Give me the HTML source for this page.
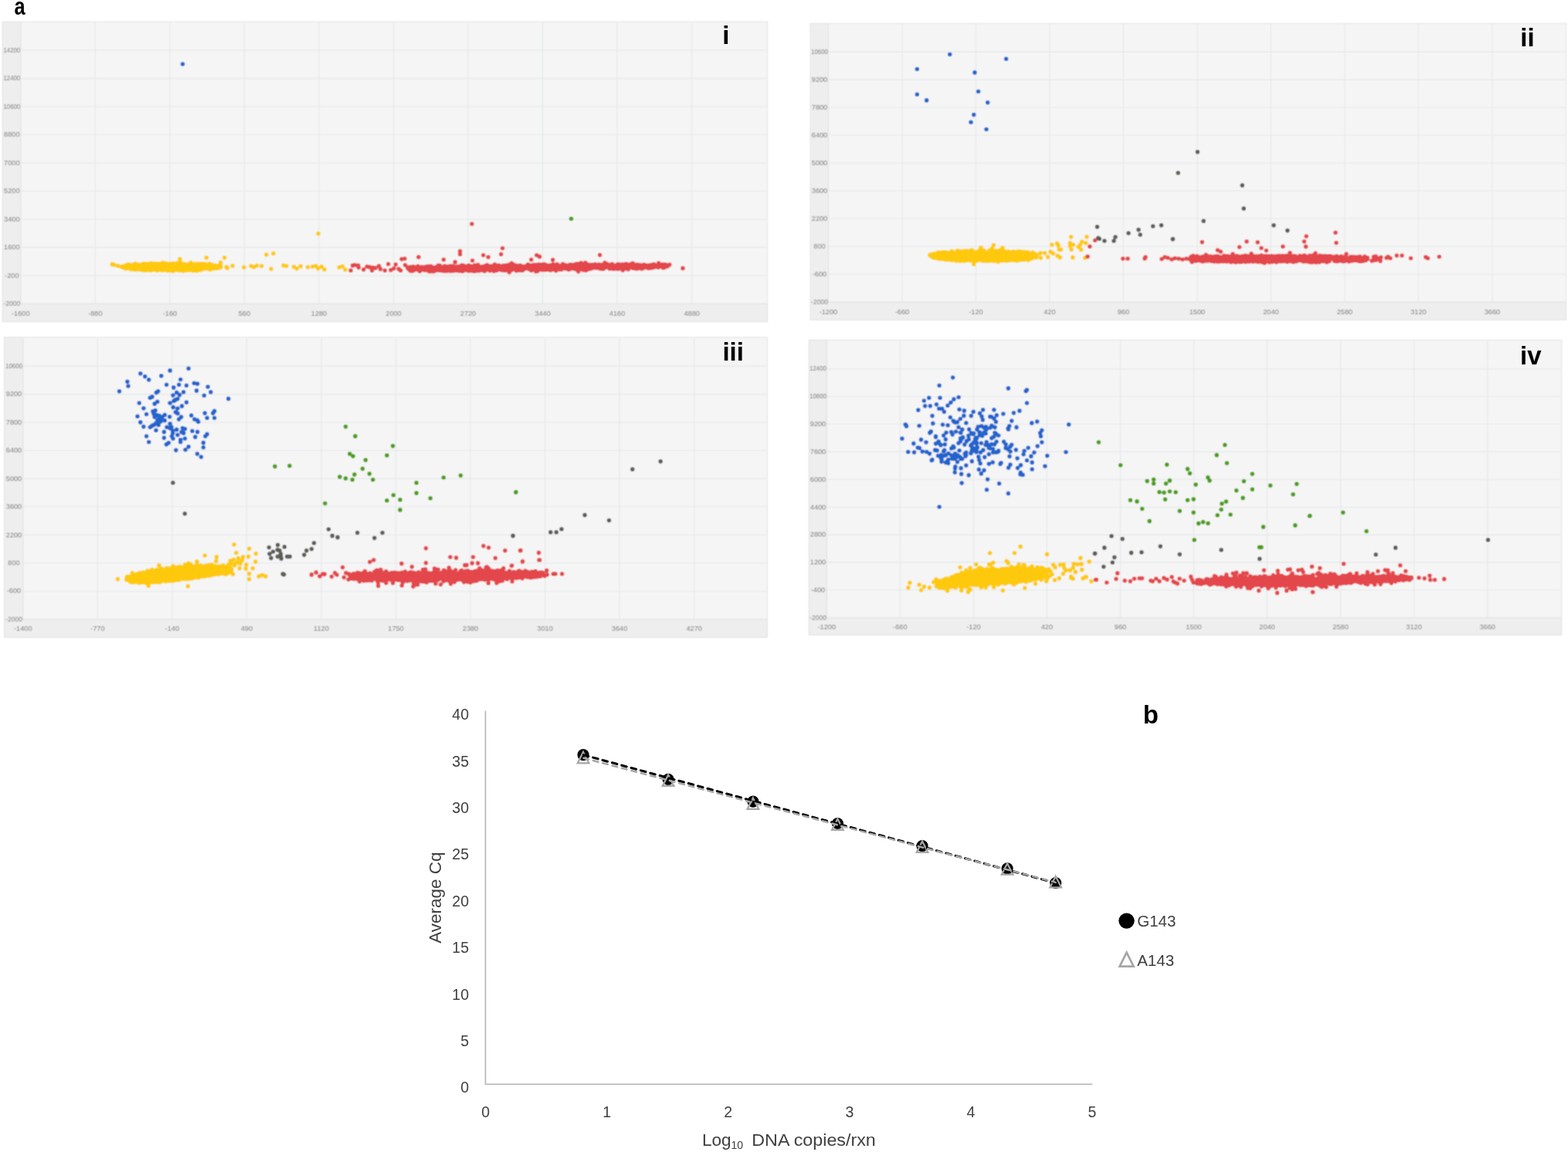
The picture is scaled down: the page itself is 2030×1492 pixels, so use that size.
<!DOCTYPE html><html><head><meta charset="utf-8"><title>Figure</title><style>html,body{margin:0;padding:0;background:#fff;}svg{display:block;}.tk{font-family:"Liberation Sans",Arial,sans-serif;font-size:9.5px;fill:#777;}.pl{font-family:"Liberation Sans",Arial,sans-serif;font-weight:bold;font-size:33px;fill:#000;}.ax{font-family:"Liberation Sans",Arial,sans-serif;fill:#404040;}</style></head><body>
<svg width="2030" height="1492" viewBox="0 0 2030 1492">
<rect width="2030" height="1492" fill="#fff"/>
<filter id="soft" filterUnits="userSpaceOnUse" x="0" y="20" width="2030" height="820"><feConvolveMatrix order="3" kernelMatrix="1 2 1 2 4 2 1 2 1" divisor="16" edgeMode="none"/></filter>
<g filter="url(#soft)">
<clipPath id="c0"><rect x="26.8" y="28.2" width="966.8" height="365.2"/></clipPath>
<rect x="3.2" y="28.2" width="990.4" height="388.4" fill="#eeeeee" stroke="#e0e0e0" stroke-width="1"/>
<rect x="26.8" y="28.7" width="966.3" height="364.7" fill="#f5f5f5"/>
<path d="M123.3 28.7V393.4M219.9 28.7V393.4M316.4 28.7V393.4M413 28.7V393.4M509.5 28.7V393.4M606 28.7V393.4M702.6 28.7V393.4M799.1 28.7V393.4M895.7 28.7V393.4M26.8 356.9H992.6M26.8 320.4H992.6M26.8 284H992.6M26.8 247.5H992.6M26.8 211H992.6M26.8 174.5H992.6M26.8 138H992.6M26.8 101.6H992.6M26.8 65.1H992.6" stroke="#e4e7e9" stroke-width="1.1" fill="none"/>
<path d="M26.8 28.7V393.4H993.1" stroke="#e2e2e2" stroke-width="1.2" fill="none"/>
<text class="tk" text-anchor="middle" transform="translate(15.3 396.1) scale(0.897 1)">-2000</text>
<text class="tk" text-anchor="middle" transform="translate(15.3 359.6) scale(0.970 1)">-200</text>
<text class="tk" text-anchor="middle" transform="translate(15.3 323.1) scale(0.970 1)">1600</text>
<text class="tk" text-anchor="middle" transform="translate(15.3 286.7) scale(0.970 1)">3400</text>
<text class="tk" text-anchor="middle" transform="translate(15.3 250.2) scale(0.970 1)">5200</text>
<text class="tk" text-anchor="middle" transform="translate(15.3 213.7) scale(0.970 1)">7000</text>
<text class="tk" text-anchor="middle" transform="translate(15.3 177.2) scale(0.970 1)">8800</text>
<text class="tk" text-anchor="middle" transform="translate(15.3 140.7) scale(0.825 1)">10600</text>
<text class="tk" text-anchor="middle" transform="translate(15.3 104.3) scale(0.825 1)">12400</text>
<text class="tk" text-anchor="middle" transform="translate(15.3 67.8) scale(0.825 1)">14200</text>
<text class="tk" text-anchor="middle" transform="translate(26.8 408.7) scale(0.97 1)">-1600</text>
<text class="tk" text-anchor="middle" transform="translate(123.3 408.7) scale(0.97 1)">-880</text>
<text class="tk" text-anchor="middle" transform="translate(219.9 408.7) scale(0.97 1)">-160</text>
<text class="tk" text-anchor="middle" transform="translate(316.4 408.7) scale(0.97 1)">560</text>
<text class="tk" text-anchor="middle" transform="translate(413 408.7) scale(0.97 1)">1280</text>
<text class="tk" text-anchor="middle" transform="translate(509.5 408.7) scale(0.97 1)">2000</text>
<text class="tk" text-anchor="middle" transform="translate(606 408.7) scale(0.97 1)">2720</text>
<text class="tk" text-anchor="middle" transform="translate(702.6 408.7) scale(0.97 1)">3440</text>
<text class="tk" text-anchor="middle" transform="translate(799.1 408.7) scale(0.97 1)">4160</text>
<text class="tk" text-anchor="middle" transform="translate(895.7 408.7) scale(0.97 1)">4880</text>
<clipPath id="c1"><rect x="1072.4" y="30.4" width="955.2" height="360.8"/></clipPath>
<rect x="1049.1" y="30.4" width="978.5" height="383.8" fill="#eeeeee" stroke="#e0e0e0" stroke-width="1"/>
<rect x="1072.4" y="30.9" width="954.7" height="360.3" fill="#f5f5f5"/>
<path d="M1167.9 30.9V391.2M1263.4 30.9V391.2M1358.9 30.9V391.2M1454.4 30.9V391.2M1549.9 30.9V391.2M1645.4 30.9V391.2M1740.9 30.9V391.2M1836.4 30.9V391.2M1931.9 30.9V391.2M1072.4 355.2H2026.6M1072.4 319.2H2026.6M1072.4 283.3H2026.6M1072.4 247.3H2026.6M1072.4 211.3H2026.6M1072.4 175.3H2026.6M1072.4 139.3H2026.6M1072.4 103.4H2026.6M1072.4 67.4H2026.6" stroke="#e4e7e9" stroke-width="1.1" fill="none"/>
<path d="M1072.4 30.9V391.2H2027.1" stroke="#e2e2e2" stroke-width="1.2" fill="none"/>
<text class="tk" text-anchor="middle" transform="translate(1061 393.9) scale(0.897 1)">-2000</text>
<text class="tk" text-anchor="middle" transform="translate(1061 357.9) scale(0.970 1)">-600</text>
<text class="tk" text-anchor="middle" transform="translate(1061 321.9) scale(0.970 1)">800</text>
<text class="tk" text-anchor="middle" transform="translate(1061 286) scale(0.970 1)">2200</text>
<text class="tk" text-anchor="middle" transform="translate(1061 250) scale(0.970 1)">3600</text>
<text class="tk" text-anchor="middle" transform="translate(1061 214) scale(0.970 1)">5000</text>
<text class="tk" text-anchor="middle" transform="translate(1061 178) scale(0.970 1)">6400</text>
<text class="tk" text-anchor="middle" transform="translate(1061 142) scale(0.970 1)">7800</text>
<text class="tk" text-anchor="middle" transform="translate(1061 106.1) scale(0.970 1)">9200</text>
<text class="tk" text-anchor="middle" transform="translate(1061 70.1) scale(0.825 1)">10600</text>
<text class="tk" text-anchor="middle" transform="translate(1072.4 406.5) scale(0.97 1)">-1200</text>
<text class="tk" text-anchor="middle" transform="translate(1167.9 406.5) scale(0.97 1)">-660</text>
<text class="tk" text-anchor="middle" transform="translate(1263.4 406.5) scale(0.97 1)">-120</text>
<text class="tk" text-anchor="middle" transform="translate(1358.9 406.5) scale(0.97 1)">420</text>
<text class="tk" text-anchor="middle" transform="translate(1454.4 406.5) scale(0.97 1)">960</text>
<text class="tk" text-anchor="middle" transform="translate(1549.9 406.5) scale(0.97 1)">1500</text>
<text class="tk" text-anchor="middle" transform="translate(1645.4 406.5) scale(0.97 1)">2040</text>
<text class="tk" text-anchor="middle" transform="translate(1740.9 406.5) scale(0.97 1)">2580</text>
<text class="tk" text-anchor="middle" transform="translate(1836.4 406.5) scale(0.97 1)">3120</text>
<text class="tk" text-anchor="middle" transform="translate(1931.9 406.5) scale(0.97 1)">3660</text>
<clipPath id="c2"><rect x="29.8" y="436.9" width="963.5" height="365.2"/></clipPath>
<rect x="5.6" y="436.9" width="987.7" height="388.6" fill="#eeeeee" stroke="#e0e0e0" stroke-width="1"/>
<rect x="29.8" y="437.4" width="963" height="364.7" fill="#f5f5f5"/>
<path d="M126.3 437.4V802.1M222.8 437.4V802.1M319.4 437.4V802.1M415.9 437.4V802.1M512.5 437.4V802.1M609 437.4V802.1M705.6 437.4V802.1M802.1 437.4V802.1M898.7 437.4V802.1M29.8 765.7H992.3M29.8 729.2H992.3M29.8 692.8H992.3M29.8 656.3H992.3M29.8 619.9H992.3M29.8 583.5H992.3M29.8 547H992.3M29.8 510.6H992.3M29.8 474.1H992.3" stroke="#e4e7e9" stroke-width="1.1" fill="none"/>
<path d="M29.8 437.4V802.1H992.8" stroke="#e2e2e2" stroke-width="1.2" fill="none"/>
<text class="tk" text-anchor="middle" transform="translate(18 804.8) scale(0.897 1)">-2000</text>
<text class="tk" text-anchor="middle" transform="translate(18 768.4) scale(0.970 1)">-600</text>
<text class="tk" text-anchor="middle" transform="translate(18 731.9) scale(0.970 1)">800</text>
<text class="tk" text-anchor="middle" transform="translate(18 695.5) scale(0.970 1)">2200</text>
<text class="tk" text-anchor="middle" transform="translate(18 659) scale(0.970 1)">3600</text>
<text class="tk" text-anchor="middle" transform="translate(18 622.6) scale(0.970 1)">5000</text>
<text class="tk" text-anchor="middle" transform="translate(18 586.2) scale(0.970 1)">6400</text>
<text class="tk" text-anchor="middle" transform="translate(18 549.7) scale(0.970 1)">7800</text>
<text class="tk" text-anchor="middle" transform="translate(18 513.3) scale(0.970 1)">9200</text>
<text class="tk" text-anchor="middle" transform="translate(18 476.8) scale(0.825 1)">10600</text>
<text class="tk" text-anchor="middle" transform="translate(29.8 817.4) scale(0.97 1)">-1400</text>
<text class="tk" text-anchor="middle" transform="translate(126.3 817.4) scale(0.97 1)">-770</text>
<text class="tk" text-anchor="middle" transform="translate(222.8 817.4) scale(0.97 1)">-140</text>
<text class="tk" text-anchor="middle" transform="translate(319.4 817.4) scale(0.97 1)">490</text>
<text class="tk" text-anchor="middle" transform="translate(415.9 817.4) scale(0.97 1)">1120</text>
<text class="tk" text-anchor="middle" transform="translate(512.5 817.4) scale(0.97 1)">1750</text>
<text class="tk" text-anchor="middle" transform="translate(609 817.4) scale(0.97 1)">2380</text>
<text class="tk" text-anchor="middle" transform="translate(705.6 817.4) scale(0.97 1)">3010</text>
<text class="tk" text-anchor="middle" transform="translate(802.1 817.4) scale(0.97 1)">3640</text>
<text class="tk" text-anchor="middle" transform="translate(898.7 817.4) scale(0.97 1)">4270</text>
<clipPath id="c3"><rect x="1070.3" y="440.3" width="951.4" height="359.8"/></clipPath>
<rect x="1047.2" y="440.3" width="974.5" height="382.2" fill="#eeeeee" stroke="#e0e0e0" stroke-width="1"/>
<rect x="1070.3" y="440.8" width="950.9" height="359.3" fill="#f5f5f5"/>
<path d="M1165.3 440.8V800.1M1260.4 440.8V800.1M1355.4 440.8V800.1M1450.5 440.8V800.1M1545.5 440.8V800.1M1640.5 440.8V800.1M1735.6 440.8V800.1M1830.6 440.8V800.1M1925.7 440.8V800.1M1070.3 764.3H2020.7M1070.3 728.4H2020.7M1070.3 692.6H2020.7M1070.3 656.8H2020.7M1070.3 621H2020.7M1070.3 585.1H2020.7M1070.3 549.3H2020.7M1070.3 513.5H2020.7M1070.3 477.6H2020.7" stroke="#e4e7e9" stroke-width="1.1" fill="none"/>
<path d="M1070.3 440.8V800.1H2021.2" stroke="#e2e2e2" stroke-width="1.2" fill="none"/>
<text class="tk" text-anchor="middle" transform="translate(1059 802.8) scale(0.897 1)">-2000</text>
<text class="tk" text-anchor="middle" transform="translate(1059 767) scale(0.970 1)">-400</text>
<text class="tk" text-anchor="middle" transform="translate(1059 731.1) scale(0.970 1)">1200</text>
<text class="tk" text-anchor="middle" transform="translate(1059 695.3) scale(0.970 1)">2800</text>
<text class="tk" text-anchor="middle" transform="translate(1059 659.5) scale(0.970 1)">4400</text>
<text class="tk" text-anchor="middle" transform="translate(1059 623.7) scale(0.970 1)">6000</text>
<text class="tk" text-anchor="middle" transform="translate(1059 587.8) scale(0.970 1)">7600</text>
<text class="tk" text-anchor="middle" transform="translate(1059 552) scale(0.970 1)">9200</text>
<text class="tk" text-anchor="middle" transform="translate(1059 516.2) scale(0.825 1)">10800</text>
<text class="tk" text-anchor="middle" transform="translate(1059 480.3) scale(0.825 1)">12400</text>
<text class="tk" text-anchor="middle" transform="translate(1070.3 815.4) scale(0.97 1)">-1200</text>
<text class="tk" text-anchor="middle" transform="translate(1165.3 815.4) scale(0.97 1)">-660</text>
<text class="tk" text-anchor="middle" transform="translate(1260.4 815.4) scale(0.97 1)">-120</text>
<text class="tk" text-anchor="middle" transform="translate(1355.4 815.4) scale(0.97 1)">420</text>
<text class="tk" text-anchor="middle" transform="translate(1450.5 815.4) scale(0.97 1)">960</text>
<text class="tk" text-anchor="middle" transform="translate(1545.5 815.4) scale(0.97 1)">1500</text>
<text class="tk" text-anchor="middle" transform="translate(1640.5 815.4) scale(0.97 1)">2040</text>
<text class="tk" text-anchor="middle" transform="translate(1735.6 815.4) scale(0.97 1)">2580</text>
<text class="tk" text-anchor="middle" transform="translate(1830.6 815.4) scale(0.97 1)">3120</text>
<text class="tk" text-anchor="middle" transform="translate(1925.7 815.4) scale(0.97 1)">3660</text>
<g clip-path="url(#c0)" fill="none" stroke-linecap="round" stroke-width="5.6">
<path stroke="#fec90f" d="M412.1 302.6h0M290.6 333.7h0M267.2 333.7h0M232.8 335.5h0M285.7 340h0M293.1 345.8h0M294.3 347.3h0M301 344.3h0M315.8 346.3h0M325.1 344.5h0M328.8 345.8h0M332.5 344h0M338.7 344.5h0M344.8 329.8h0M353.9 328.3h0M351 348.3h0M367 343.8h0M370.7 344.5h0M380.5 345.5h0M384.2 347.8h0M389.2 344.8h0M398.5 346h0M404.7 345.3h0M408.9 344.5h0M411.8 347.8h0M416.3 345.3h0M420 349h0M439.2 346.3h0M443.3 345h0M447 349.3h0M145.3 342.4h0M147.8 343h0M152.7 344.3h0M214.9 347.6h0M166 342.6h0M251.8 344.2h0M184.1 342.5h0M213 348.7h0M202.7 345.4h0M237.3 345.3h0M218.6 348.7h0M179.8 345.3h0M226.4 349.6h0M247.3 341.2h0M215.5 347.9h0M221 344h0M200.1 345.3h0M260.9 347.2h0M160.1 346.1h0M172.3 345.1h0M274.4 343.8h0M186.8 348.3h0M171.8 346.8h0M280.3 344.2h0M216.6 342.1h0M176.1 347.6h0M194.9 346.6h0M173.9 344.8h0M173.2 345.6h0M248.7 348.4h0M275.6 345.5h0M244.4 345.7h0M255.1 347h0M213.8 343.2h0M178.8 348.3h0M215.9 343h0M165.9 346.1h0M218.6 342.9h0M163.2 344.8h0M228.3 342.6h0M253 350.2h0M255.6 342.6h0M208.1 349.6h0M175.5 344.8h0M176.2 345.5h0M194.9 350.2h0M278.9 343.9h0M201.8 349.4h0M197.3 344.9h0M226.4 347.6h0M259.2 343.3h0M265.9 346.1h0M175.2 345.1h0M184.7 347.5h0M252.4 342h0M211.4 343.3h0M232.2 344.3h0M240.7 345.6h0M215.4 343.1h0M204.7 342.4h0M191.3 344.2h0M225.1 344.6h0M214.5 349h0M232.3 344.1h0M212 345.5h0M225.8 345.4h0M190.4 344.2h0M252.4 349.4h0M209.5 349h0M253.5 348.7h0M233.8 341h0M227 348.4h0M240.5 350.1h0M204.1 341.9h0M274.5 347.9h0M249.7 347.3h0M224.3 348.1h0M270.4 347.2h0M246.6 349.6h0M224.3 346.5h0M184.1 346.1h0M224.6 350.1h0M236.8 348.8h0M260.2 349.6h0M245.9 342.3h0M170.1 348.6h0M240.9 344.6h0M210.1 345.2h0M220 342.4h0M219.9 343.9h0M231 341.8h0M234.4 346.5h0M272.4 347.1h0M230.3 341.7h0M180 347.2h0M228 347.4h0M163 347.2h0M236.2 347.9h0M200.6 344.5h0M168.7 347.3h0M270.9 343.2h0M271.1 346.2h0M196 345.1h0M236.8 347.9h0M199.5 343.7h0M196.4 346.4h0M282 345.1h0M231.1 347.9h0M201.1 344.6h0M230.4 343.8h0M259.1 349.4h0M224.2 344.6h0M205.7 349.3h0M168.7 344.5h0M210.5 347h0M238 347.8h0M247.8 346.4h0M222.5 345.8h0M197.2 344.2h0M215.2 343h0M230.1 348.5h0M250.5 347.4h0M175 349.1h0M196.6 345.2h0M205.9 343.7h0M255.1 343.3h0M221.2 348.9h0M261.3 343h0M158.9 345.9h0M233.1 343.6h0M217.8 347.3h0M188.1 342.3h0M211 346.6h0M219.6 346.6h0M222.7 345.7h0M223.6 344.5h0M184.5 348.7h0M236.2 346.5h0M270.9 341.5h0M187.4 345.9h0M222.9 342.3h0M191.5 347.6h0M235.8 346.9h0M218.7 345.8h0M184.3 343.1h0M218.7 346.9h0M194.9 343.5h0M237.2 344.6h0M217 342.4h0M180.7 343.3h0M203.4 347.5h0M228.6 346.4h0M184.1 349.8h0M268.4 343.6h0M181.1 346.6h0M253 345.1h0M231.3 344.7h0M284.4 343.8h0M228.4 346h0M186.5 349.5h0M160.8 345.2h0M255.6 349.2h0M271.6 346.5h0M253.5 346.9h0M215.2 345.3h0M191.9 347.5h0M241.5 349h0M240.9 349.8h0M260.7 348.3h0M238.7 343.8h0M254 345.2h0M275.5 343.8h0M257.4 349.4h0M255.4 344.5h0M260.4 344.7h0M284.2 346.4h0M245.8 344.2h0M260.3 346h0M242.2 346h0M220.5 347.6h0M233 345h0M172.4 344.5h0M267.4 344.2h0M219.1 348.1h0M248.9 342.9h0M265.2 347h0M192.9 342.9h0M190.3 341.7h0M207.9 345h0M215.5 345.6h0M186 346.6h0M159.5 344.8h0M248.7 348.1h0M215.4 347h0M222.2 350.4h0M196.6 343.9h0M235.9 347.4h0M242.6 345h0M242.1 347.4h0M202.6 347.1h0M260.9 346.8h0M190.9 346.6h0M204.4 346.4h0M215.9 343.7h0M230.9 342.1h0M175.8 347.6h0M186.7 344.7h0M248.1 346.9h0M234 345.5h0M240.4 347.1h0M219.6 349.5h0M204.6 345.5h0M265.3 344.7h0M256.8 347.2h0M162.5 348h0M264.8 341.7h0M208 349.1h0M196 346.6h0M203.1 345.8h0M236.9 348.4h0M211.6 344.7h0M197.2 346h0M212.4 345.6h0M172.7 346h0M192.7 342.2h0M231.3 346.4h0M229.8 340.9h0M182.8 343.9h0M205.7 345.4h0M240.9 346.4h0M223.9 350.9h0M224.6 343.6h0M169.6 348.8h0M224.9 342.3h0M202.8 345.2h0M220.2 349.9h0M255.5 343h0M200.9 348.8h0M191.3 349.4h0M233.6 345.9h0M257.5 343.1h0M221.7 348.7h0M277.1 345.9h0M161.1 347.1h0M201 343.5h0M211.4 347.6h0M228.4 348.1h0M229.8 346.5h0M202.1 347h0M247.3 348.4h0M266 347.8h0M243.9 344.9h0M216.2 344.9h0M255.6 348.2h0M240.4 342.4h0M205.1 347.1h0M182.1 346.3h0M185.3 349.1h0M236.7 347.6h0M283.9 345.3h0M265.8 346.9h0M202.6 342.8h0M200.3 343h0M161.5 344.2h0M211.8 342.9h0M162.9 343.9h0M165.2 345.2h0M246 343.3h0M215.9 342.4h0M211.5 346h0M274.4 347.4h0M181.4 345.7h0M199 343h0M208.8 341.4h0M167 344.7h0M189.5 345.2h0M244.7 343.1h0M274.1 344.6h0M169.1 346.3h0M173.7 345.8h0M251.3 348.4h0M175.9 343.4h0M186.7 344.4h0M251.4 348h0M200.8 341.6h0M237 345.1h0M223.7 344.7h0M254.1 346.8h0M223.3 341.4h0M228.1 346.6h0M240.5 342.6h0M199.5 341.7h0M216.8 349.1h0M214.2 347.4h0M164.3 346.1h0M216.2 348.3h0M278.2 347.6h0M231.1 349.9h0M269.1 347.4h0M227.7 343.3h0M230.3 345.4h0M205.2 343.5h0M217.4 341.8h0M213.3 348h0M218.4 342.8h0M178.5 345h0M229.6 348.5h0M255 343.9h0M244.9 349.1h0M208.6 342h0M216.8 345.7h0M184.5 346h0M178.3 347.5h0M246.3 345.1h0M216.9 348.5h0M271.3 347.1h0M199.2 346.1h0M244 346.8h0M208.8 341.5h0M226.2 345.3h0M214.9 343.8h0M267.6 345.3h0M218.9 344.1h0M272.9 345.5h0M200.3 343.8h0M201.5 343.7h0M190.3 345.9h0M247 348.1h0M220.6 349.8h0M197.3 343.7h0M190.3 344.6h0M204.9 345.9h0M215.2 341.6h0M249.7 345.5h0M237.6 348.5h0M230.9 345.1h0M174.8 342.7h0M219.6 343.4h0M195.9 348.1h0M252.9 343.8h0M232 347h0M285 345h0M231.1 347.1h0M169.3 346.9h0M171 345.9h0M230.5 349.3h0M261.9 345.5h0M231.6 346.7h0M262.1 347.1h0M201.2 345.4h0M167.4 342.7h0M267.4 343.8h0M214.1 341.1h0M215 348.2h0M198.2 341.4h0M225.7 345.5h0M174.1 346h0M210.8 346.6h0M211.2 346.5h0M238 342h0M203 349.7h0M272.4 346.2h0M201 347.7h0M220 342.4h0M170.4 345.6h0M225.1 345h0M235.3 350.3h0M260.4 341.7h0M242.8 344.9h0M220.9 345.1h0M238.3 345.8h0M246.9 340.3h0M165.4 345h0M242.7 344h0M237.4 346.7h0M182.2 349.1h0M247.8 342.8h0M215.5 342.6h0M207.8 344.2h0M248.6 344h0M226.6 342.3h0M233 345.5h0M241 345.8h0M224.3 344h0M214.6 349h0M230 346.1h0M195.3 345.6h0M191.1 349.3h0M252 343.4h0M160.7 345.4h0M210.7 347.6h0M199.8 346h0M209 348.5h0M228.5 343.9h0M201.9 346h0M240.2 343.3h0M250.4 349.6h0M188.7 348.7h0M222.4 344.3h0M231.3 343.1h0M162.9 346.4h0M243.2 349.8h0M207.1 341.9h0M234.5 341h0M249.8 350.4h0M281.6 347.3h0M247 348.5h0M186.5 347.1h0M229.8 342.7h0M247.7 346h0M228.7 345.7h0M171.3 343.8h0M193.7 345.2h0M175.5 342.4h0M228.2 343.1h0M246.9 343.1h0M181.7 344.1h0M227.9 341.5h0M284.5 345.7h0M263.5 344.9h0M240.6 349.6h0M263.6 348h0M240.3 348.1h0M246.5 342.6h0M209.2 347.7h0M271.6 347.1h0M221.1 345.6h0M190.2 345.9h0M176.8 344.8h0M182.2 345.6h0M230.9 344.9h0M233.4 350.3h0M251 344.4h0M242.9 344.5h0M199 344.7h0M220.9 344h0M246.1 343.9h0M226.8 345.7h0M240.9 347.7h0M246.9 346.5h0M205 345.4h0M248.7 346.8h0M208.8 343.4h0M210 345.3h0M167 345.3h0M219.4 344.1h0M203.4 344.1h0M238.7 342.7h0M191.6 348.4h0M227.2 349.4h0M214.6 347.1h0M190.7 345.8h0M193.8 346.3h0M262.4 345.2h0M209 346.5h0M263.2 343.6h0M276.2 347.4h0M201.1 342.6h0M229 345.4h0M200.4 348.5h0M199.3 348.8h0M207.1 344.6h0M237.2 347.4h0M235.4 345h0M255.4 345.3h0M195 345.7h0M201.3 344.2h0M259.4 346.2h0M196.3 347.5h0M177.9 348.7h0M269.9 345.3h0M205.5 346.6h0M221.1 346.7h0M222.1 345.6h0M247.1 347.2h0M183.5 342.5h0M196.6 344.7h0M164.2 346h0M200.1 347.5h0M176.6 345.7h0M270.2 343.3h0M205.6 343.3h0M211.7 343h0M174.5 344.6h0M216.7 342.1h0M234 340.8h0M186.6 341.6h0M213.1 344.9h0M214.1 348h0M250.3 343h0M202.7 341.6h0M204.4 348.3h0M184.2 346.5h0M185.3 343.7h0M271.4 347.8h0M239.9 344.1h0M229.7 346.9h0M176 343.3h0M213.6 343.2h0M270.7 347.8h0M283.3 344.6h0M174.8 345.6h0M240.1 349.3h0M271.3 345.4h0M236.9 343h0M227.7 342.8h0M198.5 342.9h0M199.5 345.9h0M241.9 347.5h0M176.5 344h0M185.4 345.7h0M248.9 343.6h0M223.8 345h0M242.9 344.9h0M259.3 346.1h0M233.7 339.9h0M262.7 348.3h0M175.1 341.6h0M249 346.3h0M197.1 344.6h0M215.7 348.1h0M276 346.4h0M201.9 344.4h0M256.1 341.9h0M193 343.6h0M248.2 341.9h0M234.1 348.4h0M198.6 346.3h0M222.9 349h0M222.7 348.9h0M224.5 347.2h0M158.3 345.8h0M225.7 341.2h0M217.9 347h0M259.8 348.7h0M209.9 345.9h0M256.1 344.1h0M163.1 345.7h0M274 342.8h0M176.2 343.3h0M251.7 342.5h0M188.9 349.9h0M176.8 343.4h0M225.7 348h0M279.7 346.6h0M170.7 347.6h0M263.5 346.8h0M233.4 344.6h0M180.1 348.2h0M198 344h0M264.9 345.3h0M187.1 348.4h0M225.4 342.4h0M250.2 342h0M248.7 344.9h0M257.6 348.1h0M222.9 348.2h0M191.8 342.8h0M238.8 343h0M228.8 345.9h0M210.6 347.1h0M243.8 347.6h0M164.5 347.2h0M200.2 348.7h0M197.6 343.2h0M159.6 346.1h0M209.2 345.2h0M217.6 345.6h0M218.1 344.5h0M249.6 348.8h0M218.4 345.2h0M238.8 345.3h0M270.4 347.3h0M234.9 342.9h0M188.8 345.4h0M263 343.1h0M184.2 346.5h0M254.3 346.9h0M224.9 342.2h0M188.4 342.5h0M274.4 344h0M238.2 345.6h0M210.6 345.2h0M255.3 350.6h0M240.3 345.1h0M174 349.1h0M210.4 343.6h0M207.1 349.1h0M173.9 347h0M262.4 344.4h0M251.8 347.2h0M226.2 341.8h0M215.9 346.6h0M242.7 349.2h0M203.5 350.3h0M253.7 345.6h0M198.3 343.8h0M172 343.1h0M262.8 346.8h0M180.7 347.6h0M217.4 348.9h0M192.7 346.4h0M240.6 344.4h0M174.6 345.3h0M205.7 348.6h0M256.7 349h0M229.6 348.9h0M268.6 347.8h0M211 349.9h0M226.9 346.1h0M160 346.1h0M239.2 349.6h0M199.7 345.7h0M221.4 349.2h0M230.5 347.9h0M228.4 344.6h0M205.7 342.9h0M196 343.2h0M187.4 348.2h0M179.9 346.3h0M212.2 342.3h0M269.1 347.3h0M173 346.9h0M207.8 348.5h0M258.5 344.8h0M216.3 348.8h0M247.6 348.2h0M243.6 343.5h0M177.5 345.4h0M240.2 349.2h0M222.8 343.6h0M259.6 347.2h0M213.9 346.8h0M265.8 342.4h0M211 340.4h0M225.3 344.3h0M192.7 346.4h0M198.5 344.6h0M285.7 344.5h0M245.9 342.5h0M282 345.6h0M200.1 344.9h0M250 346h0M237.2 350.8h0M207.5 348.2h0M184.4 346.5h0M227.1 344.3h0M206.9 349.1h0M232.2 344.1h0M181.4 345.3h0M162.2 344.8h0M219 346.8h0M200.2 344h0M205.1 342.6h0M239 345.3h0M236.9 346.6h0M217 350.5h0M215.6 348.4h0M248.5 341.9h0M254.6 346.4h0M180.1 347.8h0M194.8 347.5h0M167.4 347.5h0M238.5 343.7h0M267.9 344.1h0M260.7 343.9h0M186.2 341.5h0M224.9 348h0M268.8 345.6h0M182.5 346.8h0M217.4 342.2h0M272 348.9h0M164.6 344.6h0M206.1 348.9h0M234.3 347.6h0M213.1 342.3h0M285.7 346.1h0M277.9 346.3h0M167.9 343.7h0M179.7 348.8h0M259.5 347.2h0M246 341.3h0M209.6 345.8h0M194.8 341h0M232.4 347h0M242.9 345.4h0M240 346.2h0M230.5 342.2h0M256.1 348.4h0M165.9 344.2h0M254.4 348.8h0M225.3 344.5h0M271.2 346.7h0M247.8 346.7h0M191.6 346.8h0M157 345.5h0M250.5 346.1h0M270.1 348.1h0M178.2 342.6h0M230.9 342.7h0M229.8 348.2h0M242 347.1h0M219.6 347.6h0M196.9 349.4h0M223.3 346.1h0M174.2 347.4h0M179.9 344.4h0M192.8 345.8h0M261.2 345h0M221.1 342.6h0M275.7 345.3h0M172.5 345.9h0M178.3 347.6h0M257.4 342h0M285.4 345.3h0M215.1 346.9h0M201.7 343.3h0M261.6 341.9h0M248.6 342h0M265.1 347.7h0M166.6 343.5h0M188.8 344h0M211 348h0M245.1 349.6h0M237.6 346.5h0M262.1 347.6h0M238.1 344.6h0M205.1 346h0M214.8 349.3h0M251.6 343.5h0M191.5 347.6h0M236.7 342.7h0M204.3 348.9h0M185.9 350h0M269.4 346.8h0M215.7 350.1h0M180.3 347.2h0M257.8 348.3h0M220.2 341.8h0M266.3 345.9h0M223 346h0M177.7 343.9h0M179.8 343.1h0M223.9 350.5h0M203.7 343.4h0M262.1 342.9h0M200.1 347.2h0M199.7 342.1h0M179 345.7h0M269 345.7h0M213.7 345.8h0M182.2 346.7h0M256.4 347.1h0"/>
<path stroke="#e4474b" d="M610.9 290h0M595.6 325.4h0M595.6 329.2h0M650.6 321.5h0M648.7 329.2h0M625.7 330.5h0M632.1 333h0M776.6 330.2h0M694.8 330.5h0M698.6 332.4h0M687.8 336.2h0M884 347.4h0M866.8 342.8h0M860.7 345.6h0M853.6 342.7h0M541.8 333h0M520 335.6h0M523.9 335h0M574.4 336.2h0M589.2 339.4h0M611.6 337.5h0M715.7 336.6h0M542 333h0M454.1 350.3h0M456.6 343.9h0M459.2 343.3h0M463.7 343.9h0M464.3 346.5h0M470.7 349.1h0M475.2 345.2h0M478.4 345.9h0M481.6 350.3h0M482.9 346.5h0M486.1 347.1h0M490.6 344.6h0M492.5 348.4h0M498.3 350.3h0M502.7 342h0M505.9 349.7h0M509.8 347.8h0M512.3 342.6h0M516.2 348.4h0M518.7 350.3h0M524.5 343.3h0M527.7 347.1h0M529.6 349.1h0M534.8 348.4h0M720.8 348.8h0M659.4 346h0M553.5 347.8h0M603.5 345.7h0M759.1 346.9h0M536.2 348.7h0M724 349h0M597.9 348h0M744.9 345.6h0M618.9 348.1h0M827.2 346h0M753.7 344.5h0M690.1 347.6h0M661.9 345.3h0M680.7 346.1h0M801.8 343.5h0M618.5 347h0M855.5 343.8h0M690.5 343h0M776.5 347.8h0M669.2 349.5h0M624.4 345.3h0M629 349.1h0M780.8 343.4h0M662.3 346.7h0M619.7 347.3h0M662.2 341.1h0M622.1 346.3h0M651.8 345h0M663.3 346.8h0M757.8 346.4h0M604.7 345h0M813.3 342.8h0M844.5 346.6h0M759.4 347.1h0M746.5 345.8h0M606.4 348h0M762.1 348.1h0M643.2 350.3h0M716.4 346.3h0M575.4 349.1h0M618.1 346.3h0M731 343.5h0M793.7 344.2h0M698.1 343.2h0M688.4 345.2h0M732.3 345.6h0M782.9 345.3h0M779.1 348.1h0M537.2 346.4h0M704.7 344.7h0M862.2 343h0M571.8 348.7h0M531.8 350.6h0M580 349.1h0M662.3 343.9h0M588.5 347h0M832.5 346h0M792.5 342h0M542.6 350.1h0M829.8 344.1h0M826.2 345.1h0M654.8 349h0M704.7 347.6h0M794.4 345.5h0M676.3 345.6h0M717.1 346.7h0M744 344.2h0M754.2 348h0M552.1 345.3h0M844.7 344.4h0M809.8 342.5h0M817.2 343.4h0M649.1 346.2h0M609.6 348.4h0M789.4 345.3h0M751.2 347h0M695.4 347.1h0M582.6 350.1h0M686.5 343.7h0M541.7 347.8h0M863.4 343.9h0M847 343.7h0M733.6 344.4h0M569.3 346.5h0M806 343.4h0M715 348.3h0M856.3 344.8h0M775.2 344.1h0M560.8 347.3h0M772.1 345h0M746.9 346.1h0M718.5 343.3h0M630.6 349.2h0M541.9 349.5h0M594.3 346.6h0M707.7 347.1h0M775.5 342.6h0M614.6 343.5h0M602.2 345h0M704.3 346h0M711.6 346.2h0M834.3 343.2h0M751.2 344.4h0M599.5 349.5h0M749 347.9h0M561 348.3h0M759 344.9h0M861.1 344.5h0M709.9 345.7h0M701.6 349h0M682.6 346.1h0M757.7 344.4h0M585 347.2h0M697.2 347.7h0M560.9 346.6h0M850.6 344.3h0M797.4 344.1h0M717 346.6h0M625.2 349.9h0M596.4 346.5h0M615 345.8h0M540.9 348.5h0M827 343.6h0M695.2 344.3h0M648.8 348.6h0M625.1 349h0M604.6 346.3h0M766.8 343.6h0M668.4 345.9h0M843.2 345h0M854.3 343.3h0M809.8 347.8h0M658.7 345.6h0M741.9 344.7h0M753.6 348.6h0M864.1 345h0M599.8 349.5h0M564.1 349.5h0M655.3 346.8h0M684.8 346.1h0M656.6 345.5h0M549.8 346h0M819.8 345.2h0M715.1 344.6h0M605.7 347.5h0M658.8 345.9h0M606.5 346.3h0M609.2 345.9h0M631.8 344h0M744.6 345.9h0M540.4 348.3h0M806.6 343.1h0M635.5 349.3h0M652.2 344.6h0M597.8 343.6h0M712 347.5h0M652.3 344.7h0M787.2 344.7h0M846.7 342.3h0M565.4 347.9h0M699.7 346.1h0M751.4 344.6h0M554.2 348.2h0M851.1 345.6h0M628.3 346.2h0M659.3 348.5h0M800.9 347.3h0M769 346.6h0M565.7 350h0M752.8 344.9h0M796.1 344.3h0M578.2 346h0M735.5 347.9h0M579 345.2h0M820.5 343.6h0M645 343.7h0M536.3 349.4h0M843.4 343.6h0M623.2 346.9h0M603.6 347.4h0M549.5 349.7h0M584.1 351h0M614.4 346.6h0M660.6 350.8h0M671.2 348.2h0M636.7 345.1h0M727.3 347.1h0M860.2 346.5h0M775.7 342.9h0M754.4 343.3h0M807 346.9h0M531.8 345.7h0M776.5 346.6h0M652 344.5h0M815.1 344.4h0M627.5 350.9h0M637 346.7h0M561.8 348.5h0M733.1 343.7h0M575.7 344.6h0M763.3 343.5h0M776.8 345.5h0M820.7 346.3h0M737.4 343h0M788 343.1h0M595.1 350.8h0M593.5 349.4h0M723.9 346.6h0M803.6 344.3h0M622.3 347.6h0M643.8 345.6h0M853.8 344.2h0M772.7 343.9h0M673.8 349.9h0M816.7 343.1h0M646.7 347.3h0M806.2 350h0M788.6 347.1h0M558.1 345.3h0M845.9 345.1h0M719.6 345.5h0M774.9 343.7h0M818.7 345h0M738.7 344.1h0M574 348.8h0M544.2 349.6h0M556.2 351.4h0M567.5 349.8h0M538.7 347.3h0M664.1 342.4h0M747.7 348.3h0M599.2 350.3h0M655.7 347.2h0M682.6 344.7h0M632.9 345.9h0M758.4 347.4h0M683.1 345.9h0M547.1 346.2h0M720 343.8h0M788.3 347h0M616.4 343.8h0M606.2 347.8h0M800.9 343.5h0M609.2 350.6h0M704.8 347.6h0M642.1 347.8h0M834.8 345h0M789.7 345.6h0M818.3 341.3h0M757.8 340.2h0M772.2 347h0M774.9 345.4h0M641.4 349.6h0M551.6 347.9h0M804 345.4h0M715 347h0M690.2 348.9h0M582.8 344.6h0M822.6 347h0M797.9 346.4h0M821.8 345.7h0M658.2 347h0M602.6 349.8h0M759.5 343h0M613.9 348.6h0M640.6 349.6h0M790.6 344.1h0M787.6 344.9h0M852.7 340.7h0M783 340.3h0M858.4 346.8h0M708.7 344h0M722.1 343.9h0M572.2 346.8h0M710.1 344.9h0M557.5 344.8h0M758.3 350.1h0M678.2 345.3h0M761.7 343.9h0M577.3 346.9h0M702.7 347.6h0M776 344.8h0M578.8 350.2h0M842.8 347h0M705.5 342.5h0M606.2 350.6h0M617.6 344h0M649.3 347h0M637.2 346.1h0M805.5 344.9h0M760.1 345.4h0M680.6 344.9h0M535.2 345.4h0M611.3 346.9h0M650.1 350h0M751.7 343.7h0M572.2 350.4h0M809.2 344.5h0M740.1 343.4h0M646.1 346.3h0M667.2 346.1h0M713.6 347h0M826.1 347.4h0M721.1 344.6h0M700.9 349.1h0M837.6 343.9h0M835.2 346.5h0M647.8 349.1h0M762.6 343.4h0M684.3 347.5h0M689 348.9h0M619.7 346h0M714.4 345.5h0M767.4 347h0M530.5 348.4h0M851.8 343.4h0M785.7 344.3h0M671.2 350h0M534 351h0M639.9 345h0M691.8 347.3h0M839.8 347.2h0M659 349.7h0M536.2 346.5h0M639.3 344.4h0M738.9 342.9h0M537.8 347.9h0M626.1 347.9h0M737 343.4h0M669.6 349h0M769.9 343.7h0M586.1 344.5h0M633.3 348.2h0M553.9 346.9h0M729.8 346.9h0M745.4 347.6h0M749.5 341.8h0M825.9 343.1h0M733.6 344.4h0M551.6 347.8h0M675.7 345.3h0M642.6 346.5h0M665 346.6h0M659 343.1h0M691.2 345.2h0M747.2 347h0M628.8 348.2h0M842.1 346.3h0M685.5 344.5h0M580.1 350.5h0M820.9 344h0M557.8 347.1h0M819.5 345h0M789.6 346.7h0M777.4 345.6h0M594.6 345.2h0M703.9 342.2h0M710.4 348.1h0M619.5 346.5h0M663.9 347h0M607 349.2h0M677.3 347.1h0M563.6 350.1h0M567.6 348.5h0M731.3 343.4h0M749.1 348.7h0M744.8 345.4h0M595.3 348.8h0M638.5 349.3h0M607.1 347.6h0M641.5 347h0M636.4 344.6h0M805.2 344.6h0M801.2 342.3h0M550.4 347.8h0M584.6 345.5h0M779.9 347.7h0M672.5 349.9h0M773.4 344.2h0M670.7 344.4h0M655.6 347.4h0M606.5 349.5h0M531.9 348.9h0M786.4 344.5h0M673.9 344.4h0M565.2 345.9h0M636.9 345.4h0M714.3 343.2h0M774.2 346.8h0M687.2 346.7h0M747.2 344.4h0M777.2 345.4h0M591.7 346.8h0M720.2 346.1h0M554.6 345.4h0M564.2 346.1h0M691.8 344.8h0M830.9 345.6h0M691.9 346.3h0M593.1 348.3h0M664.7 347.8h0M766.7 346h0M632.8 347h0M791.9 347.7h0M826.4 345.7h0M579.6 348.5h0M768.7 342.9h0M562.6 349.2h0M815.8 346.1h0M733.1 347.1h0M721.3 342.2h0M600.9 347.7h0M596.2 347.2h0M541.1 344.9h0M594 348.6h0M752.2 340.5h0M766.6 343.7h0M707.6 344.7h0M806.6 344.9h0M637.7 348.4h0M577.2 349.6h0M708 348.7h0M734.5 344.7h0M642.6 348.6h0M595.6 350.4h0M780.9 346.5h0M630.1 347.5h0M848.5 343.9h0M857.7 342.5h0M758.6 342.8h0M619.3 347h0M626.3 350.2h0M835.4 344.5h0M545.5 347.1h0M726.9 348.9h0M709.8 349.2h0M575.1 351h0M673.6 343.7h0M781.5 348.1h0M805.1 346h0M823.2 343.1h0M621.8 346.3h0M536 347.8h0M755.7 344.3h0M799.2 343.8h0M570.7 346.7h0M704.6 348.5h0M581.5 345.9h0M805.8 343.3h0M620.1 349.9h0M643.3 349.4h0M574.2 345.7h0M718.7 346.2h0M810.9 346.4h0M638 348.3h0M562 351.2h0M576.2 350.1h0M756.3 345.4h0M586.1 346.9h0M551.7 349.8h0M609.3 345.3h0M551.9 348.3h0M782 346.2h0M688.3 346.9h0M605.5 346.1h0M589.4 347.4h0M726.5 344.9h0M802.8 344.9h0M764.3 343.1h0M661.1 349.1h0M841 343.5h0M780.1 347.2h0M610.2 350.1h0M854.9 343.9h0M705 349.4h0M647.7 345.8h0M659.3 352.6h0M714.2 346h0M636.8 344.9h0M719.8 350.4h0M655.6 345.9h0M552.3 348.2h0M670.4 349.1h0M629.7 346.3h0M709.4 345.5h0M710.6 343.8h0M649.7 349.8h0M546.8 349.1h0M700.9 342.9h0M805.9 342.6h0M674.7 348.3h0M674.5 349.2h0M573.6 347.5h0M721.9 347.7h0M782.3 344h0M622.5 349.7h0M818.9 347.1h0M588.1 349.9h0M744.5 347.5h0M553.5 347.3h0M552 349.8h0M559.5 347.2h0M833.6 342.9h0M666.1 345.3h0M728.3 347.3h0M802 344.3h0M591.8 346.6h0M740.6 343.4h0M762.7 343.9h0M594.1 346.2h0M780 345.7h0M797.1 347.3h0M736.2 344.3h0M847.5 344.2h0M739 343.2h0M663.2 345.6h0M688.3 345.7h0M763 347.2h0M765.3 343.2h0M616.4 344.9h0M591.1 349.5h0M745.8 348.5h0M694.2 347.3h0M630.9 346.1h0M820.6 342.9h0M618.9 343.1h0M661.7 347.4h0M599 347.3h0M724.9 345.7h0M708.5 349.3h0M678 346.4h0M602.3 346.3h0M662 349.1h0M590.4 349.9h0M672.9 349.4h0M578.6 350.5h0M743.4 343.8h0M541.6 349.5h0M815.1 344.8h0M694.3 347.9h0M552.4 346.9h0M528 346.4h0M627.7 344.6h0M803.7 347.3h0M799.5 348.2h0M794.5 348.3h0M665.5 346.1h0M617.8 345.7h0M776.9 344h0M641.9 347.1h0M785.5 344.3h0M688 347.1h0M700.8 347.9h0M706.6 346h0M566.8 346.5h0M643.5 344.6h0M746.2 341.9h0M843.8 343.1h0M732 347.7h0M584.4 348.1h0M630.1 347.4h0M774.7 345.3h0M582.5 349.8h0M643.3 347.6h0M702.6 347.4h0M790.5 344.6h0M853.8 345.5h0M566.5 346.5h0M630.5 346.3h0M576.9 350h0M712.1 347.4h0M555.2 350.9h0M821.6 347.4h0M759.2 341.9h0M644 346.4h0M552.8 346.6h0M786.2 342.1h0M611.9 349.5h0M626.2 348.6h0M604.7 345.8h0M557 346.8h0M653.4 346.5h0M602.6 345.7h0M640.9 349.3h0M750.4 346h0M696.4 346.4h0M765.4 347.7h0M661.3 348.4h0M850.7 344.9h0M539.3 347.1h0M610.5 346.3h0M593.2 348.6h0M631.2 348.4h0M608.2 347.9h0M832 347.4h0M688.7 345.2h0M711.7 347.4h0M780.5 343.2h0M743.4 342.8h0M568.5 349.5h0M743.8 348.1h0M624.7 348.1h0M726.9 348.5h0M573.6 347.2h0M670.2 346.9h0M697.5 342.6h0M656.7 344.2h0M689.3 343.7h0M626.6 349.2h0M717.6 346.3h0M659.3 345h0M704.2 342.9h0M748.1 348.9h0M807.4 344.6h0M822 346.6h0M634.3 350.4h0M773.1 344.7h0M820.5 345h0M693.8 348.4h0M712.4 349.2h0M676.3 350.2h0M605.5 347.6h0M540.5 345.7h0M831.6 344.6h0M737 345.9h0M547.1 346.4h0M668.4 345.8h0M711.4 347.3h0M676 349.8h0M635.5 349.6h0M639 347h0M807.9 347.1h0M763 348.3h0M720.5 346.6h0M623.7 347.2h0M852.2 345.9h0M651.6 344h0M770.8 345.1h0M779.7 348h0M659.8 346.8h0M530.5 346.3h0M749.1 342.9h0M602.1 347.3h0M665 344.8h0M740.7 344.9h0M720.8 345h0M765.8 344.3h0M598.9 351.3h0M813.4 348.8h0M659.8 343.6h0M787.6 346.5h0M810.4 341.9h0M585.1 345.4h0M739 347.5h0M601.6 345.4h0M716 342.4h0M606.8 343.9h0M589.9 345.5h0M780.7 345.9h0M683.6 344h0M651.6 345.3h0M631 347.1h0M675.4 348.9h0M566.7 348.1h0M675.4 345.2h0M706.4 344.1h0M716.5 348.8h0M824.7 344.2h0M567.4 346.7h0M572.7 349.2h0M606.8 346.4h0M820.5 345.5h0M559.6 347.5h0M575.5 346.9h0M555.7 346.9h0M673.5 345h0M701.3 346.4h0M704.1 345.6h0M819.3 341.1h0M686.1 347.7h0M854.1 343.9h0M786 344.2h0M848.5 344h0M716.3 346.5h0M821.2 346.7h0M769.2 346.4h0M672.2 346.1h0M811.3 346.1h0M759.8 349.4h0M610.2 347.7h0M591.8 345.5h0M653 347.6h0M718.9 344h0M587.7 350.2h0M750.4 348.3h0M617 349.4h0M667.7 343.8h0M590.6 346.3h0M830 346.8h0M739 343.8h0M854.5 344.8h0M623.1 346.7h0M534.8 349h0M559.2 348.5h0M776.1 346h0M654.2 345.3h0M641.1 349h0M705 347.2h0M734.1 344.3h0M764.5 347.1h0M640.5 342.6h0M755 349.6h0M630.5 343.3h0M728.7 342.1h0M830.3 347.1h0M639.3 347h0M687.6 349.3h0M569.4 344.1h0M797.5 345.4h0M828.8 343.3h0M839.4 347.5h0M675.7 346.5h0M682.5 346.2h0M784.4 345.6h0M773.6 346h0M587.7 347.5h0M695.9 351.1h0M604.8 347.7h0M547.7 348.1h0M806.1 344.4h0M852.7 343.4h0M581.2 347h0M782.8 344.4h0M770.5 346.5h0M541.1 348.8h0M757.9 346h0M609.8 344.9h0M728 346.9h0M612.8 347.3h0M856.9 344.9h0M566.7 349h0M641.7 348h0M812.8 346.8h0M724.1 348.3h0M655.5 343.6h0M828.8 343.3h0M846.4 344.9h0M608.8 350h0M766.9 343.5h0M638.6 348.8h0M754.8 344.7h0M608.2 347.3h0M859.1 345.8h0M682.7 347h0M794.7 345.3h0M817.2 345.1h0M702.9 346.1h0M790.9 347.6h0M550.6 349.7h0M705 343.9h0M575 350.4h0M788.8 344.3h0M823.3 346.4h0M821.9 344.5h0M761.3 344h0M591.5 346.9h0M728.2 345.5h0M806 344.9h0M746.6 349.1h0M659.7 345.1h0M821.5 346.1h0M585.6 344.8h0M652.8 348.1h0M770.9 346.3h0M717.3 346.7h0M573.5 347.6h0M539.6 348.5h0M762.4 347h0M642 346.8h0M852 346.2h0M567.1 349.8h0M640.1 346.8h0M795 347.6h0M803.6 344.3h0M595 350.8h0M555.8 347.4h0M627.3 347.4h0M586.6 345.8h0M597.4 346.1h0M661.2 346.3h0M805 342.9h0M685.9 344.6h0M807.5 346.8h0M532.4 347.9h0M775.2 345.3h0M801.9 345.4h0M596.9 346.3h0M739.6 345.3h0M780.6 346.8h0M707.9 347.4h0M734.2 347.1h0M742.4 343.3h0M626.2 350.4h0M576.8 347.9h0M797 347.6h0M786.6 345.3h0M684.7 346.3h0M730.2 346.1h0M781.6 346.1h0M772.6 344.8h0M582.8 346.9h0M608.8 347.5h0M603.2 345h0M753.1 346.7h0M593.6 347.1h0M757.6 346.4h0M824.2 342.9h0M679 348.5h0M567.8 345.8h0M740 347.8h0M589.3 345.7h0M635.8 349.8h0M675.2 344.9h0M754.2 348.9h0M623.9 349.6h0M699.6 348.9h0M616.6 350.7h0M741.9 344.4h0M722.8 346.5h0M542 348.7h0M660.4 347.1h0M530.5 349h0M697.3 344.4h0M624.3 349h0M727 345.2h0M742.2 347h0M734.3 346.4h0M775.9 345.7h0M760.8 342.7h0M733.8 348.1h0M816.4 342.4h0M719.5 350.3h0M736.3 349.1h0M829.1 343.8h0M715.7 344h0M800.5 348.2h0M739.3 346.7h0M530.7 350h0M649.6 346.1h0M737.1 346.6h0M621.9 346.2h0M569.5 346.6h0M733.6 346h0M589.1 346.2h0M720 343.9h0M735.2 348.5h0M667 343.7h0M611.8 345.1h0M663.3 349.2h0M613.7 349.8h0M537.5 348.3h0M588.9 346.5h0M789 345.1h0M693.8 351.4h0M736.3 344.3h0M555.5 350.1h0M684.2 346.4h0M748.8 351.6h0M785.7 345.9h0M530.3 348.7h0M546.4 348.5h0M822.5 347h0M762.1 344.3h0M687.9 350.2h0M564.9 347.8h0M725.6 347.4h0M778.6 347.7h0M661.7 348.5h0M812.7 345.4h0M749.7 345.8h0M565.8 347h0M582.8 350.7h0M630.2 346.5h0M830.7 347.9h0M601.6 346.9h0M729.5 346.8h0M629.9 349h0M665.4 345.9h0M684.7 344.3h0M596 344.9h0M766.5 347.1h0M665.1 347.9h0M606.7 346.8h0M666.9 344h0M657.9 344.8h0M842 345.1h0M570.3 345.2h0M577.7 348.1h0M759.6 345.4h0M627.6 346.4h0M593 349.9h0M531.2 350.6h0M557.8 350.1h0M750.5 347.2h0M577.4 348.5h0M650.2 347.7h0M605.8 348.5h0M591 349.9h0M741.5 345.3h0M744.2 346.1h0M813.8 345.9h0M769.3 344.2h0M859.2 343.7h0M760 347.7h0M571 347h0M802.4 345.8h0M857.9 343.6h0M712.8 349.2h0M549.2 347.5h0M772.8 345.5h0M551.2 349.1h0M691.5 343.9h0M590.8 350h0M613.5 351.2h0M807.2 343.4h0M590.7 350.1h0M719.4 347.2h0M596.6 346.3h0M692.6 349.8h0M602.4 346.7h0M683.6 342.6h0M618.2 349.6h0M670.2 348.3h0M751.4 341.7h0M604.7 349.5h0M713.6 347.6h0M599.5 343.7h0M619.2 349.7h0M825.5 344.2h0M817.6 344.6h0M666.1 347.2h0M670.7 345.5h0M668.4 350.4h0M578.1 350.8h0M805 347.1h0M626.9 348.7h0M803.7 345.3h0M543.4 351.2h0M718.7 346.7h0M631.2 344.8h0M644.4 344.4h0M799.3 342.6h0M675.2 348.5h0M724.6 344.2h0M574.7 348.4h0M616 346.7h0M662.9 346h0M539.4 349h0M611.9 347.6h0M701.2 347.6h0M572.4 347h0M789.3 348h0M551.7 346.3h0M705 348.2h0M604.3 346.2h0M567.5 343.7h0M701.6 349.5h0M682.6 345.2h0M581.7 348.9h0M765.9 343.2h0M636.9 344.9h0M766.8 346h0M780.5 346h0M851.6 343.2h0M851.7 345.6h0M861 342.6h0M620.3 350.6h0M585.5 344.7h0M545.1 346.6h0M834.2 344.9h0M819.7 343.2h0M811 344.2h0M778.8 343.1h0M781.9 342.2h0M766.2 343h0M620.1 345.1h0M663.1 346.4h0M596.1 347h0M646.4 344.1h0M768.8 343.3h0M609.3 346.7h0M587.5 350.6h0M790.7 346.1h0M596.8 347.6h0M648.5 347.8h0M805.7 342.5h0M846.5 346.3h0M655.7 349.7h0M786.3 342.2h0M591.9 350.5h0M826 344.4h0M793.9 343.9h0M675.7 350h0M719.4 344.7h0M592.1 345.4h0M569 350.1h0M739.5 348h0M736.5 347.3h0M790.2 343.2h0M853.8 344.7h0M770.5 342.2h0M668.8 346.2h0M639.5 351.1h0M585.2 348.9h0M790.4 343.1h0M673.8 348.6h0M853.2 345.1h0M712.9 350h0M755.1 347.4h0M745.9 348.4h0M748.5 347.9h0M581.7 348.8h0M546.2 345.7h0M649.2 347.1h0M714.4 348.9h0M753.1 345.8h0M717.6 346.4h0M763.8 346.6h0M780.4 345.5h0M709.2 347.1h0M684.5 348.5h0M824.3 347.9h0M560.3 351.4h0M727.7 346.8h0M573.2 349.8h0M828.8 347.1h0M720.2 348.7h0M693.8 343h0M836.7 343.8h0M845.8 342.8h0M806.3 347.4h0M653.8 350.3h0M803.9 345.5h0M630.5 345.8h0M549.1 349.1h0M568.2 345.9h0M554.1 345h0M773.4 346h0M793.3 345.1h0"/>
<path stroke="#4a9e15" d="M739.5 283.3h0"/>
<path stroke="#2163cd" d="M236.5 83h0"/>
</g>
<g clip-path="url(#c1)" fill="none" stroke-linecap="round" stroke-width="5.6">
<path stroke="#fec90f" d="M1340.7 330.6h0M1346.9 327.8h0M1347.5 334h0M1352.6 327.8h0M1356.6 332.9h0M1360 326.1h0M1363.4 328.3h0M1361.9 317h0M1368.5 315.3h0M1370.1 318.1h0M1371.3 323.2h0M1373.5 323.2h0M1369 331.2h0M1372.4 333.4h0M1386.6 306.8h0M1385.4 314.7h0M1389.4 317h0M1385.4 318.7h0M1387.1 323.2h0M1388.8 333.4h0M1407 306.8h0M1400.7 313h0M1405.8 314.7h0M1398.5 317h0M1396.2 319.8h0M1399.6 323.2h0M1404.7 334h0M1337 327h0M1334 333h0M1330 326.5h0M1268.1 326.4h0M1231.4 330.3h0M1215.8 333.3h0M1218.3 327.1h0M1213.6 329.1h0M1224.1 328.2h0M1292.6 327h0M1286.3 327.2h0M1219.1 331.6h0M1286.9 332.4h0M1319.1 328.5h0M1321.3 329.3h0M1300.5 327.3h0M1243.9 331.7h0M1295.3 337.5h0M1299.4 329.9h0M1279.3 332.6h0M1232.1 328.4h0M1270.7 327.6h0M1241.6 326h0M1340.2 333.2h0M1304.2 330.3h0M1259.4 326.6h0M1310.7 331h0M1235.8 330.8h0M1257.1 330.3h0M1253.7 327h0M1258.5 331.1h0M1252.9 336.2h0M1219.9 330.1h0M1304.8 331.7h0M1300.3 325.9h0M1225.7 333.4h0M1271.3 332.9h0M1219 330.5h0M1281.8 335h0M1257.4 330.7h0M1283 334.1h0M1256.1 330.8h0M1295.6 326.5h0M1259.8 330.1h0M1321.7 333.8h0M1334.1 334.3h0M1286 334.4h0M1203.8 330.2h0M1294.4 337h0M1261.3 331.7h0M1262.3 336.4h0M1286.2 327.5h0M1229 333.7h0M1272 331.2h0M1285.4 329.4h0M1313.9 331.4h0M1245.6 329.2h0M1333.4 332h0M1219.2 332.3h0M1308.7 332.2h0M1327.7 331.1h0M1206.3 331.5h0M1286.4 337.9h0M1296.3 324.9h0M1263.6 333.9h0M1326.7 328.8h0M1253.4 336.2h0M1306.7 333h0M1289.1 336h0M1256.2 325h0M1246.1 332.6h0M1250.7 331.6h0M1321.4 326.3h0M1317.9 325.5h0M1244.2 329.8h0M1323.3 331.4h0M1289.1 327h0M1241.5 331.4h0M1263.6 337.6h0M1329.8 329.6h0M1216.8 335.1h0M1331.6 328.4h0M1233.1 336.8h0M1239.1 325.9h0M1257.4 324h0M1221.6 330.5h0M1322.3 335.3h0M1308.2 328.1h0M1282.6 327.3h0M1261.7 330.6h0M1237.2 334.3h0M1340.8 329.3h0M1219.5 327.7h0M1239.3 335.8h0M1306.3 327.8h0M1294 325.1h0M1227.3 332h0M1207 329.8h0M1214.6 334.7h0M1312 331h0M1271 330.2h0M1241.7 334.3h0M1221.4 332.4h0M1291 332.3h0M1281.1 324.2h0M1323.4 332.4h0M1243.4 325.5h0M1245.1 334.5h0M1329.8 330.6h0M1264.3 329.1h0M1303.7 330.3h0M1282.5 332.2h0M1297.1 336.2h0M1249.9 327.9h0M1250.7 325.1h0M1305.9 331.3h0M1241.1 332.7h0M1299.7 327.8h0M1328.3 331.2h0M1213.5 331.1h0M1222.3 335.7h0M1211.9 330h0M1317.4 335.1h0M1285.5 330.3h0M1287.9 332.3h0M1289.8 331.1h0M1301.3 336.8h0M1329.7 331.1h0M1300.1 330.6h0M1324 335.8h0M1330.3 329.4h0M1296.4 331.8h0M1293.5 335h0M1284.8 330.1h0M1311.7 330.9h0M1327.7 334.7h0M1255.8 332.6h0M1282.1 333.2h0M1311.1 330.3h0M1289.4 336.9h0M1212.4 329.4h0M1278.4 337h0M1323.4 333.5h0M1317.6 330.4h0M1301.3 336.5h0M1332.2 330.7h0M1281.8 326.2h0M1313 331h0M1312.8 334.7h0M1314.6 332.7h0M1341.2 332.1h0M1216 335.5h0M1236.4 332.8h0M1278.4 333.5h0M1274.8 333h0M1268.4 328.1h0M1284.8 330.3h0M1237.6 329.1h0M1255.4 334.5h0M1272.7 331.2h0M1288.5 335.3h0M1332.5 330.2h0M1276.4 331.8h0M1303.7 333.7h0M1295.3 336.9h0M1318.8 331.7h0M1328.9 332.4h0M1318.8 331.2h0M1317 334.4h0M1227.9 332.4h0M1225.7 331.1h0M1273 331.7h0M1290.5 327.4h0M1221.2 329.6h0M1335.6 328.6h0M1264.3 334.1h0M1266.4 336.8h0M1309.2 328.4h0M1317.9 333h0M1287.3 327h0M1297.2 333.5h0M1290.9 326.1h0M1256.9 334h0M1293.4 334.3h0M1277.5 334.3h0M1281.6 327.7h0M1259.1 325h0M1252.4 331.7h0M1321.5 325.7h0M1250.9 334.4h0M1245.8 333.7h0M1289.5 330.3h0M1300.9 332.6h0M1318.8 331.1h0M1304.9 328.6h0M1314.1 334.7h0M1271.3 336.2h0M1281.3 332.7h0M1310.8 333.8h0M1322.5 330.8h0M1262.4 335.7h0M1237.5 330.6h0M1224.6 329.9h0M1290.5 332h0M1227.2 328.9h0M1258.2 334.4h0M1288.1 335.3h0M1227.6 335.7h0M1223.7 329.9h0M1234.3 332.2h0M1237.4 333.5h0M1297.5 324.4h0M1248.2 326.2h0M1241.3 332.5h0M1298.5 333.5h0M1229.7 332.9h0M1333 332.6h0M1279.1 327h0M1232.4 325.6h0M1206.9 332.8h0M1246.5 327.6h0M1278.7 337.3h0M1312.9 327.9h0M1234.7 335h0M1247 337.2h0M1243.7 334.7h0M1243.5 334.4h0M1288.4 332.1h0M1266 330.7h0M1222.2 335.5h0M1230.7 331h0M1216.9 331.3h0M1234.4 332.4h0M1235.1 334.5h0M1231.7 336.7h0M1229.6 332.4h0M1239.5 324.8h0M1286.3 327.2h0M1339.1 331.9h0M1247.8 333.6h0M1231.2 327.3h0M1277.2 337.6h0M1280 329.9h0M1298.2 324.6h0M1226.8 329.3h0M1241.4 334.3h0M1311.6 333.2h0M1322.7 329.8h0M1246 334.7h0M1310.4 329.3h0M1246.6 333.5h0M1260.1 332.4h0M1312.9 329.2h0M1249.4 327.2h0M1244.8 332.8h0M1256.3 337.5h0M1302.4 328.6h0M1228.4 327.6h0M1328.1 330h0M1323.4 330.8h0M1308.9 331.3h0M1309.8 334.6h0M1245.6 325.7h0M1283.2 328h0M1264.8 331h0M1313.9 326.8h0M1308.8 326.9h0M1309 331h0M1290.1 336.5h0M1339.5 329.3h0M1250.9 333.7h0M1314.6 335.2h0M1337.8 331.8h0M1316.4 333.7h0M1323.5 330.5h0M1283.5 333.8h0M1288.7 327.4h0M1281.8 325.9h0M1336.8 332.2h0M1307.3 337.2h0M1300.7 330.4h0M1267.2 332.1h0M1250.3 330.8h0M1329.7 333h0M1284.8 327.3h0M1289.4 332.6h0M1273 334.7h0M1207.3 329.1h0M1276.3 336.3h0M1228.6 327.9h0M1269.4 329.7h0M1336.5 329.5h0M1326.9 334.5h0M1251.9 336.4h0M1214 330.1h0M1222.2 333.4h0M1312.3 336.8h0M1323.3 333.3h0M1290.6 330.8h0M1219.8 328.5h0M1302.2 334.7h0M1333.6 331.5h0M1288.8 335.9h0M1310.7 330.8h0M1288.4 327.5h0M1268.6 327.5h0M1304.6 326.2h0M1262.9 336.6h0M1326.2 336.3h0M1307.7 332.9h0M1257.8 330.9h0M1284.8 326.3h0M1249.3 327.1h0M1324.1 327.8h0M1278.6 327.7h0M1232.3 332.8h0M1292.6 335.8h0M1220.8 333.9h0M1258 330.4h0M1320.1 335.1h0M1284.7 334h0M1282.2 325.7h0M1226 335.5h0M1258.3 329.7h0M1251.2 328.9h0M1290.6 335.4h0M1287.5 327.8h0M1272 327.7h0M1303.9 333h0M1325 334.4h0M1235 330.4h0M1292.3 333.9h0M1259.8 330.3h0M1294.5 328.1h0M1286.4 317.5h0M1240.1 330.6h0M1275.9 330.8h0M1312.9 328.2h0M1314.2 332.2h0M1327.3 327.4h0M1237.1 329.7h0M1340 333h0M1312.9 328.4h0M1285 330.3h0M1247 332.1h0M1319.5 334.2h0M1274 324.5h0M1331.4 329.9h0M1319 333h0M1210.5 333.5h0M1227.2 330.4h0M1329.9 329.3h0M1294.3 336h0M1238.4 326.9h0M1255 329.5h0M1257 336.5h0M1233.5 327.7h0M1234.1 328.1h0M1275.1 333.9h0M1265.5 327.5h0M1271 324.3h0M1311.6 328.3h0M1335.5 333.2h0M1280.2 337.8h0M1339.6 331.1h0M1240.2 333.3h0M1271.6 324.6h0M1336.2 329h0M1245.5 332.2h0M1319.9 329.9h0M1306.5 329.6h0M1294.7 326.6h0M1246 332.5h0M1293.7 330.5h0M1299.3 336.5h0M1303.8 335h0M1290.1 324.8h0M1312.8 335.2h0M1316.6 334.5h0M1229.3 334.2h0M1269.1 326.2h0M1250.1 327.3h0M1230.5 336.4h0M1275.6 328.2h0M1310.6 331.6h0M1294.1 330.3h0M1267.9 327.9h0M1254.8 327.2h0M1285.9 334.6h0M1276.2 329.7h0M1243.7 328.3h0M1233.8 330.8h0M1209.7 333.6h0M1298.2 324.9h0M1310.8 333.1h0M1333.6 332.2h0M1294 332.7h0M1294.3 327.8h0M1237 334.5h0M1304.9 331.8h0M1259.3 331.9h0M1274.3 336h0M1223 333.5h0M1204.3 330.9h0M1319.9 334h0M1287.9 326.6h0M1256.9 330.1h0M1307.7 336h0M1269.5 335.2h0M1279.8 336h0M1340.5 332.6h0M1335.6 332.6h0M1295.4 324.9h0M1323 328.5h0M1288.7 332.6h0M1240.1 333h0M1231.1 332.3h0M1261.2 336.5h0M1258.6 336.1h0M1286 326.1h0M1307.4 326.8h0M1236.7 327.2h0M1242.2 331.7h0M1305 331.4h0M1309.4 336.2h0M1275.3 326.8h0M1208 333h0M1236.6 331.3h0M1274.7 330.1h0M1319 336.8h0M1222.9 326.5h0M1250.4 331.2h0M1314.3 330.9h0M1341.4 331.7h0M1284.5 321.7h0M1232.7 329.4h0M1263.6 326.9h0M1341.9 331.3h0M1287.5 329.6h0M1207.9 329.7h0M1286.6 325.1h0M1264.3 333.9h0M1338.2 331.4h0M1244.2 334.2h0M1275.1 327.4h0M1282.8 335.8h0M1284.5 336.8h0M1318.4 329.3h0M1248.8 333.9h0M1261.1 336.2h0M1292 338.9h0M1336 334.6h0M1322.3 331.6h0M1338.6 330.8h0M1326 330.2h0M1216 335.2h0M1224.3 330.3h0M1280.1 326h0M1310.4 332.4h0M1296.3 327.1h0M1330.5 329h0M1339.3 330.6h0M1266.1 325.7h0M1338.9 331.7h0M1322.8 336.2h0M1285.2 335.8h0M1241.2 333.8h0M1228.4 329.8h0M1280.8 325.7h0M1287.5 325.2h0M1313.4 334.7h0M1322.7 329.7h0M1275.5 329.8h0M1295.4 329.1h0M1248.1 338h0M1297.9 321h0M1308.3 327.6h0M1274.5 332.5h0M1228.5 332.4h0M1257 325.5h0M1291.3 337.9h0M1241.8 331.5h0M1235.1 329.6h0M1214.4 332.3h0M1256.9 332.7h0M1252.5 328.4h0M1228.9 333h0M1305.3 336.5h0M1230.8 331.8h0M1248.6 326.2h0M1246.9 329.8h0M1231.9 325.5h0M1299.6 334.1h0M1254.3 330.5h0M1308.7 335.7h0M1291.4 327.2h0M1329.9 329.6h0M1273.1 333.6h0M1241.6 333.2h0M1295.9 333.8h0M1241.8 336.8h0M1245.9 327.9h0M1304.6 335.1h0M1251 336h0M1293.8 329.6h0M1321.2 330.8h0M1214.5 327h0M1297.4 326.5h0M1308.4 335.8h0M1223.4 332.3h0M1224.8 336.5h0M1228.3 332.6h0M1300.2 330.9h0M1226.7 327.7h0M1331.5 330.7h0M1337.6 330.4h0M1268.6 325.4h0M1293 335h0M1278.9 332h0M1220.9 333.6h0M1245.5 331.3h0M1213.2 330.4h0M1325 333.6h0M1315.5 331.3h0M1218.4 327.1h0M1254.3 326.7h0M1294.3 333.6h0M1258.7 330.5h0M1264.8 335.9h0M1332.8 331.7h0M1256 334.4h0M1267 328.9h0M1321.7 334.5h0M1210.2 329.9h0M1319.9 332.9h0M1228.8 334.1h0M1264.2 333.1h0M1325.7 326.3h0M1316.2 326.5h0M1257.5 335.5h0M1239.2 329.5h0M1337 331h0M1211.4 334h0M1333.5 335.5h0M1275.1 330.8h0M1331.4 330.4h0M1216.2 330.7h0M1307.8 329.4h0M1313.3 334.3h0M1236.8 330.4h0M1247.5 331.7h0M1278.6 330.4h0M1248.7 333.9h0M1224.2 330.2h0M1287.3 325.1h0M1226.6 328.7h0M1275.8 335.9h0M1264.8 328.8h0M1320.6 335.1h0M1325.1 328.3h0M1273.7 336.2h0M1240 332.5h0M1210.2 330.4h0M1322.8 333.2h0M1303.7 329.4h0M1239.9 326.8h0M1234.8 333.5h0M1271.6 337.4h0M1244.2 334.4h0M1215.8 329.8h0M1217.8 334.8h0M1242.1 329h0M1228.2 332.8h0M1256.5 335.5h0M1265.5 333.5h0M1284.6 335.9h0M1318 329.3h0M1205.7 329.9h0M1247.7 325.4h0M1233.2 328.2h0M1302.6 337.7h0M1240.1 330.9h0M1296.6 329.4h0M1243.2 329.1h0M1229.3 334.3h0M1239.9 332.5h0M1235.6 328.2h0M1299.2 328.5h0M1296 328.2h0M1265.1 334.5h0M1222.6 330.3h0M1281.8 333.6h0M1264.3 332.8h0M1299.6 334.7h0M1261 328.5h0M1282 328.6h0M1231.2 336h0M1293.5 331.1h0M1215.3 332.8h0M1268.3 326.7h0M1254.3 331.8h0M1288.1 336.4h0M1279.7 337.2h0M1273 332.7h0M1276.5 332.7h0M1300.6 330h0M1322.5 330.8h0M1303.2 326.8h0M1300.1 328.3h0M1310 335.6h0M1294 329h0M1296.8 337.5h0M1255.8 334.4h0M1273.2 329.6h0M1241.2 333h0M1294.8 333.8h0M1235.4 327.3h0M1222.3 332.3h0M1311.9 329.6h0M1269.9 320.8h0M1326.9 333.9h0M1247.9 334h0M1261.3 327.5h0M1260.7 342.3h0M1225.6 334.7h0M1295 331.3h0M1264.7 334h0M1305.7 335.6h0M1209.2 333.7h0M1300.5 325.6h0M1331 332.5h0M1305 327.9h0M1298.7 331.8h0M1261.9 331.9h0M1266.3 328.8h0M1294.9 332.1h0M1321.6 330.3h0M1288.1 327.9h0M1312.8 329.2h0M1341.6 332.6h0M1295.5 328.4h0M1277.5 327.8h0M1311.6 326h0M1215.5 333h0M1314.8 335.7h0M1269.4 333.3h0M1216.2 334.8h0M1295.1 331.8h0M1272.2 329.4h0M1232.6 332h0M1277.5 331.9h0M1280 334.4h0M1312.5 330.5h0M1241 327h0M1249.6 331.4h0M1315.1 334.3h0M1316.8 331.9h0M1267.6 324.7h0M1330.3 330.8h0M1264.2 327h0M1270 333.5h0M1289.3 336.5h0M1224.1 327.1h0M1263.9 335.3h0M1215.2 328.1h0M1231.6 329h0M1302.6 336.5h0M1232.8 329.6h0M1242 328.8h0M1274.1 337.2h0M1249 335.4h0M1326 330.2h0M1282.7 329.6h0M1230.7 328h0M1229.8 331.2h0M1251.9 328.2h0M1241.6 332.8h0M1308.9 329.4h0M1276.2 333.9h0M1287.1 327.7h0M1235 333.5h0M1341.7 333.4h0M1256.8 336.8h0M1301.7 333h0M1315.4 332.3h0M1250.8 332.5h0M1259.9 327.3h0M1245.2 330.5h0M1315.9 334.4h0M1266.3 334.5h0M1250.1 333.9h0M1270.2 331.7h0M1285.9 336h0M1306.6 337.3h0M1296.9 326.9h0M1218.7 332.3h0M1257 330.5h0M1291.9 336.4h0M1324.1 327.7h0M1326.2 334.3h0M1310.4 334.9h0M1300.3 334.1h0M1306.9 333.5h0M1289.6 331.6h0M1269.9 331h0M1220.6 330.8h0M1339.4 329.9h0M1289.8 327.5h0M1225.4 334.3h0M1274 337.8h0M1275.1 327.8h0M1277 328.7h0M1259.9 332.7h0M1243.4 333.6h0M1329.6 333.7h0M1256.8 334.8h0M1306.2 331.9h0M1224.7 326.7h0M1312.6 336.9h0M1269.4 327.9h0M1268.9 336.5h0M1243.4 337h0M1293.5 327.5h0M1308.2 332.3h0M1224.1 328.7h0M1220.9 333.7h0M1292.7 335.4h0M1229.1 331.9h0M1276.1 328.7h0M1284.6 327.4h0M1217.1 329.4h0M1318.1 333.5h0M1332.8 330.9h0M1231.2 326.3h0M1314.3 335.6h0M1254.9 334.9h0M1284.5 329.4h0M1311.9 333.3h0M1306 333.2h0M1288.5 332.3h0M1296 337.1h0M1287.5 326.4h0M1292.5 329.9h0M1259.1 337.4h0M1318 334.3h0M1244.4 333.1h0M1235.9 332.1h0M1225.9 330.9h0M1303.5 335.2h0M1242.7 333.6h0M1331.2 330.9h0M1304.1 334.3h0M1316.7 337.4h0M1296.5 327.3h0M1255.7 334.2h0M1324.3 334.4h0M1299.2 337.1h0M1300.9 327.4h0M1217.9 331.5h0M1268.5 329.3h0M1278 329.2h0M1233.4 330.5h0M1257.8 337.4h0M1247.9 332h0M1289.1 331.8h0M1277.7 336.7h0M1325.8 334.6h0M1305.1 325.8h0M1218.7 334.6h0M1324.8 331.5h0M1251.9 332.1h0M1326 329.5h0M1210.1 332.9h0M1281.7 327.7h0M1302.9 329.1h0M1245.1 328.4h0M1210.5 328.6h0M1285.2 330.9h0M1315.4 333.8h0M1229.3 328.3h0M1232.4 331.4h0M1265 337.4h0M1243.8 334.3h0M1332.2 327.9h0M1261.3 330.4h0M1336.4 332.2h0M1240.6 335.4h0M1252.9 326.7h0M1331 331h0M1224.2 332.3h0M1317.1 333.4h0M1259.2 329.6h0M1340.4 331.8h0M1291.5 332.6h0M1318.5 331.8h0M1234.6 331.9h0M1250.5 327.9h0M1214.3 332.1h0M1304.7 326h0M1329.8 329.5h0M1217.1 328.1h0M1219.2 333.6h0M1315.7 329.7h0M1276.6 328.7h0M1240.2 324.8h0M1253.9 327.4h0M1302.5 331.7h0M1299.8 332.8h0M1219.9 327.6h0M1238.5 333.7h0M1322.1 327h0M1247.5 328.8h0M1298 334.1h0M1289.9 334.8h0M1301.3 327.5h0M1260.1 328.7h0M1274.2 324.8h0M1329.2 334.9h0M1293.8 330.1h0M1224.7 334.3h0M1213.3 331.8h0M1336.5 332.5h0M1325.7 328h0M1300.5 332.2h0M1255.1 326.4h0M1261.1 327.7h0M1251.9 337.1h0M1329.9 327.9h0M1331 333.7h0M1295 328.2h0M1237.9 333.3h0M1286.4 328.6h0M1312.1 329.2h0M1317.9 332.1h0M1255.6 328.6h0M1253.3 326.6h0M1232.1 328.3h0M1280.1 333.2h0M1234.1 332.8h0M1304.2 330h0M1302.4 336.2h0M1283.4 327.9h0M1319.8 327.5h0M1250.9 324.7h0M1302.5 332.1h0M1287.9 334.3h0M1298.5 334.1h0M1233.7 334.5h0M1271.7 334.2h0M1331.1 336.7h0M1268.1 328.9h0M1218.6 334.3h0M1302.5 332.4h0M1268.8 333.8h0M1258.3 331.2h0M1273.9 327.2h0M1215.6 330.5h0M1331 328.4h0M1256.9 334.7h0M1229.2 329.1h0M1280.1 328.3h0M1300.7 332.6h0M1264.8 333.1h0M1267.9 327.6h0M1252.4 328.7h0M1288.1 328.2h0M1336.4 332.3h0M1221.1 326.8h0M1235.4 335.5h0M1291.5 336.7h0M1277.4 334.3h0M1223.6 328.4h0M1292.2 334.2h0M1226.6 336.2h0M1250.7 331.7h0M1334.4 329.8h0M1334 329.2h0M1300 333.9h0M1305.9 329.7h0M1301 332h0M1226 330h0M1268.9 335.1h0M1286.3 325.4h0M1232.6 335h0M1234.2 328.2h0M1300.3 328.4h0M1249.7 328.7h0M1340.6 329.2h0M1291.9 334.7h0M1311.7 327h0M1320.8 336.5h0M1280.7 328.7h0M1255.9 328.1h0M1330 328.7h0M1298.1 331.8h0M1305.8 328.4h0M1251.2 324.8h0M1259.3 324.8h0M1274.1 331.6h0M1239.8 328.6h0M1225.3 334.8h0M1294.4 328h0M1279 330.1h0M1311.5 336.1h0M1262.1 330.6h0M1266.6 326.9h0M1285 326.1h0M1240.7 333h0M1229 332.8h0M1300.1 329.7h0M1293.1 335h0M1286.2 325.7h0M1249.5 337h0M1255.4 331.4h0M1282.3 337.5h0M1280.8 336.4h0M1300.9 328h0M1223.8 331.6h0M1283.6 331.4h0M1327.3 328.8h0M1325.4 334.4h0M1216.4 328.4h0M1308 333.7h0M1236.4 330.1h0M1323.8 326.7h0M1329.8 328.6h0M1278.1 329h0M1207.7 329.7h0M1289.3 333.3h0M1329.3 333.1h0M1216.9 332.5h0M1310.5 332.4h0M1295 323.9h0M1342.6 330.5h0M1210.8 332.2h0M1291.7 336.6h0M1291.3 336.9h0M1245.6 334h0M1233.7 335.3h0M1241 336.7h0M1254 328.3h0M1245.5 329.7h0M1260.9 337.1h0M1296.8 331.7h0M1239 332.9h0M1224.4 329.6h0M1238 337.7h0M1269 335.7h0M1293.9 332.5h0M1295.7 336.4h0M1322.8 330.9h0M1283 332.2h0M1320.4 328.3h0M1220.2 330.8h0M1273.2 328.3h0M1304 337.1h0M1217.9 335.3h0M1246.2 328.5h0M1221.3 327.1h0M1319.4 331h0M1310.1 334.6h0M1271.5 334.5h0M1253.8 332h0M1265.4 333.2h0M1295.8 335.5h0M1333.6 330.5h0M1279.3 337.7h0M1283.8 331.9h0M1301.4 336.8h0M1258 329.6h0M1251.1 328.5h0M1319.8 328.6h0M1213.5 329.2h0M1250.6 329.2h0M1286.2 334.7h0M1308.4 332.3h0M1315.4 330.9h0M1258.6 333.9h0M1249.1 328.4h0M1211.4 329h0M1284.6 337.2h0M1259.6 336h0M1261.8 331.3h0M1244.5 332.1h0M1312.1 325.8h0M1257.9 331.6h0M1251.5 331.9h0M1233.8 327.3h0M1334.6 332h0M1333.1 332.4h0M1221.4 329.7h0M1295.6 335h0M1296.1 336.5h0M1279.9 330.7h0M1229.9 335.9h0M1313.9 331.1h0M1318.2 330.9h0M1273.5 333.4h0M1243 337.9h0M1258.7 336h0M1282.3 333.4h0M1291.9 331.8h0M1281.4 328.5h0"/>
<path stroke="#e4474b" d="M1417.7 311.3h0M1410.9 319.3h0M1408.1 332.3h0M1453.8 335h0M1460 335h0M1482 334.7h0M1483 333h0M1556.3 313.6h0M1604.6 320h0M1614 312.7h0M1628.2 313.7h0M1633 321.2h0M1639.4 324.5h0M1660.9 319.2h0M1691.2 306h0M1688.5 312.7h0M1690.6 319.4h0M1729 301.2h0M1730 314.5h0M1576.4 324h0M1580.4 326h0M1795 334h0M1797 332.5h0M1800 334.5h0M1808.3 331h0M1815 331h0M1826.5 334.5h0M1845.8 333h0M1848.5 334.5h0M1863.3 332.5h0M1504 335.5h0M1508 333h0M1512 334h0M1517 336h0M1521 334.5h0M1526 335h0M1531 336h0M1536 335h0M1540 335.5h0M1545 334h0M1596 329h0M1620 328.5h0M1670 327.5h0M1703 328h0M1743 329h0M1781.3 336.3h0M1779.7 333.5h0M1651.1 335.7h0M1666.5 332.6h0M1607.5 334.7h0M1593 334.3h0M1636.7 333h0M1753.4 334.8h0M1564.4 337.4h0M1683.8 335.9h0M1655.5 332.6h0M1626.9 334.2h0M1576.9 334.9h0M1719 337.2h0M1598.3 333.3h0M1653.6 335.9h0M1614 335.3h0M1740.3 338.2h0M1624.5 335.8h0M1610.2 336.3h0M1623.7 337.9h0M1684.8 334h0M1560.4 337.8h0M1545.1 335.4h0M1697.2 333.3h0M1629.1 333.7h0M1649.1 333.2h0M1623.6 336h0M1656.5 334.5h0M1671.3 334.6h0M1628.7 332.8h0M1669.1 333.1h0M1589.3 337h0M1676 334.5h0M1700.3 330.5h0M1583.9 333.4h0M1610 333.5h0M1640.8 332.3h0M1728.6 335.6h0M1634.8 333.4h0M1667.3 335.7h0M1720.8 336.5h0M1722.8 334.9h0M1646.7 338.7h0M1585.8 337.2h0M1561.1 336.5h0M1676.6 332.8h0M1697.1 337h0M1549.6 333.6h0M1653.8 337.8h0M1686.1 333.6h0M1726.8 335.7h0M1760.9 335h0M1586.8 337.1h0M1564.9 334.8h0M1603.8 335h0M1676.8 334.1h0M1603.9 333.6h0M1698.5 339.6h0M1615.2 336.2h0M1733.1 337.2h0M1658.1 338.4h0M1554.7 334.4h0M1670.7 332.2h0M1678.7 335h0M1609.7 337.9h0M1720.6 331.9h0M1645.1 337.8h0M1731.3 337.2h0M1619.6 332.5h0M1631.2 338h0M1625.2 332.4h0M1567.7 334.8h0M1650.2 337.9h0M1669.1 335.7h0M1709.7 334.1h0M1708.9 334.1h0M1618.7 336h0M1670 335.4h0M1625 337.8h0M1633.7 334.2h0M1675.2 331.5h0M1555.5 335.5h0M1720.9 338.2h0M1657.1 335.2h0M1611.9 338.2h0M1662.6 337.8h0M1683.7 334.7h0M1748 336.3h0M1607.7 336.1h0M1670.8 335h0M1646 336.5h0M1629.9 332.3h0M1561 334h0M1601.7 333.6h0M1663.4 334.3h0M1612.5 331.1h0M1597.9 334.7h0M1716.4 332.4h0M1697.3 333.5h0M1669.4 333.8h0M1632.9 339.1h0M1607.3 336.6h0M1678.2 334h0M1748.3 334.3h0M1635.8 332.1h0M1621.2 337.3h0M1681 333h0M1624.1 337.3h0M1643.6 334.6h0M1635.2 331.7h0M1726.1 334.2h0M1579.3 332.8h0M1604.3 332.3h0M1605.9 335.3h0M1565.3 333.5h0M1583.4 338.4h0M1652.5 339.4h0M1649.8 333.3h0M1710.9 336.7h0M1575.6 337.5h0M1653.6 332.7h0M1644.6 338.3h0M1575.9 335.3h0M1787.1 337.9h0M1753 335.1h0M1782.7 334.2h0M1598.4 335.4h0M1580.1 337.3h0M1603.9 338h0M1711.8 336.9h0M1766.1 334.1h0M1757 333.4h0M1672.8 331.9h0M1668.6 335.5h0M1566.5 334.5h0M1664.7 332.2h0M1708.2 334.6h0M1685.9 333.1h0M1679.2 335.1h0M1766.8 332.4h0M1675.2 332.3h0M1630.2 332.5h0M1769.6 335.1h0M1661.9 331.9h0M1669.4 333.6h0M1757.5 336h0M1710.8 334.3h0M1768.7 334.2h0M1577.8 333.9h0M1629 335.5h0M1653.2 333.8h0M1751.4 335.9h0M1590.3 336.8h0M1567.3 334.2h0M1642.6 331.7h0M1657.8 337.8h0M1755 334.2h0M1697.1 335.4h0M1657.8 334.5h0M1750.5 335.3h0M1692.6 338.7h0M1623.4 337.6h0M1563.9 336.7h0M1720.5 331.9h0M1677 331.8h0M1591.3 333.2h0M1741.5 334.8h0M1777.6 337.3h0M1571.5 335.1h0M1769.6 335.1h0M1610.2 333.7h0M1550.3 334.4h0M1577.9 335.5h0M1689.6 331.8h0M1709.9 333h0M1578.8 336.5h0M1748.1 335.5h0M1631.6 331.9h0M1588.9 335.8h0M1769.5 335.9h0M1643.9 333.5h0M1562.4 335.5h0M1552 333.9h0M1596.2 336.8h0M1720.2 336h0M1695.2 335.2h0M1575.6 334h0M1610.1 334.4h0M1630.4 334h0M1713.9 333.6h0M1758.9 336.8h0M1596.9 338.3h0M1712 333.6h0M1628.9 334.7h0M1714.6 335.6h0M1712.1 334.9h0M1674.9 332.3h0M1543.3 339.3h0M1565.5 336.5h0M1547.6 335.6h0M1665.3 334.9h0M1717.1 331.9h0M1734.5 333.9h0M1666.8 334.7h0M1636.3 334.3h0M1732.4 336.1h0M1680 333.7h0M1642.8 336.5h0M1689.5 338.2h0M1630.8 336.5h0M1612.1 333.7h0M1677 334.4h0M1627.1 336.2h0M1700.5 333.6h0M1657 334.7h0M1561.1 332.3h0M1746.5 336.2h0M1584.6 331.2h0M1634.1 334.5h0M1709.1 333.8h0M1721 333.5h0M1672.1 333.7h0M1653.8 334.2h0M1557.6 337.5h0M1652.6 338.1h0M1759.5 338.2h0M1630.6 335.7h0M1662.9 332.5h0M1695.9 339.5h0M1675.4 333.7h0M1638 336.9h0M1703.9 332.7h0M1716.4 333h0M1632.1 332.7h0M1642.7 332.5h0M1695.6 331.7h0M1756 336.2h0M1736.4 332h0M1650.7 338.1h0M1741.6 334.1h0M1702.4 332.2h0M1687.5 334h0M1725.8 333.3h0M1721.7 331.8h0M1695.7 337.1h0M1720.1 332.3h0M1764 334.4h0M1675.4 338.8h0M1768.4 335.7h0M1641.4 336.9h0M1603 335.6h0M1611.5 337.4h0M1587 334h0M1667.2 335.7h0M1584.2 333.1h0M1715.2 332h0M1711.3 331.9h0M1544.2 333.1h0M1564.8 336.3h0M1636.3 334.5h0M1719.5 336h0M1750.4 337.7h0M1770.3 333.7h0M1723.3 335h0M1739 333.4h0M1555.6 334.4h0M1641.6 337.7h0M1742.4 332.6h0M1574.9 334.4h0M1618.4 336.2h0M1751.7 334.6h0M1647.8 332.2h0M1697.1 336.7h0M1625.8 333.1h0M1729 337.4h0M1787.8 333.3h0M1652.2 337.6h0M1715.9 334.4h0M1633.1 335h0M1632.7 336.6h0M1683.6 334.2h0M1704.1 337.8h0M1662.3 334.7h0M1705.1 336.4h0M1666 338.4h0M1595.8 335.6h0M1612.3 339.1h0M1692.2 336.5h0M1752.8 337h0M1646.7 333.5h0M1601.3 331.6h0M1778.6 335.1h0M1701.4 335.7h0M1725.5 332.9h0M1743.6 337.5h0M1582 337.8h0M1620.6 336.6h0M1687.3 338.6h0M1709.4 332.5h0M1709 333.4h0M1588.6 334.9h0M1557.1 332.6h0M1660.3 333.4h0M1600.4 338.4h0M1697.7 338.6h0M1739.3 338.4h0M1627.1 338.3h0M1583.5 333.6h0M1727.8 334.1h0M1711.8 337.9h0M1635 339.6h0M1748.9 333.5h0M1597 332.1h0M1763.6 337.8h0M1640.1 336.1h0M1562.9 335.6h0M1541.7 336.8h0M1750.9 334.7h0M1554.2 337.7h0M1569.3 334.7h0M1690.4 337.5h0M1674 339.2h0M1601.3 334.7h0M1564.3 332.4h0M1696.2 332.5h0M1548.3 334h0M1616.9 337.2h0M1639.7 334.9h0M1666.8 338.3h0M1709.4 335.6h0M1628.8 335h0M1729.9 333.4h0M1593.3 334.7h0M1586.4 338.5h0M1566.9 334.1h0M1650.7 338.2h0M1623.6 338.3h0M1656.8 335.5h0M1633.1 330.9h0M1714.6 336h0M1680.1 334h0M1654.3 335.8h0M1708 339.4h0M1720.4 334.8h0M1589.6 337.3h0M1688.6 330.8h0M1654 337.4h0M1641.2 336.8h0M1605.5 337.4h0M1702.6 337.8h0M1578.1 332.6h0M1599.6 332.1h0M1564.4 332.3h0M1600.4 334.9h0M1778.5 332.6h0M1692 333.6h0M1589.8 333h0M1646.4 331.5h0M1544.8 331.3h0M1589.3 333.3h0M1665.6 337.5h0M1668.5 333.8h0M1663.8 338.1h0M1739.5 335.5h0M1625.8 334.6h0M1614 336.7h0M1621.5 336.8h0M1601.2 331.6h0M1614.6 334.9h0M1737.9 333.1h0M1588.7 338.6h0M1638.3 334.4h0M1548.2 338h0M1572 332.2h0M1704 339.6h0M1674.8 336.4h0M1675.1 338.2h0M1710.6 334h0M1694.7 332.5h0M1610.3 333.3h0M1750.7 333.4h0M1683.3 332.5h0M1588.4 331.9h0M1664.4 331.8h0M1610.4 332.5h0M1675.9 335.6h0M1554.2 334h0M1706.6 333.8h0M1655.9 331.2h0M1608.5 331.9h0M1703.9 335.3h0M1711.5 338.2h0M1542.1 332.5h0M1754.9 337.5h0M1674.9 338.7h0M1617.9 338.4h0M1628.2 335h0M1712.7 335.6h0M1668 334.2h0M1665.9 338h0M1604 339h0M1694.5 335.2h0M1597.4 331.7h0M1721.7 332.6h0M1543.5 336.3h0M1690 336.3h0M1567.2 332.1h0M1592.9 335.3h0M1702 335.3h0M1583.6 333.2h0M1723 332.5h0M1768.3 336.9h0M1616.1 335.5h0M1710.3 333.8h0M1595.3 332.9h0M1704.5 336h0M1660.4 331.4h0M1617.2 337.5h0M1758.3 334.8h0M1629.9 336.1h0M1724.5 333h0M1605.9 336.5h0M1649 335.8h0M1724.7 333.9h0M1595 336.1h0M1749.2 332.9h0M1716.7 336.4h0M1549.1 335.5h0M1588.4 337.6h0M1615.5 335.3h0M1630.4 333.9h0M1597.9 333.2h0M1663.6 337.2h0M1540.8 334.9h0M1674.1 334.2h0M1757.7 334.3h0M1563.4 336h0M1654.4 331.7h0M1588.4 337.5h0M1602.8 337.7h0M1595.2 337.8h0M1762 337.2h0M1708.4 335.7h0M1657 336.5h0M1755.9 333h0M1767.4 336.9h0M1760.7 334.5h0M1578.9 335.5h0M1607.2 336.1h0M1692.8 334h0M1708.4 332.4h0M1690 333.7h0M1576.2 333h0M1585.8 334.6h0M1628.6 338.9h0M1556.2 333.6h0M1691.8 338.2h0M1659.4 332.9h0M1760 335.2h0M1556.9 337.9h0M1704.9 337.2h0M1635.7 334.1h0M1556.6 335.6h0M1565 336.9h0M1670.4 332.9h0M1611.3 335.5h0M1733.9 333.4h0M1740.3 337h0M1731.4 338.5h0M1566.6 336.4h0M1647.7 336.3h0M1573.9 332.2h0M1714.5 334.2h0M1676.6 334.2h0M1543 333.6h0M1587.3 331.9h0M1653.2 331.8h0M1629.5 333.4h0M1622.3 337.1h0M1746.5 338.6h0M1767.6 333.5h0M1691.8 333.2h0M1578.8 336.2h0M1694.5 337.2h0M1652.1 336.3h0M1694.8 334.4h0M1727.2 335.1h0M1637.5 336.5h0M1726.8 335.1h0M1680.5 334.1h0M1693.5 334.7h0M1723.8 333.6h0M1580.6 335.7h0M1760.5 332.4h0M1627.1 337.8h0M1728.1 337.4h0M1620.5 337.3h0M1633.8 332h0M1761.7 338.5h0M1715 331.6h0M1731.2 338h0M1687.5 334.3h0M1589.8 337.4h0M1711.4 337.8h0M1607.5 337.8h0M1668 333.2h0M1618.3 331.7h0M1729.3 332.4h0M1780.4 332.6h0M1645.4 331.8h0M1706.9 335.6h0M1561.6 332.3h0M1685.5 334.8h0M1629.9 331.7h0M1584.3 333.9h0M1629.9 334.2h0M1689.7 333.5h0M1549.2 332.4h0M1657.6 336.2h0M1742.3 334.6h0M1721.2 334.2h0M1633.9 337.6h0M1612.1 336.4h0M1612 338.2h0M1732 334.7h0M1636.9 339.1h0M1602.9 337.8h0M1704 333.9h0M1743.1 333.6h0M1670.6 336h0M1614.9 335.2h0M1619.5 335.8h0M1723.2 332.1h0M1761.6 333.7h0M1614.8 337.9h0M1594.6 336.1h0M1679.5 336.7h0M1553.5 333.2h0M1647 337.8h0M1633.1 334.7h0M1721.8 332.6h0M1703 332.2h0M1669 337.1h0M1585.8 336.6h0M1656.2 332.6h0M1665.7 331.4h0M1550.9 333.3h0M1570.4 334.8h0M1683.6 331.7h0M1635.8 334.5h0M1570.3 336.1h0M1553.1 335.1h0M1643.5 339.6h0M1672.5 334.2h0M1701.8 339h0M1686.1 338h0M1634.4 337.9h0M1748.3 334.1h0M1730.1 332.1h0M1662 335.6h0M1679 335.2h0M1625.3 336.4h0M1689 335.4h0M1651.4 332.4h0M1645.8 335.3h0M1650.7 336.7h0M1729 335.3h0M1650.2 332h0M1584.2 335.9h0M1592.6 332.2h0M1698.2 339h0M1597.2 337.9h0M1594.5 337.9h0M1549.8 331.8h0M1549.7 337.2h0M1651.1 337.9h0M1695.8 331.1h0M1635.6 337.2h0M1665.1 331.3h0M1598.1 337.8h0M1568.6 338h0M1730.5 331.8h0M1709.9 333.8h0M1702.6 332h0M1572.7 332.6h0M1735.9 337.8h0M1702.5 339h0M1703 335.9h0M1776.1 337.7h0M1603.1 333.2h0M1736.6 335h0M1705.3 332.4h0M1573.6 335.6h0M1568.3 338.1h0M1732.4 333.5h0M1616.1 338.7h0M1663.1 335.6h0M1779.3 333.8h0M1619.7 336.3h0M1600.9 335.1h0M1639.9 332.4h0M1684.1 334.9h0M1543.8 334.4h0M1702.1 332.3h0M1695.7 336.8h0M1697.9 336.9h0M1626.4 338h0M1688.7 337.2h0M1572.7 337.4h0M1781.6 334.7h0M1717.9 339.4h0M1752.4 332.7h0M1720.4 332.6h0M1630 334.7h0M1603.2 333.6h0M1615.3 331.8h0M1620.9 333.3h0M1554.6 334.4h0M1692.7 338.1h0M1691.5 332.2h0M1637.6 336.3h0M1559.1 332.9h0M1634.2 335.4h0M1556.8 336.5h0M1719.7 335.5h0M1718.5 335.6h0M1672.6 331.7h0M1705.9 339.1h0M1707.1 332.4h0M1661.1 334.2h0M1579.4 336.2h0M1565 336.5h0M1588 337.7h0M1676.1 332.7h0M1671 336.1h0M1734 335.4h0M1751.2 334h0M1683.1 335.9h0M1677 335.8h0M1600.4 336.3h0M1682.9 331.3h0M1607.2 339.2h0M1602.8 336.3h0M1749.9 333.3h0M1638.3 334.9h0M1585.7 333.4h0M1598.2 336.7h0M1564.6 334.8h0M1626.1 335h0M1688.5 338.3h0M1664.4 337.9h0M1598.6 339.2h0M1770.5 335.5h0M1595.8 334.9h0M1700.9 336.4h0M1716.6 336.7h0M1673 336.5h0M1741.8 333h0M1589.5 331.8h0M1685 334.5h0M1716.8 338.4h0M1572.8 332.4h0M1662.6 337.4h0M1757.8 334.1h0M1614.7 331.8h0M1638.5 331.6h0M1565.5 337h0M1706.5 332.7h0M1749.6 334.9h0M1691.5 337.9h0M1728.8 338.2h0M1604.9 335.1h0M1635.3 335.6h0M1707.2 337.4h0M1766.3 334.6h0M1659.2 338.5h0M1615.8 337.3h0M1648.6 335.1h0M1603.4 333.5h0M1571.7 333.3h0M1571.7 335.6h0M1602 333.3h0M1779.3 333.9h0M1701.1 336.3h0M1640.5 335.8h0M1701.3 334.8h0M1637.3 336.3h0M1582.5 333.7h0M1582.4 338.5h0M1568.9 334.7h0M1679.6 335h0M1728.9 336.2h0M1691.9 337.1h0M1667.9 332.4h0M1681.6 336.4h0M1547.5 335h0M1556.9 333.4h0M1742.8 337h0M1576.3 333.8h0M1635.7 335.7h0M1718.4 337.9h0M1652.6 337h0M1672.5 337.1h0M1629.4 339h0M1595.6 336.8h0M1781.4 336.8h0M1565.9 336.4h0M1543.1 333.9h0M1668.9 333.7h0M1629.5 333.7h0M1700.9 338.9h0M1606.6 333.9h0M1663.3 334.3h0M1630.5 337h0M1695.9 334.2h0M1678.3 338.4h0M1588.8 334.4h0M1610.5 335.1h0M1739.1 334.9h0M1744.3 337h0M1568.1 332.6h0M1632.7 338.2h0M1586.1 337.4h0M1552.3 336.4h0M1589.6 333.9h0M1780.2 334.6h0M1757.4 334.7h0M1758.2 333.5h0M1700.4 336.8h0M1611.3 333.5h0M1724.6 333h0M1762 334.4h0M1661.1 335.9h0M1597.4 335.8h0M1648.8 333.6h0M1550.9 337.1h0M1638.1 336.4h0M1656.2 338.1h0M1748.6 332.7h0M1727.7 335.6h0M1709.2 336.6h0M1694.7 338.5h0M1767.2 337h0M1618.1 335.4h0M1626.9 332.1h0M1688.1 337.7h0M1715.3 334.3h0M1730 332.2h0M1576.2 334.3h0M1626.6 333.9h0M1606.2 338.2h0M1575.5 338.6h0M1614.2 332.7h0M1569.3 334.1h0M1611.6 335.1h0M1607.4 334.5h0M1559.3 336h0M1624.9 334.8h0M1594.5 333.4h0M1727.6 337.7h0M1749.1 336.8h0M1563.1 337.6h0M1714.8 334h0M1656.2 333h0M1614.3 334.2h0M1637 336.6h0M1738.8 333h0M1707.2 335.1h0M1628.7 336.7h0M1660.8 338.3h0M1559.5 334.3h0M1576.2 331.8h0M1542.1 336.6h0M1733.1 337.5h0M1707 337.6h0M1570.1 334.1h0M1553.9 334.9h0M1645.6 333.9h0M1675.3 336.4h0M1678.5 337.1h0M1698.1 335.4h0M1602.6 334.8h0M1657 337.9h0M1577.4 338.4h0M1599.7 335.6h0M1650.9 336.1h0M1627 334.9h0M1700.3 334.6h0M1752.9 333.6h0M1604.5 338.6h0M1552.7 335.2h0M1738.7 337.5h0M1557.2 338.6h0M1754.9 336.2h0M1604.6 334.9h0M1649.4 336.6h0M1699.1 333.2h0M1635.3 336.7h0M1759.2 337h0M1578.9 337.8h0M1604.5 334.6h0M1633 337.5h0M1556.6 332.5h0M1736.1 335.7h0M1763.7 335.3h0M1659.4 334.3h0M1713.7 337.3h0M1644.7 337.7h0M1633.6 338.9h0M1571.9 338.6h0M1613.8 334.7h0M1692.2 336.9h0M1622.2 338.7h0M1682.3 337.3h0M1765.3 337.8h0M1568.8 334.6h0M1597.4 332.6h0M1645.8 335.3h0M1561.2 330.1h0M1701.2 332.7h0M1703 331.6h0M1637.1 340.4h0M1648.8 337.5h0M1625.8 332.1h0M1715.1 338.5h0M1750.4 336.7h0M1571.8 337.5h0M1578.1 334.7h0M1702.2 332h0M1669.3 338.3h0M1636.5 335h0M1556.5 335.2h0M1637.4 332.8h0M1574.9 336.8h0M1543.5 337.1h0M1674.8 335.2h0M1652.3 337.4h0M1695.1 336.1h0M1647.5 338.9h0M1607.8 336.9h0M1736.2 336.8h0M1604.4 339.1h0M1630.1 333.1h0M1658.6 332.2h0M1602.1 335.6h0M1611.3 331.6h0M1610.7 332h0M1600.1 339.4h0M1611.8 332.9h0M1666.5 338.9h0M1721.9 334.8h0M1732.9 334h0M1753.8 336.8h0M1543.3 335.4h0M1695.3 336h0M1639.8 337.8h0M1781.1 332.1h0M1666.5 333.8h0M1780.5 335.7h0M1685 332h0M1560.7 336.5h0M1613.6 332h0M1559.1 336.4h0M1667.2 332.1h0M1735.5 335.9h0M1748.5 332.9h0M1648.9 334.9h0M1643.8 334.9h0M1675.1 333.2h0M1784.9 335h0M1748.4 334.9h0M1706.5 336.3h0M1762.5 338.2h0M1710.5 332.4h0M1689.4 338.5h0M1750.3 332.9h0M1758.3 333h0M1724.7 333h0M1619.4 335h0M1640 338.4h0M1684.6 335.6h0M1633.7 337.1h0M1602.4 334.8h0M1571.8 335.6h0M1721.2 336.3h0M1645.4 339h0M1693.9 338.5h0M1643.6 336h0M1784.9 334.8h0M1579.2 333.4h0M1613.8 335.1h0M1702.5 339.5h0M1710.2 336.3h0M1738.4 335h0M1708.7 331.1h0M1750.6 336.1h0M1728.5 333.5h0M1608.7 337.6h0M1572 332.4h0M1546.8 334.5h0M1668.6 335.2h0M1578.5 338.8h0M1638 333.5h0M1603.2 334.2h0M1712.9 334.5h0M1595.6 333.2h0M1647.3 338.7h0M1685.4 334.1h0M1626.2 338.5h0M1646.4 337.8h0M1648.3 334.6h0M1607.9 334.7h0M1563.5 337h0M1699.8 334h0M1622.7 331.5h0M1580.7 337.4h0M1670.6 337.8h0M1720.1 334.7h0M1676.4 331.9h0M1615.6 333.5h0M1713.3 336.6h0M1745.8 337.2h0M1693.9 335.6h0M1567.3 333.4h0M1685.1 333.4h0M1597.6 335.5h0M1607.3 338.1h0M1592.4 332.6h0M1634.9 332.1h0M1551.2 337.1h0M1632.1 337.5h0M1579.8 333h0M1593.2 333.1h0M1682.8 336.1h0M1625.7 332.3h0M1632 335.2h0M1674.9 337h0M1555.9 333.5h0M1593.6 339.5h0M1742.9 335h0M1645.8 335.1h0M1739.6 333.5h0M1709.3 333.3h0M1608.1 335.6h0M1699.4 336.4h0M1635 332.3h0M1726 334.1h0M1590.2 336.8h0M1673.2 335.2h0"/>
<path stroke="#5b5d59" d="M1550.4 196.7h0M1525.2 224h0M1608.3 240.1h0M1610.2 270.1h0M1558.2 286.2h0M1503.5 291.8h0M1518.5 309.5h0M1649 291.8h0M1666.8 298.6h0M1420.5 293.8h0M1421.8 308.3h0M1423.3 309.3h0M1429.9 312h0M1442 312h0M1444 307h0M1461 302h0M1474 297.6h0M1476.2 304h0M1492.7 293h0M1518.3 309.8h0"/>
<path stroke="#2163cd" d="M1229.7 70.5h0M1302.6 76.2h0M1187.3 89.5h0M1261.9 93.9h0M1266.6 118.5h0M1187.3 122.2h0M1199.6 129.9h0M1278.7 132.8h0M1260.7 148.6h0M1257 158.2h0M1277 167.5h0"/>
</g>
<g clip-path="url(#c2)" fill="none" stroke-linecap="round" stroke-width="5.6">
<path stroke="#fec90f" d="M152.5 750.1h0M164.9 748h0M171.4 754h0M171.4 742h0M303.1 705.2h0M305.8 716h0M322.6 710.6h0M331.3 717.1h0M321.5 720.9h0M330.7 727.4h0M327.2 736.1h0M318.3 736.6h0M322.6 743.1h0M322.6 750.1h0M335.1 746.4h0M339.4 744.7h0M343.8 746.4h0M265.2 719.5h0M280.4 721.4h0M298.2 726.3h0M302.6 724.7h0M308.5 723.1h0M314.5 721.4h0M313.4 725.8h0M308 727.9h0M303.7 732.3h0M310.1 736.1h0M318.8 731.2h0M297.1 735h0M301.5 743.6h0M279.8 726.8h0M254.9 727.4h0M244 729.6h0M306 729h0M311 730h0M300 729.5h0M296 731h0M190.3 746.2h0M270.6 736.7h0M233.9 745.5h0M225.5 751.6h0M241.8 742.6h0M250.2 740.5h0M188.8 746.2h0M265.9 734.9h0M232.1 744.7h0M200 747h0M219.4 752.3h0M269.8 740.9h0M214.1 743.7h0M239.8 746.2h0M256.1 745.2h0M191.7 753.3h0M279.9 734.1h0M225.3 737.5h0M229.3 747.4h0M210.1 750.8h0M247.1 736.8h0M237.2 742.5h0M189.4 748.6h0M287.8 735.6h0M175.7 751.2h0M212.7 751.8h0M233.2 747.8h0M177.8 748.5h0M257.7 734.2h0M290.5 735.3h0M214.5 752.9h0M235.9 736h0M274.2 731.3h0M201.8 749.3h0M273.7 733.7h0M250.1 748.1h0M214.4 749h0M243.3 759.3h0M285.5 738h0M201.6 744.7h0M185.7 741.2h0M270.1 743.7h0M296.1 740.5h0M290.8 738.4h0M296.1 740.8h0M204.3 738.2h0M252.6 733.3h0M209.7 746h0M254 745.3h0M254.1 742.5h0M292.4 741.4h0M255.5 739.2h0M211.7 743.3h0M226 736.5h0M267.3 737.4h0M209.5 749.1h0M273.3 739.8h0M227.7 739.3h0M184 745.4h0M258.6 746.3h0M230.8 749.6h0M239.5 748.9h0M278.8 743.4h0M188.6 745.3h0M272 739.1h0M269.5 735.1h0M205.5 740.6h0M226.6 737.3h0M279.1 735.5h0M258.9 744.6h0M193.9 741.7h0M265.9 743.3h0M279.4 733.3h0M273.3 740.9h0M177.8 745.9h0M260.4 743.8h0M220.7 738.9h0M257.8 733.6h0M179.8 748.1h0M212.8 749.2h0M201.7 741.6h0M243.8 734.9h0M245.5 734.9h0M223.3 739.3h0M242.5 739.1h0M174.9 749.2h0M245.6 734.3h0M228.4 745.5h0M169.7 754h0M289.3 735h0M181.3 754.1h0M172.4 749.5h0M208.5 752.9h0M251.2 739.8h0M245.3 745.6h0M276.4 736.9h0M242.7 742.3h0M268.3 739.4h0M268.8 734.7h0M259.8 733.6h0M280.1 738.8h0M288.8 735.8h0M171.4 748.2h0M191.6 753.2h0M230.6 751.3h0M213.1 745.3h0M275.6 736.4h0M258.3 739.7h0M231.3 748.7h0M257.8 737.3h0M239.5 746.3h0M281.4 741.1h0M207.4 754h0M239 734.1h0M227.4 740.7h0M257.9 734.3h0M180.8 744.5h0M258.9 740.4h0M225.1 735h0M230.9 746.5h0M213.4 745h0M237 739.4h0M195.9 748.5h0M225.4 746.6h0M224.2 748.5h0M183.9 754.2h0M260.4 736.1h0M195.8 747.5h0M207.6 739.1h0M295.3 737.6h0M291.1 741.7h0M246 743.7h0M206.3 740.9h0M298.2 736h0M295.1 736.1h0M228 744h0M204.9 749.9h0M210.2 737.2h0M221.2 746.8h0M271.2 737h0M250.8 748.3h0M239.1 735.3h0M180.9 754.4h0M195.8 747.1h0M225.1 737.6h0M218.4 749.3h0M299.8 738.2h0M212.5 745.5h0M286.5 739.4h0M202.9 738.1h0M204.2 748.1h0M248.4 741.8h0M185.4 748.1h0M268.5 742.4h0M278.5 740.5h0M278.6 742h0M239 746.7h0M256 741h0M227.6 739.4h0M195.3 748.1h0M200.3 743.6h0M201.5 748h0M229.5 741.7h0M268.7 734.1h0M169 746.6h0M224.1 740.4h0M295 739.6h0M271.6 740.4h0M286.8 742.7h0M209.9 748.8h0M183.7 754.3h0M243.4 748.9h0M225.8 738h0M190.1 750.3h0M256.3 743.8h0M203.5 742h0M209.1 746.5h0M202.4 738.3h0M243.9 740.7h0M243.1 746.8h0M264.8 744.5h0M168.9 751.3h0M243.7 746.1h0M201.7 743.9h0M188.9 751.1h0M175.9 751.5h0M282.9 736h0M284.5 738.7h0M281.6 740.1h0M217.3 739.7h0M291 742.5h0M219 740.8h0M200.6 747.1h0M230.4 744.3h0M288.9 738.7h0M272.1 737.1h0M252.1 741.1h0M170.9 747.7h0M244.5 741.2h0M209.9 746.5h0M290 737.7h0M204.2 738.2h0M241.5 734.1h0M190.4 744.8h0M263.6 737.5h0M243.3 746.1h0M248.7 734h0M199.6 744.1h0M264.2 735.4h0M285.2 742.5h0M269 732.5h0M207.3 752.3h0M255.7 732.4h0M193.9 748.8h0M194.3 752.2h0M291.3 735.5h0M166 750h0M297.3 738.1h0M260.6 740.9h0M175 748.1h0M232.8 738h0M211.5 745.4h0M252.4 735.7h0M192 744.3h0M210 739.9h0M216.2 750.7h0M223.6 734.9h0M276.3 741.5h0M180.9 744.4h0M281.8 738.6h0M293.7 741.5h0M249.4 735.9h0M217.5 738.2h0M284.5 739.3h0M263.4 734.5h0M292.1 741.9h0M265.1 734.9h0M272.3 734.6h0M221.5 742.2h0M244.2 742.8h0M236.6 748.8h0M248.6 736.5h0M255.2 731.9h0M253.4 735.1h0M211.7 748.2h0M228.1 744.5h0M194 742.2h0M245.9 743.4h0M243.8 749h0M187.4 746.9h0M297.3 737.9h0M208.9 750.9h0M218.7 749.4h0M174.6 747.8h0M280.9 739h0M220.5 749.9h0M294.4 739.6h0M180.1 744.4h0M279.8 737.9h0M282.8 735.6h0M256.4 742.4h0M243.3 735.1h0M239.7 731.4h0M198.7 747.4h0M238.1 743.2h0M248.1 743.6h0M235.4 734.6h0M226.5 748.5h0M201.4 752.7h0M235.8 746.4h0M229.1 738.4h0M219.8 742.5h0M237.8 749.5h0M208.7 736.6h0M297.7 737.3h0M191.7 753.5h0M205.1 750.5h0M262.9 738h0M216.3 741.4h0M202.8 752.6h0M205.8 746.9h0M173.5 751.4h0M232 743.4h0M203.1 749.3h0M260.4 741.8h0M265 742.8h0M250.7 737.9h0M228.8 738.4h0M192.9 747.5h0M283.9 735.3h0M286.4 735.2h0M187.1 745.1h0M260.1 740.6h0M244.2 743.6h0M181.4 749.1h0M246.3 745.7h0M232.4 742.4h0M255.6 740.8h0M189.7 743.2h0M254 733.6h0M251 738.8h0M286.1 737.6h0M237.1 734.9h0M222.9 745.2h0M252.9 741h0M276.8 744.3h0M239.4 737.6h0M217.2 749.7h0M172.3 749.9h0M261.2 733.6h0M210.7 747.3h0M292.4 743.6h0M238.1 735.6h0M240.3 746.5h0M260.8 733.4h0M231.5 745.4h0M232.8 734.6h0M210.5 748.5h0M210 751.5h0M201.9 751.3h0M282.4 740.6h0M238 737.2h0M182.1 752.3h0M255.6 743.9h0M163.8 751h0M279.3 742.9h0M198.2 742.9h0M173.6 746.4h0M176.3 752h0M201.3 748.5h0M187.6 751.8h0M235.4 743.9h0M286.6 736.6h0M263.1 734.3h0M207.9 742.9h0M189.1 745.3h0M195.3 744h0M264.8 739.8h0M272.8 741.7h0M298.2 737.1h0M264.7 735.3h0M193.4 746.9h0M190.4 753.2h0M266.2 738.9h0M277.5 739.4h0M264.2 740.7h0M172 752.8h0M254.2 736.6h0M171.2 752.9h0M222.5 743.5h0M232.3 739.9h0M272.8 737.9h0M210.1 742.7h0M197.2 754.1h0M206.6 745.3h0M279.3 734.8h0M195.1 745.4h0M190.5 748.5h0M175.6 744.7h0M176.7 747.6h0M224.6 746.6h0M252.7 734.3h0M196.4 744.7h0M295.8 741.3h0M198.7 748.3h0M260 743h0M294.8 735.2h0M265.3 733.1h0M199.8 751.6h0M243.4 740.7h0M266.3 741.5h0M191.1 739.3h0M272.6 736.8h0M223.1 741.1h0M237.2 737.8h0M207.2 745.8h0M247 739.8h0M189.1 754.9h0M272.6 742.9h0M197.5 747.2h0M230.1 739h0M198 748.2h0M288.5 741.9h0M193 740.2h0M273.1 741.7h0M234.8 739.2h0M269.2 740.4h0M193 742.7h0M297.3 736.3h0M176.3 748.8h0M170.8 748.7h0M253.3 742.4h0M239.6 747.5h0M215.1 749.5h0M239.1 736.4h0M247.8 746.8h0M212.4 740.2h0M200.7 752.9h0M218.7 736h0M258.7 745h0M209.3 746.4h0M191.4 743.1h0M215.7 744.6h0M239.6 733.7h0M279.3 743h0M282.8 736.4h0M275.7 742h0M251.1 739.9h0M191.5 745.5h0M233.7 745.7h0M173.4 751.7h0M235.3 738.6h0M238 749.7h0M218.8 750.3h0M217.5 737.1h0M226 750.7h0M262.4 738.3h0M246.8 730.7h0M168.1 750.4h0M229.7 738.8h0M187.2 753.6h0M242.7 746.2h0M255.5 737.5h0M284.2 740.3h0M259.8 744.1h0M196 752.8h0M237.8 737.4h0M258.3 732.6h0M261 743.7h0M218.8 744.9h0M253.8 742h0M276.4 735.3h0M170 752.3h0M265.2 735.7h0M194.8 747.4h0M272 735.9h0M205.6 751.5h0M273.1 733.2h0M219.1 740h0M289.6 741h0M280.2 738.1h0M190.5 753.3h0M186.8 745.3h0M189.3 752.8h0M249.5 733.5h0M180.4 750.9h0M288 740h0M254.7 736h0M275.3 737.5h0M286.4 739.1h0M254.7 734.1h0M285.4 736.8h0M210.7 742.7h0M209.3 741.8h0M181 742h0M270.6 739.3h0M245.7 745.3h0M228.1 746.3h0M205.7 742.4h0M197.5 739.9h0M285.8 741.6h0M268.9 742.7h0M233.3 746.9h0M194.2 751.3h0M216.9 749.8h0M180.7 744.8h0M256.9 744.9h0M268.6 733h0M181.4 747.1h0M273.6 733.5h0M285.6 742.7h0M259.3 736.6h0M232.5 745.8h0M271.2 743.1h0M299.6 736.9h0M183.8 752.8h0M233.4 739.6h0M296.3 741h0M299.5 737.1h0M211.9 743.4h0M277.6 739h0M173.7 744.2h0M222.8 740.5h0M240.4 747h0M261.7 734.1h0M205.6 743.5h0M253.6 739.3h0M190.9 742.5h0M284 738.9h0M248.9 743.1h0M240.8 749.6h0M222.9 738.1h0M245.6 744h0M296.9 740h0M242.9 741.1h0M249.4 743h0M233.3 749.9h0M277.8 740.6h0M272.3 735.7h0M189.1 750.2h0M178.7 749.5h0M234.1 740.4h0M194.3 743.8h0M220.7 741.9h0M196.1 746.4h0M270.8 743.9h0M210.9 740.7h0M199 742.7h0M226.7 739.5h0M200.1 745.2h0M164.9 747.1h0M270.5 745.6h0M223.2 749.1h0M229.3 735.1h0M192.2 758.6h0M266 733h0M213.6 744.4h0M185.9 751.3h0M210.1 739.6h0M173.3 754h0M228.3 741.6h0M269.1 740.7h0M279.6 741.4h0M242.9 744.4h0M174.2 751.7h0M236.4 744.1h0M166.7 747.2h0M292.6 739.4h0M288.6 738.5h0M236.9 740.5h0M215.5 739.7h0M219.9 741h0M289 737.2h0M187.3 750.5h0M209.6 738.6h0M217.2 742.9h0M220.4 740.3h0M164.1 748.4h0M181.2 743.4h0M177 752.1h0M214.5 740.8h0M297.9 734.6h0M245.7 743h0M274.4 739.7h0M207.6 747.5h0M177.3 748.2h0M188.4 743.4h0M281.4 739.4h0M221.1 746.8h0M186.5 748.1h0M274.5 734.3h0M208 742.1h0M192 746.3h0M217.4 745.4h0M231.9 737.7h0M192.1 749.1h0M261.3 738.9h0M233.1 747h0M283.2 736.7h0M193.7 743.2h0M198.1 751h0M203.6 751.3h0M185.8 745.9h0M256 740.8h0M206 732.4h0M280.2 740.7h0M243.4 740.2h0M204.3 746.7h0M234.9 748.2h0M213 739.8h0M206.1 746.4h0M239.4 737.8h0M284.7 737.8h0M262.7 740.1h0M216.8 744.8h0M239.2 734.5h0M255.3 743.5h0M248.1 743.4h0M273.2 742.5h0M240.4 744.7h0M190.6 740.4h0M207.4 744.1h0M182.2 749.4h0M291 739.4h0M220.9 742.9h0M209.2 744.2h0M179.5 745h0M292.8 737.9h0M205.8 752.2h0M231.5 748.5h0M191.8 747.4h0M187.1 744.8h0M170.6 747.2h0M279.3 734.6h0M206.9 743.5h0M289.7 739h0M194.6 746.3h0M286.8 740.8h0M269.5 736.4h0M298 740.2h0M189 743.7h0M247.2 741.8h0M178.7 744.8h0M266.3 742.8h0M291.4 742.3h0M288.5 736.6h0M185.7 753h0M255.8 735.9h0M285.9 740.4h0M177.3 743.5h0M211.1 747h0M281.2 740.3h0M201.8 740h0M170.5 751.9h0M202.1 742.7h0M287.7 736.9h0M274.5 743.1h0M233.2 748.5h0M276.2 738.9h0M277.5 733.5h0M172.3 750.1h0M242.1 738.8h0M247.2 741.6h0M218.2 747.5h0M232.8 746.3h0M231.1 748.1h0M283.7 738h0M266.1 742.8h0M180.3 744h0M246.4 749.2h0M229.1 751.1h0M194.3 741.4h0M186.9 749.7h0M228.7 747.5h0M204.2 751.6h0M190.3 742.8h0M199.6 746.5h0M194.1 753.9h0M294.7 738.2h0M271.2 733.2h0M214.9 747.5h0M212.3 741.7h0M270.6 735.4h0M221.8 750.4h0M272.2 742h0M265.2 737.2h0M252.9 736.4h0M214.6 742.2h0M281.2 737.5h0M207.6 752.6h0M261.2 740.5h0M202.4 739.6h0M214.4 741.9h0M267.3 743.5h0M175.2 750.9h0M178.4 747.2h0M276 739.2h0M182.4 744.5h0M241.6 742.4h0M170.6 745.7h0M295.1 738.4h0M247.6 741.4h0M205.5 739.5h0M265 736.6h0M240 734.7h0M292.1 734.8h0M259.4 744.4h0M195.8 752.9h0M175.3 752.7h0M195.6 747.9h0M246.8 745h0M178.4 748.7h0M237.3 737.9h0M194.6 749.6h0M248.8 749.1h0M220.5 749h0M281.5 742h0M189.6 749.2h0M182.2 746.3h0M227.8 739.2h0M280.7 740h0M232.9 738.2h0M269.1 735.2h0M213.7 750.3h0M185.7 745.1h0M209.9 749.2h0M253.1 746.2h0M294.4 739.1h0M290.9 735.7h0M216.3 737.8h0M263.1 742.8h0M193.6 749h0M256.8 743.2h0M221.6 749.6h0M297.8 740.3h0M270 732.1h0M169 749.4h0M278.2 738.9h0M291.1 736.8h0M299.5 737.8h0M207.8 750.3h0M297.4 738.3h0M265.8 734.8h0M220.7 748.2h0M260.7 733.9h0M215.6 739h0M217.9 738.2h0M284 740.8h0M175.2 751.9h0M291.6 738.4h0M283.5 734.1h0M183 753.1h0M260.5 733.1h0M217.8 745.4h0M248.1 735.5h0M196.2 749.9h0M167.9 748.8h0M209.8 737.7h0M224.2 743.9h0M172.3 748.1h0M208.4 741.1h0M229.7 740.4h0M225.8 739h0M217.4 739.1h0M264.9 734.6h0M224.8 735.7h0M254.7 741.4h0M203.5 740.4h0M265.2 744h0M178.5 747.1h0M250.5 738.9h0M242.6 739h0M232.6 733.9h0M280 736.1h0M205.3 747h0M180.1 755h0M220.6 749.7h0M271.9 734.8h0M237.6 734.6h0M281.7 743h0M186 753.9h0M205.8 751.8h0M274.2 742.6h0M224.3 744.1h0M290.7 739.4h0M179.7 753.1h0M263.7 738.7h0M291.3 736.4h0M227.8 749.5h0M173.5 750h0M280.5 734.6h0M276.9 738.8h0M217.7 751.6h0M211.1 742.9h0M191.6 747.5h0M277.6 739.4h0M297.1 738.6h0M242.6 737h0M281.6 736.5h0M261.3 746.7h0M283.4 737.3h0M168.6 749.1h0M203.9 745.9h0M249.5 744.1h0M219.9 739.5h0M233.1 750.4h0M215.1 739.8h0M181.5 751.1h0M205.1 753.2h0M230.5 737.8h0M227.7 747.2h0M189.7 747.5h0M181.3 747.3h0M210.9 743.4h0M191.9 740.6h0M242.6 733.2h0M254.7 743.2h0M236.6 748.3h0M281 737h0M200.6 752.2h0M228.9 737.7h0M243.9 749.7h0M269.2 744.3h0M203.8 743.8h0M292.3 738.5h0M257.9 736.8h0M186.3 746.1h0M210.1 749.7h0M260 741.7h0M220.4 742.5h0M267 741.4h0M261.5 740.1h0M209.3 751.6h0M249.1 744.7h0M285.6 739.6h0M227.6 749.7h0M211.5 743.2h0M172.9 748.4h0M178.6 748.1h0M241.8 739.3h0M253.4 744.6h0M251.9 742h0M252.7 736h0M213.6 745.1h0M260.1 733.1h0M171.3 745.6h0M226.4 738h0M295.4 735.9h0M195 743.7h0M246.9 742.7h0M284.6 733.4h0M259.9 732.6h0M244.3 740.3h0M238.1 742.6h0M226.8 735.6h0M178.6 749.1h0M281.8 740.8h0M288.4 736.9h0M266.6 741.8h0M178.2 745.8h0M288.9 734.8h0M245.4 737.5h0M186.3 747.9h0M183.8 750.7h0M293 734.1h0M243.4 732.9h0M167.3 747.2h0M255 732.9h0M175.5 747.9h0M264.6 740.6h0M258 744.3h0M261.4 743.5h0M254.3 742.5h0M286 736.5h0M178.5 743h0M254.6 747.1h0M276 734.7h0M253.1 739.1h0M231.1 741.3h0M256.8 748.3h0M284.1 737.8h0M279.1 738.4h0M259.2 733.6h0M218 739.8h0M164.9 749.3h0M288.6 740.7h0M278.2 742.9h0M239 734.8h0M294.2 742.8h0M276.2 736.1h0M293.8 735.3h0M202.4 744.7h0M206.5 744.8h0M259.8 734.1h0M198.9 746.5h0M294.2 738.2h0M213.6 741.9h0M200.3 751.3h0M297.8 741.2h0M276.6 740.8h0M208.2 744.4h0M256 738.2h0M253.5 741.2h0M251.8 743.9h0M181.9 748.3h0M186.3 748.8h0M240.4 741.8h0M172.4 751.5h0M169.7 748.8h0M241 745.7h0M206.6 748.1h0M225.9 737.3h0M274.1 737.4h0M261.1 745.4h0M230.8 737.4h0M171.1 745h0M243.9 742.5h0M275.5 741.2h0M297 736.3h0M191 751.5h0M197 737.8h0M230 736.7h0M220.7 745.6h0M259.3 737.5h0M254.8 732.7h0M226.7 743.5h0M250.8 735h0M293.1 735.2h0M263.4 739h0M243.7 743.4h0M195.2 742.8h0M166 748.1h0M264.9 734.3h0M273.1 733.5h0M252.5 747h0M189.5 751.9h0M267.2 734.8h0M258 740.3h0M226.6 743.2h0M195.7 739.9h0M196.3 742.5h0M185.1 745.9h0M215.1 745h0M266.5 744.9h0M230.9 744.5h0M209.7 746.9h0M233.4 742.5h0M251.2 741.9h0M278 733.2h0M270.9 732.7h0M204.7 753.9h0M191.6 753.3h0M179.2 743.2h0M241.7 735.9h0M247.6 748.5h0M260.2 734.3h0M282.7 743.8h0M212.2 742.4h0M236 739.9h0M204 738h0M283.3 741.3h0M276.6 735.2h0M255.5 738.2h0M294.6 740.4h0M229.5 748.8h0M279.5 740.4h0M222.1 751.1h0M281.9 735.3h0M178.8 748.1h0M224.7 739.4h0M260.1 744.9h0M223.9 733.3h0M283.1 737.8h0M178.9 753.1h0M228.2 749.8h0M232.4 742.9h0M290 738.1h0M190.3 749.8h0M268.2 745.5h0M183.1 748.3h0M191.5 748.4h0M252.6 747.6h0M209.2 745.6h0M223.4 752.5h0M179.4 750.3h0M265.4 746.5h0M238.2 744h0M196.3 742.4h0M264.7 740.7h0M233.2 746.4h0M221.8 751.1h0M182.3 744.3h0M222.4 740.9h0M273.1 735.5h0M288 742.5h0M204.8 750.7h0M222.1 742.1h0M225.7 750.8h0M255.3 744.8h0M175.9 753.7h0M256.3 736.3h0M226.1 737.9h0M238 738.5h0M169.3 749.3h0M288.9 732.5h0M287.1 740.4h0M229.4 740.5h0M281.5 736.2h0M214.6 745.5h0M238.8 735.4h0M253.4 735.5h0M250.4 747.2h0M286.6 741h0M276.9 734.9h0M268.5 741.8h0M193.1 740.6h0M174.5 749.1h0M284.5 736.3h0M167.3 751.1h0M195.4 745.6h0M262.3 737.8h0M185.2 748.8h0M221.1 740.3h0M243 739.5h0M194.5 746.3h0M244.1 738.5h0M170.7 747h0M279.7 738h0M293.5 737h0M272.6 741h0M198.2 745.5h0M227.1 743.9h0M184.2 748h0M214.5 750.8h0M190.6 740.7h0M249.3 742.5h0M226.8 745.2h0M182.7 748.7h0M292.3 739.5h0M232.9 746.2h0M208.8 752.5h0M225 749.6h0M224.2 742.1h0M261.2 738.1h0M182.8 753.7h0M247.9 732.7h0M221.2 741.3h0M275.7 736.8h0M265.8 735.1h0M262.5 746.5h0M216.1 737h0M234.1 738.4h0M225.2 738.8h0M221.2 751h0M271.6 737.9h0M291.8 741.2h0M242 739.2h0M275 735.7h0M262.6 737.6h0M231.8 741.3h0M266.2 745.5h0M292.5 741.7h0M243.3 735.5h0M290.2 742.7h0M191.2 742.5h0M174.7 747h0M240.6 737.4h0M215 745.8h0M241.2 745.4h0M206.8 745.6h0M202.1 748.2h0M273.4 740.1h0M220.6 744.3h0M272.3 745.5h0M240.2 749.7h0M282.9 736.6h0M205.8 749.8h0M254.3 744h0M201.9 753.6h0M218.9 746h0M261.9 740.7h0M287 737.8h0M261.1 739.3h0M249.6 741.5h0M164.9 750.3h0M237 743.5h0M227.4 750.4h0M192.3 743.3h0M242.3 734.1h0M277.6 736.8h0M229.2 736.1h0M193.3 743.2h0M277.5 738.1h0M260 739.8h0M170.8 749.8h0M253.5 740.9h0M288.3 738.3h0M216.9 746.1h0M285.5 739.1h0M164.8 746.9h0M216.6 746.2h0M210.8 749h0M248.4 739.9h0M295.6 740.7h0M247.2 745.9h0M282.9 735.2h0M246.7 732h0M181.5 752.7h0M242.9 739.3h0M294.8 739.6h0M198.4 748.5h0M288.4 738.6h0M185.3 743.1h0M270.4 732.4h0M247.3 746h0M174.2 752.1h0M273.5 736.9h0M269 742.5h0M223.8 741.4h0M205.8 747.2h0M298 735.2h0M188.8 749.8h0M190.9 752h0M176 750.9h0M220.2 746.4h0M209.7 741.5h0M211.5 741.8h0M199.6 753.7h0M201.9 742.6h0M182.1 749.2h0M218.2 738h0M287.8 740.4h0M176.4 744.6h0M234.9 738h0M264.6 745h0M251.3 734.3h0M237.4 742.5h0M236.7 743.9h0M168.2 752.8h0M259.2 737.1h0M206.2 744.1h0M215.3 736h0M214.7 751.9h0M253.8 745.9h0M266.3 744.2h0M279.6 742.3h0M216.8 746.5h0M276.4 740.2h0M195.2 747.3h0M220.6 746.7h0M283.6 739.3h0M233.3 749.6h0M223 741.1h0M232.7 739.9h0M212.6 740.6h0M219.7 743.9h0M280.3 743h0M247.7 733.4h0M233.9 749.4h0M191.5 741.1h0M292.1 739.4h0M287.3 740.6h0M283.6 737.9h0M183.2 752h0M183 752.5h0M220.6 747.1h0M296.9 737.9h0M240.7 739.9h0M297.5 737.3h0M243.3 747.4h0M179.4 749.5h0M259.1 738.4h0M270.1 734.8h0M201.9 739.6h0M194.8 746.2h0M284.1 741.3h0M220.7 747.7h0M218 740.6h0M221.2 751h0M250.3 746.1h0M248.4 738.6h0M240.9 735.4h0M261.7 740.3h0M210.1 742.1h0M275 736.8h0M265 744.7h0M253.4 746h0M246.8 737.5h0M194.7 753.8h0M205.5 749.5h0"/>
<path stroke="#e4474b" d="M403.4 744.1h0M409.3 741.5h0M414 746.5h0M420.2 743.6h0M429.4 746.7h0M433.6 742h0M436.1 744.5h0M445.3 747.8h0M447.8 742h0M443.6 734.8h0M409.2 741.4h0M413.8 746.2h0M418 743.4h0M403.4 744.4h0M551.4 710.1h0M625.9 707.1h0M632.6 709.3h0M653.9 713.1h0M673.5 713.1h0M697.5 716h0M583 721.5h0M590.6 722.4h0M612.5 721.5h0M641.3 722.7h0M676.5 727.4h0M698 725.2h0M478.8 727.7h0M483.8 725.2h0M519.9 729.9h0M551.4 729.1h0M533.3 734.1h0M604.1 731.9h0M611.2 729.4h0M618.7 729.4h0M662.3 732.7h0M489.7 758.7h0M534.9 759.6h0M570.5 757h0M643 754.9h0M663.1 752.9h0M674 712.9h0M697.5 715.9h0M676.6 727.1h0M698.6 725.3h0M662.7 732.5h0M707.7 738.9h0M708.3 744.3h0M716.3 743.2h0M719 743.2h0M727.6 743.2h0M703 742h0M705 746h0M646.3 749.5h0M650.8 748.5h0M551.9 741.4h0M502.1 749.2h0M618.9 749.2h0M563.7 749.5h0M553 749.6h0M664.1 747.7h0M526.5 742.5h0M670.8 743.5h0M572.7 747h0M678.1 742.3h0M654.2 748.9h0M697.9 745.1h0M566.1 741.3h0M630.5 749.4h0M485.4 746.3h0M506.4 744.5h0M572.6 741.3h0M611 740.7h0M580.6 745.7h0M594.9 741.5h0M631.4 749.1h0M510.2 743.8h0M596.1 747.9h0M633.2 743.9h0M527.4 752.5h0M482.1 750.2h0M549.1 747.9h0M558.9 743.5h0M644.2 738.8h0M566.8 744.7h0M541 747.3h0M565.4 741.9h0M608 742.3h0M667.3 741.7h0M689.2 745.6h0M489.5 754.4h0M689.1 743.1h0M654.5 748h0M596.9 747.1h0M542.2 749.9h0M620.5 743.4h0M570.3 744.7h0M639.3 748.6h0M530.3 751h0M640 746.5h0M630.1 745h0M593.8 744.7h0M667.3 743.2h0M649 743.9h0M530.3 747h0M682.7 741.2h0M534.3 742.7h0M459.6 744.3h0M529.2 742.6h0M510.5 742.4h0M478.7 747.7h0M551.7 744.5h0M505.8 746.5h0M634.5 745.8h0M606.3 740.5h0M549.5 743.6h0M472.7 743.3h0M487.2 747.2h0M542.1 745.8h0M642.1 747.5h0M572.7 747.2h0M639.6 750.5h0M611.4 744.5h0M573.1 742.4h0M690.8 744.2h0M537.6 750.9h0M683.7 742.6h0M550.4 742.3h0M564.8 745.3h0M458.1 749.7h0M496.8 743.7h0M491.4 749.3h0M635.4 749.4h0M625.2 745.5h0M511.8 750.3h0M549.4 745.7h0M464.1 743.8h0M597.7 749.1h0M567.8 742.4h0M471 749.9h0M501.8 743.3h0M480 747h0M640.2 742.8h0M506.2 747.7h0M685.4 746.5h0M632.4 744.5h0M616.8 748.3h0M497.3 745.2h0M586.3 743.5h0M472.4 751.6h0M668.6 748.6h0M554.4 744.1h0M690.6 742.3h0M507.6 743.7h0M512.3 746.9h0M625.1 746.7h0M658.1 746.7h0M624.5 740.2h0M686.6 743.7h0M536.6 744.4h0M539.3 752.1h0M642.1 748.9h0M451.3 743.2h0M592.5 748.5h0M480.5 747.3h0M653.9 746h0M546.7 750.3h0M636.6 739.4h0M682.5 743.6h0M642 740.6h0M627.6 746.3h0M612.4 748.9h0M481.2 746.6h0M570.1 742.2h0M686.8 745.1h0M567.6 749h0M651.4 748.2h0M595.6 741.4h0M643.5 743.7h0M529.3 747h0M667.7 746.3h0M511.2 748.3h0M651.8 748.7h0M558.4 748.9h0M489.8 744.8h0M677.4 745.6h0M576.3 745.1h0M528.8 746.1h0M533.9 743.8h0M667.2 747.5h0M624.5 745h0M676.7 741.7h0M554.4 750.6h0M541.1 748.3h0M521 743.3h0M564.2 746.3h0M533.5 742.3h0M596.2 743.9h0M609.3 747.8h0M539.7 748.2h0M562.3 742.6h0M613.4 742.5h0M592.2 749.5h0M546 751.3h0M531.5 747h0M683.2 740.7h0M605.1 744.3h0M455 746.7h0M660.8 742.4h0M597.8 741.2h0M460.3 746.5h0M556.1 749.1h0M640.5 750h0M460.4 745.7h0M501.7 742.5h0M557.1 747.3h0M576.7 743.4h0M598.8 749.1h0M564.8 744.3h0M549.5 749.1h0M546.7 746.4h0M612.5 750.3h0M490.5 744h0M464.7 748.6h0M615 739.8h0M609.3 740.8h0M558.5 745.2h0M651.3 745.8h0M624.2 747.6h0M584.1 745h0M528.9 744.8h0M682.9 744.2h0M640.8 750.6h0M551 743.8h0M671.1 742h0M499.8 740h0M562.3 744.2h0M654 743.2h0M520.7 747.2h0M587.3 747.6h0M521.3 743.9h0M598.8 743.3h0M514.2 750.6h0M575.6 750.1h0M526.4 750.5h0M695 744h0M659.6 739.6h0M624.3 747.9h0M523.7 743.9h0M532 745h0M640.2 743.4h0M640.8 749.6h0M540.2 748.1h0M520.5 741.6h0M642.7 751h0M662.6 742.5h0M515.8 742.3h0M605 747.7h0M595.3 741.8h0M697.3 743.8h0M562 748.7h0M634.3 743.5h0M643.6 742.3h0M532.9 744.5h0M556.4 745.7h0M537.9 744.7h0M555.7 750.9h0M475.2 748.4h0M651.4 748.9h0M528.6 745.8h0M549 752.6h0M631.2 750.4h0M651 747.8h0M529.3 747.9h0M605.4 748.5h0M632.6 736.4h0M622.8 749.1h0M568.9 746.4h0M681.4 744.3h0M637.8 744.5h0M572.8 750.1h0M524.5 740.4h0M628.7 747.2h0M608.2 750h0M644.7 741.6h0M457.8 743h0M559.4 748.2h0M584.4 748.8h0M526.4 747.5h0M589 744.2h0M671 741.9h0M617.4 748.4h0M568.9 745.5h0M505 749h0M511.7 749h0M609.4 747.4h0M675.7 748.6h0M585.7 748.2h0M679 744.3h0M534.3 746.8h0M590.2 744h0M656.4 748.6h0M516.4 745.8h0M579.8 744.1h0M688.3 747.8h0M648.4 746.1h0M648.7 738.8h0M487.4 743.9h0M659.1 746.3h0M675.4 744.4h0M602.3 740.7h0M544.6 753h0M473 746h0M670.6 743.2h0M514.3 744.6h0M462.8 741.7h0M515.4 746.8h0M670.4 742.6h0M474.5 746.4h0M564.5 742.4h0M469.8 746.3h0M644.5 739.9h0M510.8 741.6h0M603.1 739.5h0M470.3 742.8h0M566.3 740.2h0M514.2 750.8h0M489.7 748.7h0M561.2 748.7h0M618.6 747.7h0M619.7 747.3h0M656.2 745.4h0M540.3 746.2h0M577.8 749.7h0M566.4 748.3h0M612.8 752.7h0M501.7 750.6h0M504.8 747.8h0M499.6 746.9h0M561.8 750.7h0M541.2 749.8h0M590.1 748.6h0M563.9 751.8h0M651.2 746.8h0M516.6 751.2h0M517.2 742.7h0M539.7 749.9h0M470.8 752.1h0M675.1 746.1h0M560 752.3h0M651 744.8h0M531.9 749h0M630.5 734.2h0M523 746.4h0M462.6 750h0M491.2 751.5h0M495.6 741.8h0M458.4 747.4h0M641.3 746.4h0M540.8 753.3h0M568.9 748.8h0M541.5 743.5h0M642.5 747.1h0M586.1 744.7h0M594.1 745.3h0M601.7 744.7h0M625.5 746.5h0M486.5 744.2h0M685.9 743.7h0M534.2 742.6h0M589.2 746.4h0M647 752.8h0M505.1 746.2h0M584.2 739.7h0M542.6 749.6h0M699.5 744.5h0M700 744.6h0M541.2 748.8h0M563.1 751.7h0M515.5 751.3h0M506.3 747.9h0M487.1 744.7h0M672.6 741.7h0M655.9 744h0M596 748.4h0M670.1 747h0M635.2 742.7h0M492.6 742h0M686.4 745.3h0M656.2 741.9h0M625.8 746.6h0M500.5 744.2h0M685 744.9h0M639.6 747.3h0M628.9 745.6h0M598.7 746.4h0M618.8 749.9h0M637 746.2h0M629.8 744.6h0M562.5 736.4h0M555.9 746.6h0M590.5 750h0M642 742.6h0M454.7 749.2h0M541.8 751.3h0M465 746.2h0M499.1 750.4h0M466.5 746.4h0M469.6 743.9h0M636 741.2h0M458.1 743.9h0M534.7 748h0M608.7 743.2h0M555 742.6h0M633.8 746.7h0M672.2 739.4h0M575.5 745.4h0M633.7 746.9h0M552.1 751.8h0M485 749h0M546.7 751.3h0M675.4 740.8h0M579.3 750.6h0M607 744.3h0M512.9 744.9h0M498.2 745.4h0M521.7 746h0M473.6 750.7h0M651.7 743.7h0M690.7 745.2h0M654.5 745.4h0M506.7 747.9h0M636.8 741.5h0M552.2 754.2h0M510.4 750.3h0M573.7 747.9h0M626.6 749.4h0M576.7 741.5h0M520.3 758.2h0M516.2 744.6h0M502.3 745.9h0M567.1 743.6h0M548.4 747.4h0M599.4 745.4h0M681.5 745.9h0M538 748.9h0M489.2 742.4h0M670.5 740.4h0M571.2 743.3h0M612.9 744.3h0M500.5 747h0M534.2 750h0M657.6 742.1h0M484.8 748.2h0M548 743.2h0M556.1 747.8h0M574.5 744.9h0M651.6 740.6h0M581.8 744.5h0M480.9 745.5h0M596.7 741.4h0M484.9 749.2h0M564.3 744.1h0M641.6 746.3h0M575 750.9h0M588.8 748.4h0M602.4 750.3h0M476.6 746.2h0M686.8 747.9h0M629.6 741.5h0M539.1 748.3h0M672.4 742.7h0M608.7 747.7h0M564.9 751.9h0M553 750.3h0M511.1 741.9h0M513.1 742.8h0M536 741.9h0M555.9 750h0M681.5 742.1h0M618.4 743.2h0M476.3 749.7h0M623.3 738.2h0M612.1 741.6h0M574 747.4h0M597 741.5h0M583.8 748.3h0M626.8 742.5h0M604.6 746.2h0M599.9 744.2h0M517.7 742.5h0M620.6 742.8h0M572.5 743.8h0M547.6 737.9h0M499.8 755h0M631.2 748.1h0M659 747h0M583.2 746.5h0M659 747.4h0M623.8 746.9h0M483.8 746.3h0M513.3 748.5h0M583.3 750.1h0M583.2 749.8h0M643.6 749.9h0M588.7 752.7h0M575.7 752h0M551.5 752h0M587 749.5h0M489.5 745.7h0M601.9 747.8h0M649 743.3h0M599.4 744.3h0M601.8 742.3h0M594.2 746.6h0M676.7 746.6h0M667.6 742.6h0M595.2 742.1h0M643.1 743.8h0M608.3 742.9h0M640.6 742.1h0M538.6 748.7h0M537.3 751.3h0M481.6 744.1h0M561.9 746.1h0M641.9 741.8h0M508.6 755.1h0M545.9 750.9h0M580 742h0M633.3 750.3h0M544.3 742.9h0M556.8 746.4h0M599.1 745.3h0M664.1 745.6h0M608.9 754.5h0M653.9 747.7h0M602.1 746h0M645.7 745.6h0M544.1 750.8h0M623.6 744.1h0M548.9 744.6h0M547.4 745.5h0M474.1 750.7h0M514.7 745.4h0M576.5 740.2h0M643.6 741.6h0M638.9 740.5h0M668.7 747.6h0M623.8 742h0M463.1 742.8h0M635.4 742.3h0M668.7 748.6h0M608 751.5h0M691.9 747.2h0M535.8 758.4h0M500.3 743.8h0M553.1 744.1h0M525.3 744.1h0M587 748.9h0M526.7 743h0M526.4 749.6h0M654.1 745.6h0M683.3 741.1h0M668 746.7h0M610.4 744.8h0M568 750.3h0M499.4 749.9h0M648.2 740.7h0M515.2 746h0M470.8 746.3h0M552.9 748.4h0M483.4 743.6h0M568.7 743.3h0M607.4 742.5h0M538.2 752.1h0M630.3 748h0M669.9 741h0M564 756h0M478.3 751.4h0M503.3 746.6h0M539.2 746h0M635.1 744.9h0M550.9 747.6h0M530 751.6h0M600.3 747.6h0M686.5 742.1h0M534.5 747.3h0M604 746.3h0M493 745.1h0M653.7 742.6h0M603.9 741.2h0M651.7 747h0M637.4 741.3h0M659.5 739.9h0M696.8 746h0M635.5 745.2h0M572 749h0M601.8 732.1h0M662.1 742.9h0M585.7 746.4h0M541.3 747.8h0M622.1 747.6h0M554.4 747.7h0M692.4 745.7h0M693.9 743.3h0M640.7 744.8h0M618 749.2h0M595.5 742.3h0M541.5 741.2h0M685.1 745.4h0M676.2 748.9h0M504.1 747.4h0M627.5 739.8h0M612.6 743.2h0M561.8 744.6h0M577.2 743.8h0M478.9 749.5h0M521.9 753.7h0M511 748.2h0M499.9 744.7h0M536.1 749.9h0M619.9 745.6h0M634.8 744.6h0M508.3 747.7h0M451.1 750.5h0M610.3 749.1h0M516 750.7h0M526.6 747.6h0M492.8 737.7h0M510.3 744h0M535.4 749.3h0M469.2 742.4h0M459.3 748.5h0M622.4 745.1h0M472 750.3h0M518.1 750.7h0M490.8 748.4h0M663.9 749.2h0M569.1 747.6h0M603.4 744.3h0M465.9 747.5h0M674.2 745.2h0M587.6 746.9h0M485.4 745h0M500.3 746.5h0M683 747.5h0M633.6 748.7h0M638.3 746.4h0M491.6 742.8h0M626.6 748.8h0M468.5 743.6h0M594.6 746.4h0M601.6 740.9h0M624.3 743.8h0M619.3 742.4h0M529.6 742.1h0M675.3 747.3h0M628 746.1h0M509.3 743.4h0M614.9 743.5h0M496.7 743.7h0M498 743.6h0M629.2 747.7h0M562.7 750.2h0M590.3 744.8h0M619.5 743.1h0M581.4 749.9h0M464.6 742.3h0M555.9 743.1h0M675.6 743.9h0M529.4 744.5h0M602.3 745.1h0M567.9 750h0M494.1 745.7h0M657.2 743.4h0M540.5 748.7h0M627.4 748h0M478.1 746.6h0M600.3 742.6h0M643.9 744.5h0M485.1 740.3h0M636.5 745.4h0M555.1 742.4h0M616.5 750.4h0M640.2 748.8h0M687.4 742.1h0M665.1 740.9h0M537.2 750.4h0M530.6 748.3h0M616.7 748.3h0M533.3 742.7h0M479.1 742.4h0M613.7 740.7h0M544.7 752.6h0M539.9 747.6h0M632.3 755.2h0M660.3 744.6h0M672.7 747.6h0M476.7 750.1h0M542.2 750.1h0M570.2 747.2h0M458.3 749.3h0M643 741.5h0M513.5 747.2h0M495.4 747.5h0M464.9 744.8h0M673.7 740.2h0M588.5 741.5h0M582.5 747.8h0M574.8 747.3h0M573.4 744.4h0M555.3 742.6h0M579.9 748.1h0M503.2 747.3h0M679 744h0M676.4 743.9h0M680.1 739.4h0M552.5 751.5h0M475.6 747.4h0M588.3 752.6h0M630.1 746.6h0M499.7 744.6h0M558.5 747.3h0M558.1 746.2h0M521.9 748.7h0M646.9 744.9h0M605.2 743.7h0M690.8 743.2h0M519 745h0M607.4 740.9h0M651 743.3h0M608 752.2h0M616 740.8h0M596.7 739.4h0M479.1 747.9h0M524.2 746.8h0M617.5 739.4h0M493.1 745.4h0M614.6 744.1h0M670.8 748.1h0M542.4 743.8h0M579.6 749.2h0M479 744h0M512.1 747h0M531.7 751.4h0M623.4 743.7h0M484.3 743.9h0M606.4 741.6h0M625.6 746.1h0M562.7 741.6h0M560 745.4h0M626.7 750.3h0M477.2 746.9h0M648.5 746.4h0M485.8 746.6h0M695.6 747h0M627.6 746.1h0M698.1 745.1h0M648 743.8h0M479.8 746.8h0M531.2 743.1h0M553.5 744.9h0M607.7 744.3h0M534.9 743.9h0M646.9 743.5h0M604.4 743.2h0M701.1 741.3h0M695.7 745.8h0M563.9 743.9h0M512.4 749.6h0M571.9 743.3h0M619.6 743.2h0M582.2 746.9h0M457.9 748.8h0M635 747.3h0M617.5 746.9h0M615.2 744.2h0M617.2 745.2h0M605.2 742.3h0M642.5 744.2h0M616.5 740.6h0M663.9 742.4h0M531.7 746h0M524.5 750.4h0M589.8 738.2h0M583.5 756.1h0M690.4 743.6h0M696 742.8h0M612.6 746.5h0M493.5 743.1h0M699.9 745.7h0M511.5 747.4h0M475 743.7h0M597.9 751h0M620.9 736h0M532.3 741.1h0M670 744.4h0M584 744.6h0M621 746.7h0M540.9 748h0M551.4 742.5h0M584.5 750.1h0M556.8 749.8h0M521.1 747.2h0M487.9 738.6h0M680.6 745.4h0M546.5 746.6h0M532.2 751.4h0M688.3 740.6h0M642.7 741.9h0M627.6 746.2h0M684.9 743.4h0M600.4 748.8h0M586.5 742.5h0M474.3 746.6h0M627.5 739h0M516.6 749.7h0M566.7 746.9h0M631.8 745.7h0M481 743.3h0M527.5 748h0M673.3 747.1h0M674 743.9h0M476.5 745.6h0M462.5 744h0M564.8 749.3h0M487.6 750.1h0M633.7 748.1h0M669.4 745.6h0M592.7 750.7h0M513.4 743.3h0M549.5 749.2h0M515 745.4h0M456.7 747.2h0M600.9 748.1h0M588.8 748.4h0M591.4 743.9h0M595.7 744h0M513.8 742.5h0M555.3 752h0M561.3 741.7h0M691.4 742.2h0M698.4 741.5h0M638.2 744.9h0M581.6 744.7h0M512.8 746.9h0M485.8 748.7h0M551.7 745.1h0M666.5 745.6h0M637.3 746.1h0M588.2 747.7h0M574.1 740.2h0M670.9 740h0M635.4 744.5h0M506.9 744.3h0M517.1 749.9h0M474.5 746.4h0M523.2 744.8h0M574.2 751.4h0M584.4 748.3h0M651.3 738.5h0M662.3 746.2h0M476.7 745.3h0M561.4 746.3h0M493.6 748.1h0M600.7 753.7h0M525.2 746.1h0M649.7 742.8h0M499.9 748.4h0M486 742.5h0M515.9 744.1h0M514.6 742.5h0M501.7 747h0M524 749.8h0M564.9 749.2h0M586.7 746.3h0M465.5 752.9h0M644.7 747.4h0M562.9 743.3h0M582.1 750.5h0M591.1 748.8h0M665.4 746.1h0M469.6 748.7h0M562.7 748.2h0M665.3 741.7h0M566 743.2h0M499.3 741.3h0M521.3 742.6h0M463.1 742.8h0M509.9 751.2h0M527 745.9h0M545.6 752.2h0M539.4 750.5h0M560 749.8h0M624.5 745.2h0M676.7 745.7h0M472.5 739.9h0M625.4 745.3h0M654 742.8h0M459.1 747.4h0M598.1 741.4h0M553.1 749.8h0M529.1 744.3h0M626.7 740.3h0M578.8 742.9h0M592.7 746.9h0M474.1 747.1h0M594.3 743.3h0M557.4 744.9h0M508.5 750.2h0M536.8 745.3h0M583.3 742.1h0M614.9 744.6h0M689 741.5h0M463.7 747.3h0M612.5 741.6h0M571.1 747.4h0M537.5 749.8h0M480.8 748h0M480.2 746.3h0M652.5 746h0M574.7 743.4h0M489.5 750.3h0M625.8 740.4h0M597.7 738.8h0M656 746.5h0M584.1 744.6h0M639.5 747.2h0M600.8 747.7h0M657.2 743.2h0M610 741.8h0M673.8 743.4h0M522 745.6h0M468.4 748.7h0M521.8 744.1h0M553.3 750.4h0M515.7 751h0M596.9 750.6h0M623.1 750.1h0M557.5 745.5h0M523.1 747.8h0M539.7 745.5h0M504.3 745.1h0M639.4 742.4h0M518 744.5h0M565.9 742.4h0M628.8 748.1h0M560.8 741.9h0M484.7 743.9h0M525.9 750.3h0M579.5 743.4h0M573.1 741.4h0M581.3 735.3h0M556.2 747.8h0M499.3 749.9h0M583.3 746.4h0M552 747.6h0M579.2 745.1h0M544.4 751.7h0M482.6 745.6h0M574.7 738.5h0M611.8 749.5h0M638.3 744.5h0M611.9 745.9h0M633.2 746.8h0M492 750h0M643.3 750.5h0M591 745.1h0M510.1 744.3h0M513.8 749.7h0M572.6 742.1h0M602.1 743.8h0M480.7 746.6h0M595.5 747h0M605.2 751h0M542.2 745.8h0M507.3 741.7h0M614.8 750.7h0M669.5 745.6h0M628.5 741.3h0M470.7 743.7h0M630.7 744.1h0M585 748.5h0M552 748.9h0M547.9 745.7h0M520.8 752.2h0M588.2 753.8h0M686.9 741.8h0M551.4 744.1h0M551.7 746.4h0M647.4 747.6h0M535.9 744.1h0M611.7 742.5h0M510.8 749.8h0M475.7 743.3h0M662.2 747.1h0M574.1 752.8h0M584.2 750.8h0M608.3 746.5h0M531.6 742.9h0M555.2 747.5h0M635.4 745.4h0M646.4 741.8h0M617 749.8h0M541.1 743.1h0M574.6 746.6h0M475 751.7h0M691.1 747.1h0M602.6 745.3h0M526.6 749.8h0M588.4 741.6h0M623 749.1h0M687.2 742h0M648.8 740.1h0M550.7 737.4h0M679 740.7h0M463.6 748.4h0M577.4 742.8h0M631.4 745.2h0M516.2 742.7h0M645.7 744.1h0M518.3 749.3h0M470.2 743.9h0M631.8 741.8h0M632.7 739.3h0M554.4 748.4h0M472.8 748.3h0M660 748.2h0M484.5 742.9h0M527.7 744.7h0M613.9 749.1h0M491.6 742.1h0M588.3 740.8h0M586.1 750h0M593.9 746.6h0M613.5 748.9h0M481.5 751.7h0M670 744.4h0M604 748.7h0M460.4 749.3h0M571.8 742.9h0M514.9 745.2h0M566.2 741h0M590 743.6h0M524.3 744h0M492.8 747h0M675.2 746.1h0M582.8 744.1h0M628.8 745.3h0M606.4 744.1h0M544.1 749.4h0M539.6 749.9h0M631.9 750.3h0M505.4 749.3h0M637.6 746.8h0M492.4 745.2h0M650.5 751.9h0M514.5 749.8h0M583.1 750.5h0M562 747.1h0M607.4 742.1h0M558.6 745.1h0M526.4 748.6h0M629.3 734.8h0M660.2 743.5h0M504.3 745.7h0M642.5 741.9h0M597.7 748.4h0M615 742.6h0M544.3 745.6h0M581.9 749h0M540.2 751.4h0M550.8 745.1h0M646.7 744.4h0M539.7 748h0M605.2 753.5h0M627.6 750.8h0M548.5 753.3h0M588.5 746.3h0M611.7 750.4h0M595 746.1h0M549.1 748.9h0M462.4 747.6h0M642.5 740.9h0M627.7 745.5h0M651.8 736h0M659 741.8h0M608.3 741.1h0M505.3 750.7h0M462.4 748.5h0M589.8 744.3h0M602.5 740.9h0M486.2 748.6h0M565.4 741.1h0M691.7 740.7h0M567 750.3h0M513.3 745.3h0M454.1 747.5h0M499.8 746.8h0M486 749.4h0M580.9 742.8h0M508.3 747.1h0M623.9 747.2h0M550.7 751.7h0M512.1 742.7h0M656.7 744.3h0M506.6 743h0M556.2 750h0M621.3 744h0M615.5 746.5h0M526.2 743.6h0M510.1 746.3h0M611.1 743.7h0M647.8 749.6h0M452.6 743.8h0M464.5 745.5h0M568 745.7h0M551.7 741.4h0M654.3 748.5h0M605.7 739.4h0M669.1 741.8h0M547.4 743.8h0M495.1 752.1h0M530.1 747.1h0M682.9 742.2h0M567.1 744.4h0M557.9 748.5h0M476 746.9h0M563.8 751.7h0M620.3 740.5h0M520.3 749.7h0M680.5 742.3h0M504.6 742.9h0M515.7 746.9h0M535.2 744.4h0M477.1 749.1h0M504.4 745.7h0M646.6 740.1h0M564.5 748.4h0M664.8 744.4h0M681.9 746.8h0M570.1 748.2h0M675.3 743.1h0M471.4 744.6h0M639.2 749.5h0M515.2 746.6h0M529.3 749.7h0M505.4 750h0M601.3 740.9h0M559.7 749.9h0M502.3 744.9h0M534.2 742.2h0M610.7 741.4h0M453.2 745.7h0M573.8 745.3h0M598.8 748.5h0M489.9 749.6h0M575.9 751.6h0M637.5 740.3h0M617.6 747.2h0M598.8 751.1h0M567.1 737.5h0M631 748.2h0M612.7 744.1h0M567.8 744.2h0M693.7 742.1h0M480.4 749h0M610.1 743.7h0M570.7 747.2h0M579.2 742.8h0M495.5 744.2h0M588.1 743.1h0M551.5 745.4h0M577.9 743.6h0M634.8 748.2h0M690.4 740.8h0M521 745.6h0M607.3 749.7h0M620.2 741.8h0M639.3 743.2h0M678.7 746.6h0M554.1 747.1h0M580.9 748.5h0M524.1 749.1h0M639.3 742.1h0M524.6 751.2h0M471.1 746.7h0M657.4 747.2h0M616.3 746.9h0M530.5 741.5h0M567.1 750.9h0M586.3 746.4h0M589.1 745.2h0M576.8 745.6h0M509.6 749.9h0M510.3 742.4h0M628.3 749.3h0M632 741.5h0M535.6 755.2h0M579.3 743.3h0M609.5 745.5h0M545.2 747.3h0M639 745.9h0M470.4 745.8h0M462.1 744.9h0M596.5 741.9h0M689.2 745.4h0M505.6 745.5h0M625.9 742.3h0M583.3 747.6h0M522.4 747.1h0M472.8 747.7h0M677.7 746.2h0M545.7 747.4h0M646.3 740.2h0M552.1 746.4h0M646.3 741.2h0M523.1 745.3h0M685.2 747.1h0M615.3 744h0M683.6 746.9h0M559.2 750h0M496.8 747.1h0M584.6 748.2h0M619.7 750.4h0M572.7 741.4h0M466.8 748.9h0M562.2 740.7h0M597.3 747.9h0M518.8 750.5h0M575.3 747.8h0M669.8 746.7h0M560.7 747.2h0M479.8 744.9h0M664.5 742h0M606.2 747h0M630.1 748.7h0M656.6 750.1h0M462.5 746.3h0M546.5 746.5h0M572.7 745.4h0M642 742.3h0M498.8 749.2h0M470.8 746.9h0M614.4 745.5h0M666.1 745.4h0M551.6 742.3h0M551.5 749.8h0M618.3 743.8h0M468.3 750h0M493.9 746.6h0M573.1 749.3h0M475 744.1h0M542.8 741.5h0M572.8 744.6h0M635.6 742.4h0M487.7 750.9h0M540.1 745.8h0M646 747.1h0M674.3 746.8h0M680.5 746h0M486.1 747.4h0M664.4 742.4h0M551.7 748.7h0M583 749.7h0M601.6 749.7h0M674.9 744.5h0M693.2 739.7h0M464.9 746.2h0M512.5 742h0M571.2 743.2h0M591.1 744h0M509.9 744.1h0M644 742h0M634.1 747.9h0M506.3 742.9h0M681.7 744.3h0M609.4 742.3h0M562.5 749.1h0M554 744.4h0M553.2 747.8h0M638.4 744.2h0M544.2 743.5h0M662 746h0M616.8 752.2h0M470.9 750.2h0M637.4 743.4h0M540.6 757.2h0M607.3 744.9h0M508.5 745.1h0M699.1 742.6h0M666 747.4h0M581.9 745.2h0M573.2 746h0M477.6 744.2h0M641.9 742h0M693.2 746.2h0M646 744.7h0M577.2 745.7h0M549.1 746h0M699.4 746.5h0M542.7 748.2h0M515.5 743.8h0M651.2 748.5h0M562.7 737.1h0M579.5 739.8h0M580.7 752.1h0M613 748.4h0M640.7 739.9h0M606.6 748.4h0M539.2 749.6h0M656.3 749.3h0M546.1 752.6h0M578.6 740h0M585.3 748.2h0M485.1 749.2h0M556.6 752.3h0M645.8 743.8h0M606.2 745.2h0M671.8 746.7h0M658.1 748.5h0M487.2 748.1h0M632.2 745.4h0M493.5 742.9h0M563.4 751.6h0M619.8 746.4h0M640.5 739.8h0M582.5 742.4h0M555.6 751.8h0M533.3 744.7h0M537.3 748.4h0M581.8 737.7h0M603 747.1h0M596.1 743.3h0M606.1 747.4h0M573.9 742.8h0M481.6 750h0M595.1 742.6h0M557 748.4h0M556.1 742.2h0M527 742.6h0M592.3 743.3h0M493.2 740.1h0M682.4 743.5h0M521.7 745.2h0M694.3 744.8h0M521 753.5h0M627.6 750h0M508.8 747.7h0M456.6 747h0M550.7 751.6h0M652.1 749.1h0M497.6 748.1h0"/>
<path stroke="#5b5d59" d="M223.9 625.2h0M239.3 665.2h0M348.3 709h0M359.6 705.8h0M368.3 708.3h0M353.5 714.5h0M359.3 712.1h0M349 717.2h0M363.4 717.2h0M351 722.8h0M359.3 720.7h0M364.1 723.4h0M371.7 720.7h0M375.2 720.7h0M366.2 743.4h0M367.6 744.1h0M393.8 718.6h0M396.8 713.1h0M403.4 711h0M406.5 703.2h0M363.5 720h0M362 713h0M425.4 685.5h0M430.2 693.9h0M437.1 695.9h0M462.7 690h0M484.8 696.7h0M495.1 690h0M664.1 693.9h0M818.8 607.8h0M855.2 597.6h0M757.1 667.1h0M788.5 674h0M712.8 689.3h0M720.3 689.3h0M727 685.3h0"/>
<path stroke="#4a9e15" d="M355.9 604.1h0M374.9 603.2h0M420.8 652h0M447.5 552.6h0M459.9 564.9h0M508.6 577.6h0M452.8 587.8h0M457 590.8h0M500.9 589.8h0M473.3 595.7h0M469.4 607.1h0M478.3 613.6h0M458.9 614.6h0M439.9 617.6h0M447.5 619.6h0M456.2 621.3h0M482.8 621.3h0M574.3 618.5h0M596.4 615.8h0M539.1 625.2h0M539.1 638.6h0M557.2 645.3h0M509.3 641.3h0M500.9 648.3h0M518 647.3h0M518 660.4h0M667.8 637.6h0M668 637.3h0"/>
<path stroke="#2163cd" d="M244.1 477.2h0M220.1 479.9h0M181.8 483.8h0M187.7 487.6h0M192.7 491.7h0M208.8 486.7h0M164.9 494.2h0M166 500h0M154.5 506.8h0M233.7 491.5h0M215.6 498.3h0M231.7 498.3h0M241.4 499.2h0M224.8 501.9h0M251.3 496.2h0M255.6 497.1h0M269.1 501h0M254.5 505.9h0M272.8 507.7h0M264.3 512.3h0M295.7 516.4h0M204.7 506.8h0M202.4 508.4h0M228.7 508.4h0M232.5 511.4h0M237.6 507.7h0M197 513.9h0M194.3 515.2h0M229.9 516.6h0M226.9 517.9h0M225.1 519.3h0M220.1 522h0M241.4 521.1h0M203.8 520.2h0M200.2 522.9h0M180.3 522h0M185.9 528.8h0M224.2 527.4h0M229.9 529h0M235.5 525.9h0M201.1 531.5h0M197.9 532.7h0M227.3 533.8h0M230 535.4h0M189.6 536.5h0M178 539.2h0M202.4 537.4h0M206.1 538.3h0M200.2 540.1h0M213.3 537.4h0M208.8 541.5h0M213.3 544.6h0M219.6 539.7h0M234.6 540.1h0M231.6 543h0M247.7 538.1h0M251.8 543h0M255.4 544.2h0M256.7 546.3h0M265.2 535.1h0M268.1 541.3h0M277.6 532.4h0M275.7 535.1h0M277.6 541.3h0M203.8 544.6h0M204.7 547.4h0M205.2 550.5h0M199.7 550.1h0M197 551.4h0M194.3 553.2h0M181.8 546.9h0M185.9 552.6h0M220.1 548.7h0M202 557.3h0M216 553.2h0M220.1 554.6h0M223.7 557.8h0M228.7 556.4h0M236.4 554.6h0M239.5 555.5h0M212.4 559.4h0M223.7 560.9h0M229.9 563.2h0M235 559.6h0M237.7 560.9h0M248.9 558.2h0M255.6 559.4h0M268.1 562.3h0M265.8 565h0M189.6 565h0M212.4 567.1h0M222.4 565h0M224 568h0M239.4 568h0M252.7 565.9h0M233.7 569.5h0M233.7 572.5h0M192.7 572.5h0M218.3 573.6h0M215.4 575.6h0M263.3 573.4h0M263.3 579.5h0M244.1 578.6h0M240 582.5h0M227.8 583.1h0M255.4 587.8h0M260.4 591.7h0M206 541h0M210 540h0M199 536h0M208 546h0M202 548h0M224 512h0M222 553h0"/>
</g>
<g clip-path="url(#c3)" fill="none" stroke-linecap="round" stroke-width="5.6">
<path stroke="#fec90f" d="M1176 761.1h0M1177.9 754.7h0M1190.1 757.2h0M1192.6 764.3h0M1196.5 759.8h0M1203.5 761.1h0M1208.7 754h0M1211.9 750.2h0M1281.6 716.2h0M1313.4 716.2h0M1321.1 707.9h0M1355.5 717.9h0M1303.2 726.7h0M1319 731h0M1263.7 731h0M1282.3 731h0M1243 734.8h0M1256 735.5h0M1398.8 722.9h0M1410.3 727.5h0M1390.5 730.3h0M1395 731h0M1400.1 730.6h0M1372.5 731.6h0M1377 731h0M1363.6 731.6h0M1366.1 734.8h0M1377.7 735.5h0M1379.6 738.4h0M1385.3 738.7h0M1389.2 735.5h0M1392.4 741h0M1400.7 738h0M1376.4 743.1h0M1371.3 748.9h0M1365.5 751.2h0M1386.6 748.3h0M1389.2 749.5h0M1402 748.9h0M1405.8 747h0M1412.9 752.7h0M1340.5 756h0M1354.6 752.7h0M1358.5 746.3h0M1357.8 737.4h0M1398.9 722.6h0M1410.2 727.3h0M1390 730.2h0M1395.1 731h0M1400.1 730.2h0M1389.2 735.2h0M1385 738.6h0M1380 738.6h0M1392.2 740.6h0M1400.6 737.7h0M1386.7 746.9h0M1389.2 749.5h0M1402.6 749h0M1406.3 747.3h0M1413 752.8h0M1360 740h0M1362 744h0M1356 749h0M1255.6 746.5h0M1340.2 747.7h0M1293.9 746.2h0M1347.1 747.2h0M1310.8 742.9h0M1212.3 759.3h0M1334.5 751h0M1294 748.7h0M1274.1 738.6h0M1263.3 740.8h0M1264.8 744.5h0M1330.1 742.3h0M1261.5 738.7h0M1276.6 737.9h0M1271.4 743.3h0M1323.2 746h0M1287.4 748.7h0M1259.1 753.2h0M1301.9 737.9h0M1295 752.4h0M1324.5 744.1h0M1269 741.2h0M1315.4 736h0M1268.9 745.5h0M1327.7 738.2h0M1277.1 751h0M1320.4 749.2h0M1324 737h0M1341.9 742.7h0M1244 744.1h0M1250 743.9h0M1334.9 739h0M1240.5 757h0M1295.1 747.1h0M1317.7 746.1h0M1237.6 749.2h0M1248.3 749.9h0M1281 751.3h0M1249.6 749.4h0M1282.1 738h0M1289.9 742.6h0M1238 751.3h0M1281.9 739.6h0M1242.8 747.8h0M1250 753.6h0M1237.1 747.1h0M1310.7 749.6h0M1352.8 744.4h0M1217 759.4h0M1225.1 756.6h0M1283.5 740.4h0M1221.8 760.1h0M1315.6 749h0M1348.4 747.1h0M1276.4 751.9h0M1281.7 738.3h0M1266.2 752.7h0M1336.9 750.5h0M1317.6 748.6h0M1319.8 748h0M1240.1 753.6h0M1338.7 747.6h0M1255.7 743.2h0M1342.5 738.1h0M1321 752.4h0M1217.7 760.1h0M1239.5 754.9h0M1260.6 754.4h0M1273.6 754.7h0M1315.9 746.3h0M1312.4 746.4h0M1269 753.1h0M1341.4 748.2h0M1227.8 756.3h0M1260.1 749.8h0M1311.6 752.4h0M1269.1 749.2h0M1220.8 761h0M1246.1 756.6h0M1289.5 749.3h0M1299.2 738h0M1279.6 750.6h0M1291.8 749.1h0M1307 736.5h0M1323 749.1h0M1320.7 745.7h0M1333.3 743.7h0M1349.5 736.1h0M1311.8 737.3h0M1223.1 759.2h0M1245.3 760.8h0M1273.6 750.4h0M1291.6 742.3h0M1351.3 738.3h0M1281.1 740.7h0M1313.9 753h0M1301.6 755.7h0M1265.9 752.8h0M1262.4 751.9h0M1313.1 744.9h0M1231.9 757.7h0M1248.7 751.7h0M1320.6 752.1h0M1227.5 750.4h0M1323.1 749.8h0M1215.7 759.3h0M1284.5 754.5h0M1315.8 745.7h0M1238.4 745.5h0M1267.7 747.6h0M1260.9 752.9h0M1268.1 740h0M1334.3 745.1h0M1288.3 754.4h0M1336.6 741.7h0M1306 749.1h0M1314.5 742.8h0M1322.3 741h0M1351.4 747h0M1277.3 741.2h0M1262 757.4h0M1344.3 746.1h0M1256.1 763.6h0M1292.5 750.7h0M1259.2 757.2h0M1324.3 744.4h0M1268.1 748.9h0M1297.1 752.3h0M1310.1 740.1h0M1225.8 758h0M1272.7 744.5h0M1299.4 750.6h0M1218.6 760h0M1337.9 747.7h0M1286.4 750.4h0M1355.5 745.5h0M1294 743.6h0M1339.8 745.3h0M1323.9 746.6h0M1271.6 742.6h0M1281.2 738h0M1278.6 745.1h0M1330 742.2h0M1354.8 739.9h0M1250 746.6h0M1299.9 747.7h0M1226.6 765.1h0M1286.6 746.3h0M1262.9 739.6h0M1276.3 745h0M1339.3 745.2h0M1270.9 736.2h0M1268.5 745.6h0M1329.9 737.9h0M1308.8 754.6h0M1304.6 754.3h0M1269.5 756.2h0M1228.7 752.1h0M1249.8 743.7h0M1219.8 757.6h0M1233 751.6h0M1243.1 749.8h0M1315.5 741.6h0M1251.3 748h0M1335.1 736h0M1298.5 746h0M1320.7 739.9h0M1347.7 737.6h0M1225.9 751.1h0M1331.3 749.5h0M1293.1 740.5h0M1268.7 735.2h0M1313.8 741.9h0M1236.4 753.5h0M1276.8 757.3h0M1254.1 756.6h0M1249.3 742.4h0M1269.6 755.4h0M1299.3 751.9h0M1334.1 745.6h0M1248.1 754.9h0M1323.1 751.5h0M1341.8 737.8h0M1300.9 744.5h0M1257.4 750.9h0M1256 753.3h0M1309.3 734h0M1234.4 757.8h0M1246.9 745.9h0M1255.9 748.7h0M1307.4 745.9h0M1313.2 740.9h0M1249 745.5h0M1319.6 749h0M1343.2 746.2h0M1350.5 740.5h0M1292.2 751.1h0M1275.4 747.4h0M1260.3 755.5h0M1226 751.4h0M1262.8 752h0M1269.3 746.3h0M1308.7 752.7h0M1353.3 739.8h0M1218.9 758.2h0M1325.9 749h0M1285.4 745.7h0M1317.9 743.7h0M1298.5 752.1h0M1308.5 741.7h0M1333.6 746.6h0M1324.4 749.9h0M1264.5 744.2h0M1218.6 758.5h0M1274.6 752.5h0M1291.5 753.3h0M1259 751.1h0M1258.2 750.6h0M1299.8 741.1h0M1330.8 742.5h0M1286.3 738.4h0M1238 753.3h0M1224.1 749.7h0M1230.3 756.2h0M1322.9 748.9h0M1304 744.6h0M1332.4 741.5h0M1235.8 752.2h0M1257.4 753.5h0M1291.4 746.2h0M1322.1 743.9h0M1295.2 740.7h0M1226.2 757.6h0M1224.1 751.7h0M1327 743.1h0M1216.9 752.3h0M1255.8 742.9h0M1299.9 744.9h0M1229.4 751.1h0M1293.4 743.7h0M1246.1 747.3h0M1311.4 746.4h0M1256.5 748.4h0M1236.8 761.1h0M1282 737.3h0M1286.2 755.6h0M1320.1 744.2h0M1272.7 747.6h0M1243.2 748.5h0M1257 750.4h0M1314.8 752.2h0M1277.9 741.6h0M1325.2 731.5h0M1255.5 745.4h0M1302 749.9h0M1283.6 743.4h0M1292.1 747.8h0M1255.7 749.7h0M1334 751.5h0M1315.6 735.1h0M1279.8 746h0M1277 750.9h0M1331.1 742.5h0M1324.3 748.8h0M1305.9 740h0M1245.7 750.9h0M1328 742.7h0M1308.7 740.4h0M1326.6 749.6h0M1327 744.5h0M1285.4 737.3h0M1332.6 749.9h0M1321.2 745.2h0M1280.6 740.5h0M1294.8 740.4h0M1327.3 740.2h0M1278.4 751.4h0M1297.5 739.3h0M1319.6 747.5h0M1238 754.2h0M1216.3 754.3h0M1276.9 755.4h0M1232.3 755.4h0M1222.9 761.7h0M1325.4 742.7h0M1246 754.5h0M1221.2 751.3h0M1252.8 741.8h0M1247.2 753h0M1335 746.3h0M1300 747.5h0M1295.3 754.1h0M1298.4 764.8h0M1355.5 739.9h0M1250.3 739.8h0M1249.9 757.9h0M1265.1 749h0M1238.3 745.7h0M1252.4 753.5h0M1288.4 751.9h0M1226.5 755.1h0M1225.6 752h0M1326.1 749.7h0M1222.2 759.1h0M1311.7 742.5h0M1314.3 742.9h0M1276.8 750.8h0M1351 747.8h0M1308.1 738.2h0M1328.8 736.4h0M1242.1 746.7h0M1229.5 751.4h0M1278.9 750.1h0M1285.7 743.9h0M1327.5 749.7h0M1266.3 747.4h0M1342.3 748.2h0M1270.3 753.5h0M1306.4 739.8h0M1243.1 753.2h0M1293.3 739.8h0M1320.4 741.6h0M1349.5 737.9h0M1306.3 739.1h0M1248.7 749.4h0M1339.7 742.5h0M1319.4 736h0M1235.4 757.4h0M1233.3 757.5h0M1322.2 747.6h0M1266.5 736.8h0M1267.9 745.3h0M1275.4 758.6h0M1264.4 757.8h0M1322.9 750.2h0M1302.2 743.2h0M1349.2 735.6h0M1317.1 737.2h0M1334 746.7h0M1346.4 740.5h0M1321.4 750.3h0M1313.8 747.2h0M1264.5 755.7h0M1245.2 755.8h0M1316 752.5h0M1317.6 738.4h0M1217.3 756.8h0M1249.5 748.2h0M1278.8 750h0M1285.4 751.2h0M1334.3 749.7h0M1231 753.2h0M1300.9 738.4h0M1221.6 753.7h0M1345.4 741.1h0M1347.1 740.7h0M1228.1 760.8h0M1339.7 741.1h0M1289.2 752.3h0M1292.2 742.2h0M1301.4 750.4h0M1305.7 745.3h0M1355.1 742.3h0M1308.3 744.1h0M1338.2 746.8h0M1299 749.5h0M1275.7 746.3h0M1345.9 749.2h0M1312.7 757.1h0M1283.3 742.3h0M1237.4 745.1h0M1309.5 741.2h0M1268.8 749.1h0M1221.8 751.9h0M1321.4 743.1h0M1338.2 738.6h0M1250.3 755h0M1285.5 748.4h0M1324.4 752.1h0M1253.3 758.4h0M1325.6 745.4h0M1242.4 755.2h0M1330.8 738.8h0M1257.2 745.5h0M1328.4 746.2h0M1311 745.4h0M1303.1 736.5h0M1238.4 747.8h0M1326.8 744.7h0M1345.9 746.3h0M1270.2 760.8h0M1248.6 757.7h0M1332.8 744.7h0M1336.4 746.2h0M1338.6 741.8h0M1250.8 738.8h0M1318.9 738.9h0M1251.5 756h0M1290.2 752.7h0M1341.1 747.8h0M1237.2 756.8h0M1244.7 749.5h0M1323.3 743.1h0M1343.9 741.2h0M1273.7 756.3h0M1233.1 758.4h0M1237.5 751.4h0M1230.8 751.4h0M1280.3 740.9h0M1297.8 739.5h0M1297.7 738.9h0M1301.3 753.4h0M1219.1 759.9h0M1272.8 748.1h0M1305.2 729.1h0M1223.7 753.8h0M1318.5 749.4h0M1295.4 742.8h0M1258.1 744.7h0M1324.4 746.6h0M1226.1 755.3h0M1249.7 743.2h0M1286.6 740.5h0M1213.4 754.1h0M1289.7 750.7h0M1223.8 754.6h0M1256.4 741.9h0M1239 751.1h0M1297.4 739.1h0M1253.4 751.8h0M1238.8 744.6h0M1330.4 742.7h0M1278.2 751.1h0M1283.2 744.8h0M1239.8 755.2h0M1232.6 753.2h0M1350.4 747.2h0M1320.4 745.2h0M1336.8 736.3h0M1314.7 752.5h0M1271.9 749.7h0M1254.9 748.6h0M1215.3 755.3h0M1291.8 740.1h0M1222.6 757.4h0M1340.4 744.7h0M1299.5 751.4h0M1309.7 749.2h0M1264.1 747.8h0M1245.7 746.8h0M1292.9 752.3h0M1227.4 757.3h0M1339.3 743.9h0M1289.5 742.9h0M1225.3 750.4h0M1330.3 744.6h0M1340.3 746.9h0M1226.8 755.5h0M1340.9 742.9h0M1326.3 745.2h0M1336.4 743h0M1292.3 752h0M1294 749.2h0M1327.3 743.4h0M1225.6 750.1h0M1263.4 748h0M1352.4 744.2h0M1247.1 754.2h0M1288.8 753.3h0M1297 746h0M1348 742.3h0M1317.3 743.6h0M1297.3 741.9h0M1232 749.4h0M1227.9 754.2h0M1323.1 744.6h0M1339.9 744.3h0M1287.1 739h0M1278.6 740.4h0M1240.5 753.2h0M1282.4 748.5h0M1242.1 753.6h0M1309.6 746.6h0M1270.2 751h0M1252.3 749.4h0M1284.5 741.6h0M1227.5 750.9h0M1312.1 744.4h0M1266.2 752.7h0M1351.9 745.1h0M1292.4 743.8h0M1306 750.3h0M1297.8 749.7h0M1326.4 744.4h0M1298.5 745.1h0M1348.7 737.4h0M1251.1 744.2h0M1332 747.8h0M1229.3 760.1h0M1325.5 752.3h0M1232.2 753h0M1332.8 741.3h0M1320.5 751.7h0M1293.8 739.6h0M1302.6 750.4h0M1349.3 737.7h0M1265.4 745.5h0M1333.9 747.4h0M1314.9 749.1h0M1334.6 747.3h0M1277 746.4h0M1274.3 747.2h0M1338.6 747.2h0M1325.8 744.1h0M1338.6 742.7h0M1291 750.8h0M1325.6 752.5h0M1330.7 742h0M1293.1 740.3h0M1338.4 739.7h0M1246.1 758.2h0M1276.5 746.2h0M1326.7 761.5h0M1295.4 742.4h0M1271.7 739.6h0M1277.5 754.3h0M1331.2 738.5h0M1258.3 752.4h0M1225.2 757.5h0M1259.6 749.8h0M1309.3 741.4h0M1341.1 739.6h0M1257.1 755.8h0M1236.7 753.1h0M1294.2 744.2h0M1282.6 742.4h0M1286.3 758.2h0M1352.5 743.7h0M1297.6 754.1h0M1303.7 745.4h0M1255.4 754.3h0M1284.2 743.7h0M1281.7 751.1h0M1251.9 749.6h0M1233.5 754h0M1276.6 743.4h0M1265.4 754.6h0M1276.6 737.7h0M1311.2 751.5h0M1309.2 741.5h0M1287.5 748.5h0M1278.3 748.2h0M1273.9 750.5h0M1293.5 744.5h0M1305.4 752.1h0M1299.9 752.3h0M1249.5 742.3h0M1319.4 745.8h0M1280.9 741.6h0M1272.7 751.8h0M1343.5 738.5h0M1233.6 758.3h0M1281.6 744.3h0M1330.3 739.6h0M1254.9 750.6h0M1283.5 755.2h0M1259.4 754.3h0M1350 739.3h0M1215.4 755.2h0M1313.9 738.8h0M1306.4 748.5h0M1322.8 749.8h0M1277.6 749.2h0M1271.1 752.2h0M1259.1 747.6h0M1316.9 749.9h0M1349.9 740.4h0M1264.2 756.6h0M1323.7 749.4h0M1331.8 739.2h0M1337.4 750h0M1279.4 741h0M1225.7 757.8h0M1347.3 741.4h0M1292.2 757.1h0M1291.3 755.1h0M1293.1 740h0M1262.4 739.4h0M1300.9 754.7h0M1230.8 751.5h0M1227.5 757.2h0M1313.6 745.2h0M1341.4 740.4h0M1270.3 756.9h0M1218.1 761.3h0M1245.1 748.9h0M1331 742h0M1285.6 754h0M1341.9 749.4h0M1252.7 748.2h0M1233.7 749.7h0M1317.4 742.6h0M1285.5 743.5h0M1322.7 749.3h0M1262 745.8h0M1270.1 742.6h0M1259.2 753.5h0M1275 748.4h0M1315.2 741.2h0M1272.2 741.6h0M1311.3 746h0M1288.2 744.5h0M1238.9 750.7h0M1293.4 742h0M1238.1 757.1h0M1345.6 744.9h0M1348 751h0M1225.5 749.2h0M1323.1 742.7h0M1238 750.4h0M1327 745h0M1246.5 746.9h0M1254.7 756.7h0M1301.3 744.8h0M1319.8 749.6h0M1254.4 763.4h0M1310.7 748.5h0M1290.8 738.1h0M1225.7 749.7h0M1310.5 752.5h0M1311.2 737.4h0M1319.1 748.5h0M1298.8 748.5h0M1288.9 741.4h0M1280.2 738.9h0M1286.2 745.7h0M1296 748.4h0M1311.6 740h0M1285.7 750.2h0M1274.9 757.9h0M1286.7 753.7h0M1237.4 758.6h0M1306.7 739.9h0M1308 746.7h0M1280.9 750.4h0M1281.1 738.9h0M1244.2 757.6h0M1334.6 747.1h0M1287.9 739.8h0M1250 759.6h0M1220.3 761.1h0M1298.1 750.6h0M1248.8 751.3h0M1315.4 742.2h0M1237.1 752.8h0M1276.8 753.1h0M1327.7 747.2h0M1256.7 743.7h0M1325.3 742.5h0M1354.1 740.9h0M1304.8 740.7h0M1335.1 748.9h0M1236.2 757.3h0M1330.9 750.6h0M1259.1 752.2h0M1318.8 748.1h0M1330.7 739.4h0M1242.1 757.4h0M1351.5 736.7h0M1282.8 748.3h0M1251.5 749.1h0M1284.6 740.7h0M1293.2 743.3h0M1312.5 749.5h0M1281.2 741.7h0M1276.2 760.8h0M1342.8 741h0M1299.7 747.1h0M1271.5 747.6h0M1315.6 738.7h0M1332.9 750.5h0M1311.4 736h0M1318.9 751h0M1242.3 753.6h0M1321 743.9h0M1274.4 745.4h0M1310.7 747.7h0M1301.7 752.6h0M1307.6 752.8h0M1295.7 743.3h0M1237.7 749.3h0M1240.6 754.6h0M1287.4 744.2h0M1258.9 747.5h0M1340.9 744.4h0M1343.7 740.9h0M1309.9 748.5h0M1272.2 757h0M1274.1 740.1h0M1320.2 752.8h0M1218 758h0M1238.4 748.5h0M1265.9 747.1h0M1303.3 749.8h0M1315.6 738h0M1272.2 756.2h0M1269.4 758.4h0M1323.5 741.1h0M1349 747.3h0M1294.6 755.6h0M1343.2 749h0M1312.6 747.3h0M1246.8 753.2h0M1281.3 750.8h0M1268.1 741.4h0M1340.5 750.6h0M1318.8 745.1h0M1302.6 738.3h0M1226.5 756.2h0M1328.8 749h0M1279.8 745.5h0M1286.9 754.3h0M1269.1 744.8h0M1267 741.1h0M1343.5 742.1h0M1271.6 752.4h0M1321.3 735.5h0M1314.5 735.5h0M1261.2 757h0M1314.6 749.4h0M1245.1 751.4h0M1286.6 740.4h0M1287.9 754.2h0M1298.4 746.5h0M1306.9 748h0M1232.7 756.8h0M1299 753.5h0M1326.9 745.8h0M1307.2 748.8h0M1334.3 743h0M1341 742.6h0M1265.8 746.6h0M1244.5 747.6h0M1328.9 739.3h0M1353.4 744.4h0M1238.4 751.9h0M1336.6 746.7h0M1269 745.1h0M1307.3 748.3h0M1266 744.7h0M1241.8 757.5h0M1315.9 745.2h0M1275 745.6h0M1353.8 745.9h0M1231.1 753.6h0M1319.4 742.7h0M1328.5 743.5h0M1308.6 739h0M1239.9 746.9h0M1277.4 740.3h0M1250.8 747.2h0M1279.6 753.1h0M1317.4 746.1h0M1309 747.2h0M1331.8 747.2h0M1287.4 747.3h0M1236.8 749.6h0M1354.5 744.7h0M1268.6 738.7h0M1268.1 749.8h0M1243.5 757h0M1335.9 748.2h0M1296.7 743h0M1277.6 740.9h0M1246.8 756.4h0M1286.5 753.1h0M1268.4 739h0M1343.3 745.3h0M1344.9 743.5h0M1273.4 742.2h0M1332 737.9h0M1303.5 740.2h0M1292.1 753.4h0M1229.1 754.4h0M1288.3 748h0M1287.9 756.1h0M1302.4 752.1h0M1314.1 746.1h0M1348.1 735.2h0M1332.3 744.1h0M1228.6 751.2h0M1333.5 737.5h0M1260 750.4h0M1319.3 735.7h0M1261.7 745.1h0M1260.5 741.2h0M1338 738.3h0M1225.5 759.7h0M1313.3 744h0M1247.6 751.1h0M1220.4 760.1h0M1226.1 752.2h0M1258.1 757.2h0M1342.8 734.9h0M1276.4 741.1h0M1278.7 737.8h0M1316.3 751h0M1304.5 736.5h0M1238.4 748h0M1281.3 744.1h0M1295.9 737.8h0M1316.3 751.4h0M1317.4 748.9h0M1263 744.5h0M1278.1 741.5h0M1295.2 745.1h0M1269.3 743.5h0M1227.7 755.7h0M1277.9 747.2h0M1239.6 757.9h0M1298.8 747.3h0M1228.1 758.8h0M1240.6 744.6h0M1312.3 742.2h0M1347.9 737.7h0M1284.6 752.2h0M1312.2 743.3h0M1284.7 735.5h0M1240.6 753.9h0M1299.1 754.9h0M1299.1 745.3h0M1306.5 747.1h0M1339.6 747.8h0M1303.2 748.1h0M1274.5 754.4h0M1292.5 752.9h0M1285.6 736h0M1226.9 758h0M1329.8 744.8h0M1252.9 752.9h0M1326.2 741.7h0M1277.4 751.7h0M1264 753.8h0M1264.9 745.1h0M1287.6 740.3h0M1298.1 752h0M1328.1 753.4h0M1325.7 750.5h0M1347 747.7h0M1251.3 757.6h0M1237 752.1h0M1274.6 752.6h0M1308.6 746.4h0M1267.5 756h0M1213.4 756.5h0M1223.2 756.8h0M1300.7 742.6h0M1326.6 752.2h0M1237.5 757.5h0M1304.3 737.2h0M1274.8 751.8h0M1323.3 740.3h0M1221.7 751.1h0M1311.8 753h0M1321.1 750.3h0M1321.3 751.8h0M1274.5 741h0M1219.8 759.8h0M1233.4 751.8h0M1293.8 748h0M1302.7 754.1h0M1323.1 746h0M1297.2 752.6h0M1323.7 744.8h0M1293.7 740.4h0M1256.2 744.2h0M1221.1 759h0M1281.6 753.4h0M1288.9 739.1h0M1266.2 748.9h0M1246.3 753.5h0M1309.3 752.1h0M1306.1 749.6h0M1328.8 736.9h0M1352.2 742.4h0M1331.3 748.9h0M1302.2 753.5h0M1328.2 740.3h0M1256.8 756.5h0M1317.6 742.6h0M1270.6 736.6h0M1340.9 747.3h0M1338.2 747.2h0M1335.5 751.1h0M1268.5 749.5h0M1313.6 739.3h0M1349.6 740.7h0M1320.3 738.2h0M1258.9 752h0M1265.8 754.3h0M1246.3 745.3h0M1316.1 750.6h0M1352 737.3h0M1306.7 738h0M1288.9 737.8h0M1353.1 744.7h0M1350.4 744.4h0M1267.3 743.1h0M1313 742.9h0M1301.4 746.6h0M1268.8 746.2h0M1303.8 746.5h0M1273.1 748.4h0M1297.3 751.8h0M1253.4 751.3h0M1283.4 751.4h0M1333.6 735.5h0M1261.4 748.7h0M1335.9 733.6h0M1333.9 748.1h0M1238.9 752.2h0M1236.2 759.8h0M1231.1 759.9h0M1291.6 738.8h0M1345.3 748.4h0M1308.7 743.1h0M1337.3 748.3h0M1223.1 752.6h0M1317 749.5h0M1250.8 750.7h0M1280.5 746.8h0M1223.7 752.4h0M1303.5 748.7h0M1282.3 742.3h0M1339.4 742.8h0M1297.7 745.8h0M1249 754.3h0M1341.9 743.2h0M1323.4 740h0M1279.2 742.5h0M1248.4 745.3h0M1325.7 742.8h0M1300 752.5h0M1290.4 745.8h0M1245.6 750.4h0M1230.6 752.5h0M1303.4 752.4h0M1259.3 749.7h0M1311.8 747.6h0M1266.2 749.4h0M1280.6 731.1h0M1285.8 738.6h0M1281.4 751.9h0M1226.6 753.4h0M1278.2 757.1h0M1268.4 749.4h0M1242.8 751.1h0M1236.4 754.4h0M1223.9 751.8h0M1257.7 749h0M1239.1 749.7h0M1339.6 739h0M1223.3 751.6h0M1348 750h0M1258.7 746.8h0M1309.4 750.7h0M1328.8 744.4h0M1332 744.3h0M1231.3 754.3h0M1352.8 739.7h0M1246 756.1h0M1279.3 740.9h0M1275.8 737.6h0M1296.8 738.2h0M1246.5 758.9h0M1251.3 743.7h0M1280.6 756h0M1233.4 755.2h0M1316.1 738.9h0M1331.8 742.9h0M1307.9 749.9h0M1291 749.8h0M1343.4 736.5h0M1298.5 745.9h0M1344.1 742.7h0M1317.3 746.6h0M1269.7 745.6h0M1314.6 751.9h0M1311.7 737.2h0M1302.2 742.6h0M1254.5 755.5h0M1341.3 737.8h0M1316.3 742h0M1294.9 745.2h0M1298.2 750.3h0M1328.5 737.8h0M1313.9 737.3h0M1352.9 741.4h0M1291.2 746.7h0M1235.4 759.8h0M1298.9 736.8h0M1320.2 737.7h0M1248.3 746.5h0M1307.5 737h0M1286.5 754.8h0M1235.7 747.1h0M1322 753h0M1273.4 745.8h0M1272.1 751h0M1278.5 742.1h0M1305.5 739.4h0M1244.7 764.8h0M1315.4 747.1h0M1335 736.8h0M1220.4 757.8h0M1309.6 748.8h0M1253.4 750.2h0M1296.7 737.1h0M1309.7 748.6h0M1334.7 744.4h0M1228.1 758.2h0M1245.9 753.3h0M1294.6 738.7h0M1300.1 742.6h0M1332.9 738.8h0M1334.1 737.1h0M1291.3 746.8h0M1299 749h0M1306.7 751.7h0M1241.9 749h0M1250.3 754.4h0M1269.5 739.8h0M1284.3 753.5h0M1326.4 732.3h0M1284.3 741.3h0M1244.1 750.5h0M1259.7 755.6h0M1266.3 745.3h0M1215.7 760.9h0M1314 747.9h0M1307.9 751.9h0M1354.7 743.9h0M1277.1 741.6h0M1242.4 751.8h0M1244 760.5h0M1258.5 750h0M1271.6 744.2h0M1311.8 751.6h0M1279.9 743.5h0M1338.9 739.6h0M1326.5 743.6h0M1289.5 744.1h0M1232.7 759.5h0M1266.1 747.8h0M1301.8 739.9h0M1280.9 741.3h0M1245.8 756.4h0M1308.6 742.4h0M1325.9 749h0M1327.3 743h0M1257.5 742.1h0M1291.6 748.8h0M1283.1 737.8h0M1247.3 749.2h0M1216.5 753.5h0M1311.4 742.7h0M1316.2 740h0M1224.4 755.1h0M1296.4 737.2h0M1277.8 736.9h0M1331.2 752.5h0M1309.8 751.7h0M1263.4 753.6h0M1238.9 758.5h0M1228 755.3h0M1300.8 752.9h0M1328.6 747.7h0M1337.7 741.6h0M1337.5 743.3h0M1284.3 743.1h0M1295.7 737.6h0M1286.6 760.5h0M1348.1 741h0M1300.9 744.8h0M1318 745.5h0M1275.8 751.1h0M1290.2 744.5h0M1287.2 755.3h0M1328.3 745h0M1315.9 744.9h0M1287.7 752.9h0M1227.8 760.5h0M1244.8 741.7h0M1301.1 740.8h0M1325.6 748.9h0M1265.6 739.5h0M1248.4 749.8h0M1327.8 747.5h0M1289.6 753.9h0M1219.6 759.6h0M1288.3 745.2h0M1263.4 740.5h0M1284.1 747.8h0M1343.1 740.1h0M1296.8 748.9h0M1230.7 754h0M1286.6 741.4h0M1320.7 753.1h0M1260.5 746.7h0M1298.1 740.3h0M1306.7 746.4h0M1239.3 753.9h0M1309.8 744.6h0M1263.2 749.5h0M1319.3 736.7h0M1334.4 748.9h0M1331.2 738.3h0M1299.6 742.2h0M1258.6 751.4h0M1340.1 740h0M1256 739.7h0M1326.4 739.3h0M1253.4 766.7h0M1295.2 754.1h0M1311.4 736.2h0M1268.1 740.5h0M1282.3 749.1h0M1264.5 741.1h0M1327.3 739h0M1257.7 750.5h0M1331.6 750.6h0M1273.8 743h0M1355.8 737.8h0M1214.1 758.8h0M1334.3 751.6h0M1267.8 743.9h0M1323.7 749.1h0M1309.6 742.3h0M1272.2 741.5h0M1255.8 740.8h0M1290.6 752.4h0M1255.9 756.7h0M1277 747h0M1227.1 750.9h0M1310.3 740.4h0M1238.5 751h0M1272.3 751.8h0M1344.8 742.1h0M1231.4 747.7h0M1271.3 747.8h0M1347.7 747h0M1276.4 740.1h0M1255.4 753.3h0M1317 744.7h0M1346.5 742.2h0M1349.4 745.3h0M1305.6 751.5h0M1318.9 745.6h0M1289.6 741.4h0M1309.5 739.1h0M1252.8 759.2h0M1238.4 747.3h0M1215.9 755.4h0M1260.2 741.3h0M1349.2 746.4h0M1285.8 728.8h0M1257.2 750.5h0M1301.9 745.5h0M1300.4 738.1h0M1271.5 752.2h0M1257 749.1h0M1248 745.9h0M1265.5 755h0M1305 745.3h0M1316.4 754.6h0M1316.8 739.8h0M1326.9 741.3h0M1238.7 751.4h0M1254.7 756.2h0M1219.2 759h0M1265.6 744.2h0M1272.2 739.8h0M1289.1 742.1h0M1328.1 748.6h0M1253.4 758.1h0M1342.1 739.5h0M1238.4 749.8h0M1302.7 750.3h0M1286.2 751.4h0M1301.7 745.8h0M1252.3 748.3h0M1278.5 756.2h0M1320.2 744.3h0M1286.7 750h0M1230.4 754.4h0M1275.7 740.8h0M1237.4 760.8h0M1233.6 747.1h0M1255.5 755.1h0M1267.2 742.1h0"/>
<path stroke="#e4474b" d="M1418.6 750.8h0M1419.4 750.8h0M1432.8 754.5h0M1445 749.8h0M1446.7 742.4h0M1456.2 752h0M1463.3 752.8h0M1468.5 749.5h0M1475.2 749h0M1478.5 749h0M1489.8 752h0M1492.3 752.8h0M1496.8 749.5h0M1501 752.8h0M1506.8 748.6h0M1511 750.6h0M1517.1 747.3h0M1519.1 753.1h0M1521.6 754.5h0M1524.4 755.7h0M1527.1 749.5h0M1533 752h0M1541.7 746.9h0M1543.4 751.1h0M1545 754.5h0M1636.4 738.6h0M1654.3 739.4h0M1667.4 737.7h0M1698.4 734h0M1708.8 735.7h0M1680.8 738.6h0M1685.5 737.7h0M1600.7 741.6h0M1596.2 742.7h0M1587.8 744.4h0M1609.6 742.4h0M1614.1 742.4h0M1572.4 746.1h0M1629.7 764.9h0M1653.5 767.9h0M1699.7 767h0M1665.7 764.9h0M1641.9 762h0M1618.4 762h0M1837 748.3h0M1844.2 749.1h0M1850.9 745.6h0M1851.7 751h0M1857.6 751h0M1869.7 749.9h0M1698.6 733.8h0M1708.8 735.7h0M1739.6 730.3h0M1812.8 732.2h0M1783.9 739.7h0M1793.2 738.4h0M1797.3 742.4h0M1770.4 741.1h0M1803.2 742.4h0M1819.8 739.7h0M1699.4 766.8h0M1730.2 759.8h0M1627.4 754.1h0M1664.4 748h0M1660.7 750h0M1644.9 754.1h0M1803.3 749.2h0M1781.8 752.7h0M1782.5 748.8h0M1557.9 753h0M1615 753.3h0M1768.3 749.5h0M1631.9 756.1h0M1683.4 747.7h0M1695.8 754.2h0M1667.1 752.1h0M1579.1 749.2h0M1721.6 747.5h0M1812.5 749.1h0M1698.7 748.9h0M1663.2 748.9h0M1648 753.9h0M1795.3 751.2h0M1549.9 752.9h0M1605.2 745.6h0M1786.9 750.2h0M1715.7 749h0M1613.9 750.9h0M1722 756.5h0M1589.4 749.5h0M1752.8 749.8h0M1651 755.7h0M1773.5 748.1h0M1601.3 751.1h0M1727 752.4h0M1569.7 751h0M1756.9 746.4h0M1827.2 748h0M1773.7 751.8h0M1719.3 750.2h0M1668.6 753.9h0M1597.2 756.8h0M1670.9 750.4h0M1732 756.2h0M1628 749.4h0M1571 753.2h0M1710.8 751.5h0M1736.1 748.3h0M1666.1 753.9h0M1689.8 751.8h0M1781.8 751.7h0M1816.9 746.1h0M1742 751.7h0M1738.1 752.9h0M1794.3 747.5h0M1724 750.5h0M1672.7 763.2h0M1814.4 748.7h0M1740.1 754.5h0M1564.7 750.7h0M1555.1 754.4h0M1720 748.7h0M1719.1 746h0M1769.3 746.6h0M1764.4 745.9h0M1586.2 757.6h0M1717.9 754h0M1580.2 750h0M1559.4 753.4h0M1820.4 750h0M1627 754.8h0M1637 752.3h0M1621.8 751h0M1811.6 749.2h0M1797.8 748.9h0M1589.8 751.3h0M1778.3 746.7h0M1697.5 752.4h0M1631.6 749.3h0M1740.1 754h0M1659.5 745.9h0M1811.7 747.3h0M1729.7 753.9h0M1580.7 752.1h0M1582.3 749.9h0M1606.4 750.3h0M1718.4 753h0M1741.4 753.9h0M1590.2 752.2h0M1647.6 752.9h0M1644.2 751.8h0M1648.9 754.5h0M1595.4 751h0M1686.8 752.6h0M1650.9 751.9h0M1808.4 749.6h0M1782.7 748.3h0M1705.1 750.3h0M1797.3 751.4h0M1631.8 754h0M1639.8 752.8h0M1818.2 748.2h0M1675.5 753.8h0M1699.2 750.3h0M1739.8 753.4h0M1786.4 749.4h0M1725.4 753.1h0M1672.2 757.5h0M1563.5 750.5h0M1700.1 751.9h0M1725.7 749.1h0M1707.7 747.2h0M1629 754.4h0M1788.7 753.2h0M1684 752h0M1649 754.3h0M1709.1 755.2h0M1797.9 748.1h0M1677.8 749.6h0M1663.3 752.2h0M1685.1 747.6h0M1726.7 753.1h0M1719 754.4h0M1610.6 751.1h0M1581.7 756.1h0M1787 749h0M1683.5 752.5h0M1590.6 754.7h0M1627.3 754.3h0M1618.7 755.7h0M1698.6 753.1h0M1737.1 749.3h0M1654.6 750.1h0M1678.9 755.9h0M1813.3 749.3h0M1604.6 750.2h0M1658.1 751.9h0M1621.6 753.9h0M1668.4 749h0M1788.6 747.2h0M1584.3 750.6h0M1720.9 753.2h0M1571.3 753.8h0M1695 753.9h0M1807.8 749.2h0M1776.1 749.5h0M1745.3 748.9h0M1764.5 752h0M1811.4 749.3h0M1676.5 755.8h0M1730.5 747.1h0M1665.8 750.8h0M1630.7 757.2h0M1653.7 751.9h0M1781.2 748.2h0M1787.8 747.4h0M1688.6 755.3h0M1677.5 752.5h0M1692.2 748h0M1698.3 754h0M1811 748.7h0M1823.6 748.6h0M1579.2 750.7h0M1558 753.2h0M1802.6 749.9h0M1660.5 748.6h0M1694.1 749.7h0M1642.4 749.7h0M1599.6 751.7h0M1632.6 750.3h0M1606.2 756.2h0M1709.5 750.5h0M1765.1 751.5h0M1580.2 754.9h0M1719.1 753.5h0M1694.5 749.3h0M1613.9 757.9h0M1654.3 758.3h0M1565.4 756.2h0M1673.3 756.4h0M1695.4 755.8h0M1592.5 750.7h0M1658.9 749.7h0M1708 752.4h0M1728.7 747.1h0M1634.7 747.5h0M1653.8 748.7h0M1762 747.1h0M1822.6 749.9h0M1598.2 750.4h0M1693.4 756.2h0M1641.9 757.6h0M1683 757.7h0M1596.5 749.4h0M1704.9 751h0M1608.6 754.2h0M1714.1 749.9h0M1603.3 757h0M1727.7 751.2h0M1770.8 748.5h0M1705.9 753.5h0M1666.1 755.1h0M1799.6 747.6h0M1607.6 755.1h0M1578.6 755.1h0M1571.3 755.1h0M1575.2 752.9h0M1714.9 750.7h0M1670.1 737.4h0M1815.8 748.7h0M1793.3 748.3h0M1576.8 751.1h0M1820.3 746.7h0M1812.2 748h0M1636.5 751.4h0M1628.1 755.7h0M1668.9 749.6h0M1569.4 754.6h0M1711.5 754.8h0M1699.5 751.7h0M1736.5 752.9h0M1577 753h0M1800.6 746h0M1568.7 751.2h0M1764.2 749.6h0M1769.6 750h0M1796 750.5h0M1781.1 747.2h0M1590.7 752h0M1812.8 750.3h0M1570.3 751.3h0M1646.5 755.6h0M1748 743.3h0M1696.8 758.2h0M1745.5 744.9h0M1755.6 751.4h0M1579.8 751h0M1566.4 754.9h0M1588.5 751.9h0M1773.7 749h0M1753.8 746.4h0M1694 748.6h0M1695.1 756.6h0M1772.2 750.7h0M1714.5 753.7h0M1729 753.7h0M1729.5 753.1h0M1577.4 755h0M1773.5 749.5h0M1643.2 748.2h0M1555.6 755.3h0M1685.1 754.9h0M1615.7 755.5h0M1689.7 750.1h0M1704.8 752.3h0M1664.3 750.6h0M1768.9 750.1h0M1627.6 752.6h0M1798.4 746.8h0M1761.5 749.5h0M1690 750.7h0M1719.3 751.3h0M1718.2 747.7h0M1823.5 749.8h0M1753.6 751.6h0M1814 745.2h0M1652.6 756.7h0M1722.9 747.6h0M1825.9 748.2h0M1788 751.2h0M1775.8 746h0M1648.6 753.6h0M1798.3 747h0M1623.6 750.1h0M1650.7 749.8h0M1714.3 751.9h0M1576.1 752h0M1818.3 750.3h0M1741.6 750.4h0M1787.3 756.6h0M1630.9 754.1h0M1738.1 753h0M1758.3 752.6h0M1704.8 752.1h0M1766.6 748.8h0M1708.6 751.1h0M1615.9 757.6h0M1808 748.3h0M1789.1 749.8h0M1610.4 753.7h0M1713.4 748.4h0M1786.9 752.2h0M1730.4 754.6h0M1816.7 748.5h0M1660.8 751.2h0M1806.8 749.4h0M1586.4 753.8h0M1791 747h0M1798.2 747.2h0M1714 750.6h0M1567.3 751.3h0M1558.7 755.3h0M1729.5 752.7h0M1731.5 747.5h0M1697.3 752.3h0M1693.7 750.9h0M1699.8 757.8h0M1704.7 753.8h0M1574.2 751.8h0M1679.9 747.5h0M1686.7 747.9h0M1591.1 758.1h0M1784.7 748.2h0M1707.6 756.3h0M1693.8 750.9h0M1771.3 748h0M1711.1 753.1h0M1590.1 749.3h0M1620.2 755.4h0M1787.3 746.7h0M1661.4 754h0M1728.1 752.8h0M1756 751.6h0M1651.8 751.7h0M1610 747.7h0M1586 752.2h0M1582.3 750.5h0M1599.4 757h0M1794.9 746.7h0M1631.9 757.5h0M1741.3 753.1h0M1685.2 756.8h0M1612.3 753.2h0M1801.5 751.9h0M1630.5 751h0M1676.8 747.1h0M1645.5 757.8h0M1682.4 754.4h0M1638.8 746.8h0M1672.1 747.1h0M1745.1 753.6h0M1656.4 757.2h0M1703.4 751.2h0M1714.6 752h0M1577.6 752.1h0M1692.2 751h0M1764.7 749.8h0M1777.1 750.2h0M1566.3 753.6h0M1820.1 749.1h0M1600.8 752.2h0M1731.2 750.3h0M1600.6 750h0M1753 752.1h0M1726.2 748.1h0M1599.1 750h0M1813.5 746.3h0M1775.6 750.1h0M1822.2 749.1h0M1602.6 758.3h0M1613.4 753.7h0M1669.4 757.2h0M1729.4 754.1h0M1562.1 753.5h0M1774.1 753.5h0M1639.1 748.2h0M1694.9 751.1h0M1750.5 751.6h0M1672 755.3h0M1677.1 762.8h0M1724.5 753.6h0M1711.9 753.8h0M1674.6 754.4h0M1821.8 747.3h0M1652.1 747.7h0M1778.4 749.8h0M1759.5 752.2h0M1725.6 752.8h0M1810 751.3h0M1745.2 753.1h0M1669.3 755h0M1694.3 751.2h0M1715.3 750.5h0M1770 753.7h0M1643.7 755.8h0M1619.3 747.2h0M1761.2 747.3h0M1806.6 753.1h0M1679.7 747.1h0M1694.2 749.9h0M1720.2 750.3h0M1727 754.2h0M1702.7 752h0M1558.4 755.1h0M1741.4 753.6h0M1808.2 750.4h0M1764.4 750.9h0M1664.2 750.8h0M1652.7 754.5h0M1675 754.4h0M1563 750.1h0M1665.1 750.9h0M1737.3 750.2h0M1567.6 753.1h0M1734.2 749.6h0M1791.3 745.7h0M1793.5 749.1h0M1577.1 755.2h0M1793.3 748.2h0M1674.4 756.5h0M1821 750.2h0M1720.9 749.7h0M1587.5 759.4h0M1817.8 748.6h0M1762.2 755h0M1661.9 756.2h0M1626 747.5h0M1805.2 748.9h0M1597.9 748.3h0M1581.8 751.3h0M1765.1 753.4h0M1784.5 748.1h0M1687.4 753.5h0M1611.1 753.3h0M1689.8 756.9h0M1662.7 756.3h0M1576.2 749.9h0M1556.9 753.4h0M1731.2 751.9h0M1708 749.2h0M1781 751.7h0M1711.6 754.2h0M1770.6 756.8h0M1806.9 747.4h0M1677.6 757.7h0M1654.5 748.2h0M1577.5 752.6h0M1717.5 754.2h0M1581.1 747.5h0M1784.4 751.4h0M1662.8 755.3h0M1694.3 750.2h0M1646.3 752.4h0M1786.3 752.1h0M1577.5 752.5h0M1775.8 747h0M1826.3 747.9h0M1735.3 755.8h0M1664 754.9h0M1770.8 747.6h0M1737.5 753.4h0M1739.1 746h0M1646.2 755.3h0M1659.2 748.4h0M1683 753.5h0M1683.2 751.1h0M1723.7 756.4h0M1824.4 748.6h0M1669.2 746.9h0M1790.5 747.8h0M1621.5 755.4h0M1597.4 752.8h0M1681 753.7h0M1741.2 754.5h0M1795.1 747.3h0M1811.6 750.1h0M1633.3 759.5h0M1747.1 747.4h0M1584.1 753.2h0M1723.9 750.3h0M1795.6 747.4h0M1782.2 748.7h0M1693.3 751.9h0M1826.1 748.6h0M1637.1 751.8h0M1781.2 747.7h0M1785.2 753.6h0M1632.2 749.6h0M1640.8 757.3h0M1675.5 753.8h0M1819.4 747.6h0M1619.5 750.4h0M1807 748.9h0M1692.3 746.3h0M1726.4 755.2h0M1821.3 747.7h0M1785.8 746.9h0M1617 751.8h0M1687 747.6h0M1804.4 750.3h0M1558.9 753.8h0M1771.8 747.9h0M1809.1 748.1h0M1687.1 740.7h0M1586.2 753.2h0M1581.7 752.9h0M1640.5 757.3h0M1695.1 752h0M1704.3 755.7h0M1637.1 756.6h0M1646.2 758.7h0M1769.5 752.5h0M1826.5 749h0M1571.2 752.8h0M1776.1 752.4h0M1697.1 752.1h0M1557.5 752.8h0M1709.6 751.2h0M1819 748.1h0M1799.1 751.9h0M1554.6 755.2h0M1747.6 754.4h0M1577 755.3h0M1589.2 752.6h0M1600.7 757.3h0M1550 751.5h0M1640.2 752.8h0M1585.5 748h0M1716.2 751.5h0M1657.7 758.5h0M1652.9 758.4h0M1666.5 751.3h0M1773.3 748.6h0M1772.8 750.3h0M1595.2 755.3h0M1695.1 753.5h0M1763.5 753h0M1608.5 756.7h0M1773 747.3h0M1651.8 752h0M1692.5 754.7h0M1661.9 747.4h0M1775.8 750.6h0M1664 747.7h0M1786.1 749.8h0M1720.1 752.6h0M1753.9 747.9h0M1599.1 754.9h0M1659.5 749.9h0M1753.9 748.8h0M1658.3 748.2h0M1584 749h0M1655.8 756.8h0M1747.5 748.7h0M1554.7 753.9h0M1555.3 756.5h0M1675.4 747.1h0M1747.7 750.7h0M1595.5 755.4h0M1566.5 756.7h0M1625.5 756.5h0M1600.8 752.1h0M1736.5 754.9h0M1642.7 756h0M1569.8 752.6h0M1578.5 753.2h0M1697.8 757.3h0M1555.2 754.3h0M1764.8 753.5h0M1773.6 748.8h0M1766 753.7h0M1768 746.6h0M1590.1 751.1h0M1738.2 754.9h0M1769.6 750.5h0M1758.2 753.7h0M1663.7 748.2h0M1637.5 753.7h0M1597.9 750.8h0M1663.2 751.4h0M1773.9 745.6h0M1673.9 749.2h0M1810 750.6h0M1763.7 749.4h0M1701.8 749.4h0M1775.4 750.7h0M1629 756.6h0M1611 750.5h0M1714.4 751.6h0M1629.6 749h0M1706.2 755.5h0M1659.5 751.6h0M1593.6 751.3h0M1711.9 747.9h0M1789.3 746.5h0M1691.2 754h0M1639.5 752.9h0M1592.1 751.5h0M1550.1 751.3h0M1611 748.2h0M1664.2 758.9h0M1746 748.2h0M1615.7 756.9h0M1680.9 754.2h0M1576.2 750.8h0M1561.3 753.3h0M1722.9 752h0M1727.3 749.5h0M1572.2 755.4h0M1734.2 753h0M1775.3 752.6h0M1740.8 748.7h0M1729.9 748.2h0M1765.4 748.8h0M1712.4 746.3h0M1633.3 751.5h0M1714.3 746.6h0M1690.3 748.9h0M1758 749.2h0M1611.9 751.9h0M1710.6 755.5h0M1797.1 752.6h0M1719.3 750h0M1606.6 752.1h0M1552.5 756h0M1664.8 750.8h0M1708.4 746.8h0M1620.2 756.3h0M1637.9 749.8h0M1601.6 751.6h0M1678.5 753.1h0M1768.3 749.4h0M1580.3 756.7h0M1723.1 755.8h0M1761.4 752.8h0M1764.5 753.7h0M1818.5 748.5h0M1810.9 748h0M1714.4 749.6h0M1665.8 752.8h0M1641.8 752h0M1637.1 748.5h0M1625.5 751.2h0M1714.5 757.6h0M1807 749.8h0M1599.6 746.2h0M1667.8 751.4h0M1650.6 746.5h0M1777.1 751.4h0M1703.4 750.3h0M1648.4 750.5h0M1601.9 755.9h0M1685.3 757.7h0M1625.5 757h0M1691.5 751.6h0M1707.2 742h0M1658.1 758.2h0M1750.6 753h0M1592 755.8h0M1764.2 748.2h0M1629.7 752.3h0M1717.3 754.2h0M1743.2 748.2h0M1656.7 753.8h0M1795.1 748h0M1687.2 756.9h0M1671.1 749.4h0M1699.6 755.8h0M1724.1 751.1h0M1658.1 756.4h0M1588.7 753.1h0M1764.2 751h0M1594 749.8h0M1647.5 752.4h0M1582.3 753.4h0M1598.3 747.7h0M1730 751.1h0M1728.3 753.5h0M1665.6 754.7h0M1643.9 747.9h0M1569.1 753.4h0M1731.3 749.6h0M1776.2 748.7h0M1783.5 747.6h0M1821.3 749.2h0M1666.1 748h0M1559.4 754.8h0M1590.4 753.6h0M1737.7 751.3h0M1564.3 750.8h0M1754.8 751.4h0M1794 746.7h0M1683.4 757.1h0M1587.1 755.2h0M1575.2 755.9h0M1631.8 747.4h0M1605.1 756.8h0M1589 748.4h0M1658.9 748.7h0M1571.4 755.4h0M1594.9 753.1h0M1642 757h0M1704.6 749.9h0M1637.2 755.6h0M1813.8 748.6h0M1619 752.5h0M1592.3 753.2h0M1682.6 753.9h0M1694.8 757.3h0M1785.5 749h0M1804.8 746.5h0M1628.7 748.4h0M1583.8 752.8h0M1780.3 748.3h0M1779.9 749.2h0M1563.2 753.3h0M1757 747.2h0M1575.8 750.6h0M1801.2 749.1h0M1597.9 749.1h0M1648.4 755.4h0M1658.4 750.4h0M1662.9 757.5h0M1781.3 747.7h0M1625.7 752h0M1716.6 752.1h0M1781.5 752.1h0M1753.6 747.6h0M1566.4 752.7h0M1697.4 749.3h0M1693.4 754.7h0M1552.7 751.1h0M1742.6 755.1h0M1745 750h0M1668.4 756.4h0M1735.7 747.4h0M1580 753.7h0M1790.6 751.6h0M1821.3 747.8h0M1789.5 750.1h0M1720.3 752.5h0M1586.9 752.7h0M1636.8 746h0M1756.1 750h0M1573.1 751.2h0M1641.2 755.4h0M1606.5 753h0M1691 758.9h0M1710.1 748.9h0M1678.1 754.6h0M1632.7 750.7h0M1665.6 755.2h0M1690 756.9h0M1731.9 751.7h0M1779 750.1h0M1580.2 754.9h0M1756.3 749h0M1821.8 749h0M1727.7 750.8h0M1645.2 754.6h0M1595 753.5h0M1803.3 750.4h0M1733.1 754.4h0M1759.3 748h0M1688 753.1h0M1755.5 749.7h0M1806.7 750.6h0M1574.2 754.3h0M1690.3 756h0M1789.7 747.8h0M1647.6 750.3h0M1817.9 749.6h0M1749.7 751.7h0M1795.8 747.1h0M1560.4 752.2h0M1663.3 749.8h0M1733.4 755.5h0M1597.1 750.6h0M1780.9 748.1h0M1604 758.3h0M1755 750.4h0M1799.2 748.1h0M1810.6 748.9h0M1610 749.8h0M1602.9 755.6h0M1560.2 754.6h0M1732.7 754.6h0M1683.5 755.3h0M1589.1 755.2h0M1758.2 747.5h0M1672.7 755.6h0M1554.2 753.9h0M1781.8 748.2h0M1639.8 750.5h0M1642 755.2h0M1601.1 749.8h0M1724.6 750.3h0M1774.8 748.1h0M1768.9 753.5h0M1632.6 750.9h0M1627.6 750.2h0M1553.8 751.4h0M1793.6 748.3h0M1577.2 755.3h0M1724 753.3h0M1808.3 747.2h0M1774.9 751.6h0M1713 750h0M1574.2 747.1h0M1631 753.7h0M1811.3 751.4h0M1565.2 752.1h0M1741.2 745.9h0M1630.7 748.9h0M1814.1 747.3h0M1815.5 746h0M1638.8 749.7h0M1723.3 752.6h0M1662.5 749.6h0M1655.8 751.9h0M1628.5 748.3h0M1812.4 747.9h0M1746.8 750.8h0M1771.2 750.3h0M1556.1 753.9h0M1691.3 754.2h0M1588 757.1h0M1597.6 753.8h0M1792.1 750.5h0M1674.5 748.3h0M1620.6 749.7h0M1658.8 753.8h0M1568.9 751.6h0M1646.2 754.1h0M1743.5 749.4h0M1563.7 753.2h0M1732.1 751.1h0M1803.9 747.8h0M1697.4 756h0M1759.4 752.5h0M1794.7 751.2h0M1779.2 752h0M1610.2 754.4h0M1566.3 757.1h0M1710.4 744.3h0M1775.6 749.4h0M1562.8 751.9h0M1713.3 751.9h0M1576.8 753.7h0M1716.1 752.3h0M1736.5 755.6h0M1592.8 754.8h0M1572.6 752.9h0M1800.3 748.1h0M1626.1 756.4h0M1787.8 750.7h0M1815.7 749h0M1666.7 753.8h0M1609.4 756.3h0M1662 754h0M1714.5 756.7h0M1672.6 746.8h0M1554.1 752.4h0M1726.8 755.3h0M1632.6 751.4h0M1596.4 749.8h0M1817.3 747.6h0M1724.7 750.2h0M1614.8 752.4h0M1751 746.6h0M1571 752.4h0M1595.2 754.4h0M1562.8 754.5h0M1608.5 749.4h0M1745.5 752.6h0M1633.4 753.2h0M1698.2 746.3h0M1760.6 752.3h0M1569.3 755.5h0M1782 747.1h0M1684.8 751.4h0M1772.6 747.8h0M1629.9 749.1h0M1607.5 753h0M1579.2 754.1h0M1635.7 750h0M1665.1 751.7h0M1648.8 746.2h0M1564.1 754h0M1623.4 756.3h0M1711 752.6h0M1770.7 748.1h0M1753.4 751.1h0M1652.5 755.1h0M1808.8 748.6h0M1751.6 752.7h0M1654.4 758.1h0M1775.1 752.3h0M1609.8 748.2h0M1693.8 757.8h0M1564.8 752.8h0M1751.6 753.2h0M1801.8 748.4h0M1764.2 749.1h0M1759.1 750.8h0M1618.7 746.4h0M1650.4 751h0M1787.2 747.6h0M1783.8 753h0M1639.5 751.9h0M1825.7 748.5h0M1605.6 755.9h0M1701.5 756.8h0M1643.7 750.7h0M1581 750.1h0M1727.5 754.1h0M1582.7 756.6h0M1615.8 754.4h0M1648.4 745.1h0M1697.9 753.2h0M1569.1 753h0M1599.5 756.6h0M1621.4 759.4h0M1699.7 752.6h0M1693.9 750.4h0M1589.1 752.5h0M1720.2 753.9h0M1773.1 745.9h0M1785 747.8h0M1652.1 748.1h0M1654.8 751.9h0M1686.1 752.8h0M1721.3 752.5h0M1653.3 748h0M1621.7 749.9h0M1768.6 750.4h0M1722.9 747.9h0M1760.5 752.2h0M1740.3 751.5h0M1723.4 750.6h0M1705.3 757h0M1732.5 749.2h0M1555.1 751.5h0M1728.1 752.4h0M1664 757.1h0M1782.7 752.7h0M1724.4 755.8h0M1628.6 757.2h0M1750.4 752.5h0M1649.7 750.7h0M1704.6 752h0M1711.1 751.7h0M1616.3 756.1h0M1693.3 748.9h0M1806.8 747.5h0M1628.1 750.3h0M1751.8 752.4h0M1796.5 749.9h0M1609.9 751.3h0M1619.2 756.3h0M1715.4 750.7h0M1612.6 747.6h0M1749.9 749.3h0M1697.4 756.3h0M1809.6 748.6h0M1816.2 747.2h0M1786 751h0M1627.1 753.9h0M1639.6 758h0M1627.3 748.8h0M1800.2 751.1h0M1682.1 757h0M1755.1 748.8h0M1624 747.6h0M1631.4 753.1h0M1662.6 758.3h0M1775 752.7h0M1822.9 749.3h0M1627.8 754.4h0M1558 753.3h0M1787.2 752.1h0M1775.1 751.7h0M1681.8 751h0M1731.7 751.7h0M1807.5 749.5h0M1753.6 747.5h0M1750.7 749h0M1632.1 749.3h0M1813.1 747.5h0M1643.9 754.6h0M1665.2 754.8h0M1742 749.6h0M1709.8 747.1h0M1650 754.4h0M1800.1 751.8h0M1625.3 756h0M1626.2 757.8h0M1773 752.2h0M1567.8 756.8h0M1792.5 751.2h0M1705.1 753.7h0M1724 753.7h0M1605.6 754h0M1713.8 754.3h0M1788.8 746.5h0M1591.2 752.1h0M1800.8 748.3h0M1749.2 755h0M1645.9 757.1h0M1644.7 752.8h0M1567 753.8h0M1684.1 755.2h0M1611.7 756.3h0M1747.9 754.2h0M1593.1 751h0M1631.1 746.8h0M1774.4 746.8h0M1612.3 748.3h0M1798.4 748.3h0M1784.3 748.1h0M1673.9 747.9h0M1824.1 748.1h0M1738.6 745.6h0M1726.5 749.7h0M1758.6 748h0M1589.8 751.8h0M1696.5 746.7h0M1583.4 749.4h0M1586.8 749.9h0M1700.4 753.8h0M1606.9 751.1h0M1819.8 750.6h0M1694.4 755.5h0M1774.7 750.8h0M1743.9 755h0M1824.8 750.9h0M1699.7 744.9h0M1743.4 747.5h0M1690.7 754.7h0M1603.9 751.5h0M1667.4 754.8h0M1615.5 761.4h0M1699.9 758.5h0M1706.6 752.2h0M1751.4 752h0M1674.8 762h0M1775.7 749.9h0M1584.9 757h0M1647.6 750.8h0M1625.9 754h0M1603.7 756.6h0M1597.4 754.2h0M1758.8 750.2h0M1641.6 757.3h0M1612.8 755.7h0M1747.2 753.3h0M1735 752.2h0M1686 750.7h0M1677.8 754.7h0M1746.9 749.3h0M1579.5 750.8h0M1605.7 757.1h0M1709.7 750h0M1750.7 747.2h0M1667.5 756.7h0M1700.7 753.9h0M1619.5 756.5h0M1561.8 750.8h0M1742.1 749h0M1744.1 748.8h0M1628.3 749.4h0M1820.3 748.4h0M1592.4 752.6h0M1561.6 750.2h0M1811.4 750.1h0M1711.4 755.8h0M1626.3 748.3h0M1753.1 751.7h0M1638.5 758.2h0M1671.8 754.6h0M1567.6 750.7h0M1786.8 751.4h0M1734.8 754.2h0M1684.1 748.4h0M1674.7 759.1h0M1606.7 750.2h0M1686.1 753.1h0M1746.2 753.6h0M1576.8 755.2h0M1670 753.1h0M1746.3 752.8h0M1609.8 755.3h0M1818.3 749.1h0M1724.9 749.2h0M1598.9 750.1h0M1635.8 755.2h0M1689.9 755.2h0M1660.8 751.9h0M1732.7 753h0M1694.5 748h0M1581.6 750.7h0M1625 755.1h0M1798.6 747.5h0M1572 755h0M1598.2 748.9h0M1776.5 750.8h0M1738.3 753.7h0M1655.9 755.2h0M1607.6 753.2h0M1758.9 750.8h0M1748.7 754.7h0M1762.1 749h0M1781.9 751.6h0M1818.9 748.8h0M1549.7 753h0M1678.5 747.7h0M1590.6 756.4h0M1696.6 756.9h0M1684.8 750.9h0M1755.6 751h0M1573.4 754.6h0M1662.5 749h0M1571.9 753.1h0M1730.7 749.7h0M1825.7 748.7h0M1690.4 750.2h0M1790.3 752.9h0M1703.9 753.8h0M1686.9 751.9h0M1643.3 757.7h0M1794.3 752.6h0M1753.9 752.8h0M1602.5 754h0M1561.7 753.2h0M1741 755h0M1763.4 747.4h0M1643.9 756.7h0M1752.1 748.5h0M1802.8 750h0M1758 748.1h0M1686.1 754.9h0M1612.2 752.2h0M1709.7 750.9h0M1801.5 746.9h0M1603.9 755.4h0M1769.6 752.4h0M1616.5 757.8h0M1777.1 750h0M1718.5 751.2h0M1758.7 751.5h0M1720.5 754.5h0M1792.5 746.4h0M1576.1 756.6h0M1679.5 756h0M1696.2 756h0M1554 753.4h0M1698.9 751.8h0M1593.6 756.7h0M1736.8 750h0M1562.4 751.2h0M1623.6 748.6h0M1821.9 747.7h0M1802.9 752.2h0M1765.9 748.4h0M1635.6 755.1h0M1640.9 749h0M1664.6 750.8h0M1680.3 756.4h0M1638.3 753.3h0M1674.1 758.1h0M1659.9 749.2h0M1636.8 750.5h0M1608.2 747h0M1732 749.3h0M1549.6 755.6h0M1695.1 757.2h0M1641.4 754.2h0M1709.2 759h0M1739.1 754.2h0M1767.5 751.4h0M1722.8 756h0M1673.1 742.8h0M1798.8 747.6h0M1608.5 753.5h0M1631 749h0M1627.3 748.5h0M1737.3 747.1h0M1778.7 753.7h0M1807.4 750h0M1579.1 753.4h0M1613.9 755.9h0M1677.8 750.5h0M1664.5 756.9h0M1721.8 749.9h0M1716.9 760.3h0M1775.6 754h0M1668.4 757.5h0M1815.5 750.4h0M1577 753h0M1618 755.1h0M1750 749.2h0M1633.9 755.1h0M1696.3 756.8h0M1576.6 754.4h0M1575 753.5h0M1714.1 752.1h0M1780.6 751.2h0M1624.4 749h0M1777.6 750.3h0M1801.3 755.1h0M1746.8 747.6h0M1672.4 756.2h0M1827.1 748.9h0M1709.7 752.5h0M1626.8 755h0M1769.5 753.3h0M1564 755.5h0M1721 747.9h0M1694.8 747.7h0M1648.1 757.6h0M1816.9 747.8h0M1664.5 748.2h0M1740.7 753.7h0M1819.4 748h0M1728 754.3h0M1669.1 755.4h0M1682.5 755.7h0M1697.9 746.6h0M1702.8 751h0M1685.9 750.8h0M1704 750.2h0M1816.9 750.6h0M1690.2 754.6h0M1688.8 747.1h0M1672 744.7h0M1581.2 756.3h0M1599.3 751.7h0M1656.7 756.9h0M1821.1 749.2h0M1709.9 753.7h0M1719.7 755.4h0M1721.5 748.8h0M1760.2 751.5h0M1727.4 754.1h0M1691.4 757.7h0M1721.9 750.1h0M1699.8 754.8h0M1622.3 748.7h0M1705.1 751.7h0M1604.7 756.7h0M1565.9 752.4h0M1635.2 753.8h0M1630.1 756.1h0M1647.2 756.3h0M1674 750.5h0M1623.4 751.1h0M1609 752.3h0M1800.5 751.8h0M1757.5 749.5h0M1700.1 750.1h0M1671.3 750.9h0M1803.4 747.7h0M1729.9 749.7h0M1617 754.5h0M1687.4 746.8h0M1702.9 751.2h0M1683.9 754.7h0M1674.2 756.3h0M1670.1 755.3h0M1675.8 752.5h0M1759.2 751.3h0M1671.7 753.2h0M1564.8 751.1h0M1759.2 750.7h0M1764.7 748.9h0M1717.3 750.4h0M1626.1 751.8h0M1712.6 749.7h0M1801.7 746.3h0M1626.2 754.3h0M1734.2 752.2h0M1776.2 747.9h0M1713.1 751.2h0M1664.2 755.5h0M1675.8 747.6h0M1789.1 750.5h0M1568.9 750.4h0M1770.2 752.8h0M1746.8 746.9h0M1814.5 749.9h0M1572.1 750.4h0M1673.9 753.3h0M1589.4 756.8h0M1689.3 748h0M1558.6 753.1h0M1689.2 746.1h0M1723.8 748h0M1695.2 746.6h0M1681 749.2h0M1614.8 752.5h0M1642.8 751.2h0M1720.7 754.8h0M1788.9 750.6h0M1613.6 753.6h0M1815.3 750.6h0M1771.1 750h0M1682.8 752.3h0M1714.5 747h0M1684.1 757.4h0M1714.9 746.5h0M1735.5 749h0M1616.3 749.6h0M1655.7 754.3h0M1600.3 759.7h0M1676.6 752.8h0M1727.6 743.8h0M1816.4 751.4h0M1589.8 758h0M1628.3 754.8h0M1722.3 743h0M1796.7 738.6h0M1626.8 753.2h0M1688.9 758h0M1643.5 759.4h0M1729.3 745.8h0M1768.1 754.9h0M1669.8 761.2h0M1618.5 758.7h0M1761.5 755h0M1764.3 752.4h0M1688.1 757.1h0M1660 753.5h0M1680.4 754.4h0M1779.8 756.9h0M1777.4 743.4h0M1770.1 744.1h0M1781.2 749.6h0M1705.4 743.2h0M1672.3 743.8h0M1713.3 747h0M1695 756.8h0M1575 749.5h0M1651.8 760.9h0M1756.4 742.6h0M1606.5 759.9h0M1636.7 750.1h0M1715.9 744.8h0M1654.8 744.1h0M1711.4 760.1h0M1786.6 749.7h0M1664.9 748.7h0M1722 748.7h0M1573.4 748.4h0M1690.9 747h0M1788 747.3h0M1768.1 756.2h0M1724.3 744.1h0M1707.5 755.9h0M1706.7 751.3h0M1779.5 756.4h0M1633.7 749.4h0M1804.5 751.9h0"/>
<path stroke="#5b5d59" d="M1439 694.3h0M1453.2 698h0M1429.8 709.4h0M1417.7 716.8h0M1442.8 721.8h0M1440.3 728.5h0M1428.8 734h0M1464.6 715.9h0M1477.9 715.3h0M1502.3 707.6h0M1527.3 718h0M1581.1 712.3h0M1630.8 723.8h0M1781.2 718.3h0M1806.7 709.4h0M1926.5 699.2h0M1417.4 716.9h0"/>
<path stroke="#4a9e15" d="M1422.4 572.7h0M1585.8 576.2h0M1575.2 589.4h0M1588.4 599.8h0M1450.7 602.5h0M1510.7 601.7h0M1537.5 607.4h0M1540.5 613.1h0M1621.3 613.7h0M1563.8 618.3h0M1566 622.4h0M1610.4 623.3h0M1485.2 623.1h0M1493.6 621.1h0M1493.6 626.3h0M1514.4 622.4h0M1509.5 626.3h0M1548.1 627.6h0M1644.7 628.8h0M1678.8 626.8h0M1501 637.2h0M1507 638h0M1514.4 636.5h0M1522.1 637.5h0M1600.7 635.3h0M1621.3 633.7h0M1674.1 640.2h0M1463.4 647.7h0M1472 649.4h0M1508.5 646.7h0M1537.5 647.7h0M1545.2 646.6h0M1609.1 644.9h0M1587.4 649.6h0M1581.9 652.3h0M1478.7 659h0M1527.3 661.8h0M1545.2 663.7h0M1581.1 660h0M1576.2 667.3h0M1593 666.5h0M1695.5 668.2h0M1488.2 674.9h0M1551.7 677.9h0M1557.6 676.1h0M1564 677.7h0M1635.5 682.4h0M1676.8 680.4h0M1546.2 699.2h0M1630.5 708.7h0M1633 708.7h0M1695.9 668.1h0M1738.8 663.8h0M1769.1 688h0"/>
<path stroke="#2163cd" d="M1233.6 489h0M1216.1 499.2h0M1305.4 502.9h0M1328.2 506.4h0M1329.5 505h0M1329.5 522h0M1188.8 531.1h0M1172.2 549.8h0M1167.9 568.1h0M1383.7 549.8h0M1380 585.5h0M1355.8 590.3h0M1352.9 603.7h0M1348.8 557.3h0M1347.5 564.9h0M1277.5 634.3h0M1293.6 626.2h0M1305.4 639.1h0M1274 609.1h0M1244.6 613.9h0M1236.5 606.4h0M1206.2 596.2h0M1203.5 587.6h0M1216.1 656.5h0M1196.3 519h0M1202.7 515.3h0M1197.6 525.7h0M1204.3 525.7h0M1212.4 523.8h0M1217 515.3h0M1226.9 525.2h0M1230.9 521.2h0M1234.9 517.1h0M1241.1 514.5h0M1207 538.6h0M1230.3 540.5h0M1219.6 529.2h0M1222.3 533.2h0M1324.2 615h0M1321 614.5h0M1317.5 606.1h0M1321.5 602.4h0M1336.2 598.9h0M1334.9 590.9h0M1338.9 586h0M1329.5 596.2h0M1276.3 555h0M1289.8 585.7h0M1281.9 580.6h0M1267.3 608.1h0M1274.7 592.1h0M1276.2 561.5h0M1305.5 555.9h0M1239.5 598.2h0M1245.8 556.3h0M1250.8 586.1h0M1234.2 545h0M1272.9 582.9h0M1286.8 565.6h0M1228 587.2h0M1336.2 607.7h0M1259.3 583.7h0M1268.5 535.3h0M1218.1 593.2h0M1215.7 529.2h0M1239.4 546.6h0M1239.9 589.6h0M1273.8 553.8h0M1213.1 583.4h0M1220.5 550h0M1268.2 563.7h0M1173.5 551.9h0M1302.2 575.6h0M1270.7 551.7h0M1319.9 532.1h0M1248.8 575.7h0M1277.1 556.1h0M1260.4 580.6h0M1260.7 572.7h0M1182.8 574.4h0M1258.8 580h0M1205.2 559.3h0M1326.1 584h0M1231.6 559.5h0M1237.7 591.6h0M1188.2 579.7h0M1237.1 547.1h0M1280.3 600.8h0M1283.4 539.7h0M1257 587.1h0M1285.6 581.5h0M1292.2 584.9h0M1199.7 585.3h0M1219 598h0M1283.8 567.4h0M1304.8 581.6h0M1233.4 592.3h0M1249.2 587.8h0M1211.5 574.6h0M1276.4 552.7h0M1321.3 612.1h0M1308 601.7h0M1221.7 584.3h0M1264.3 581.9h0M1231.7 580.8h0M1272.3 543.8h0M1246.6 566.3h0M1242 530.2h0M1260.7 561.2h0M1248.3 531.9h0M1194.2 584.8h0M1296 599.6h0M1236.5 587.5h0M1242.8 591.8h0M1335.8 547.9h0M1214.5 590.2h0M1265.5 579.5h0M1250.8 602.7h0M1281.8 539.6h0M1343.2 577.8h0M1283.7 575.3h0M1306.8 551.8h0M1211.5 565h0M1279.6 576.3h0M1227.1 550.7h0M1287.9 560.5h0M1190.1 551.5h0M1285.2 598.7h0M1183.5 585.7h0M1325.1 588.5h0M1348.8 572.7h0M1218.4 589.2h0M1250.7 589.6h0M1258.3 597.4h0M1307 591.1h0M1245.6 594.2h0M1280.3 588.3h0M1302.4 580.2h0M1240.9 574h0M1233.1 562.8h0M1266.3 552.8h0M1256.8 577.1h0M1299.6 572.1h0M1250.8 547.8h0M1243.8 560.4h0M1236.8 604.3h0M1263.4 566.8h0M1224.3 569.1h0M1264.9 556.1h0M1192.5 569.4h0M1309.8 545.1h0M1243.3 560.3h0M1214.1 573.2h0M1305.1 554.9h0M1264 585.4h0M1241 553.3h0M1175.7 585.3h0M1218 576.6h0M1331.2 580h0M1270.3 613.4h0M1286.9 530.7h0M1250 590.8h0M1282 554h0M1276 576.3h0M1257.4 560.7h0M1312.4 534.7h0M1190.4 580.3h0M1254.6 556.1h0M1264.2 575.1h0M1245.1 625.6h0M1269.5 562.9h0M1258.3 575.2h0M1235.9 594.2h0M1305.6 605.8h0M1264.9 579.6h0M1269.5 585.7h0M1224.5 598.9h0M1227.8 595.2h0M1246.6 566.8h0M1242 583.5h0M1302 580.2h0M1243.3 571.7h0M1285.8 586h0M1287.6 575.4h0M1222.5 590.1h0M1254.3 568.9h0M1289.4 546.3h0M1235 579.6h0M1223.3 575.6h0M1289.3 561.6h0M1224.6 589.4h0M1221.6 564h0M1264.4 573.2h0M1342.7 546h0M1315.3 582.6h0M1274.5 559.9h0M1253.8 564.3h0M1210.6 582.9h0M1258.2 583.7h0M1267.7 595.8h0M1199 572.8h0M1231.7 589.7h0M1238.3 591.9h0M1308 578.4h0M1244.1 606.4h0M1277.2 572.5h0M1290.1 572h0M1268 559.7h0M1288 553.4h0M1234 578.1h0M1292.7 564h0M1298.9 536h0M1243.3 542.5h0M1203.7 560.6h0M1317.1 593.6h0M1217 575.3h0M1316 553.4h0M1243.5 567.9h0M1278.6 620.8h0M1259.5 562.3h0M1206.9 595.4h0M1270.3 574h0M1272.6 530.7h0M1262.5 568.6h0M1257.3 538.6h0M1264.6 567.5h0M1264.3 568h0M1205.3 558.7h0M1283.9 551.4h0M1266.8 591.5h0M1232.8 593.9h0M1258.6 582.4h0M1244 570.2h0M1271.7 564.4h0M1286.9 542.1h0M1268.9 560.2h0M1247.8 538.4h0M1235.2 546.2h0M1251.3 571.4h0M1308 584.7h0M1227.6 600h0M1292.7 583.8h0M1211.5 565.9h0M1219.1 594.8h0M1236.2 611.8h0M1346.6 560.7h0M1280.1 580.1h0M1269.2 600.2h0M1295 601h0M1243.9 594.3h0M1271 539.3h0M1290.3 537.7h0M1225 560.2h0M1254.2 615.4h0M1215.2 571.8h0M1260.2 533.3h0M1207.8 548.4h0M1237.5 559h0M1222.7 583.1h0M1226.8 597.1h0M1309.7 576h0"/>
</g>
</g>
<text class="pl" style="font-size:31.7px" transform="translate(18.6 19.3) scale(0.8 1)">a</text>
<text class="pl" x="935.2" y="56.6">i</text>
<text class="pl" x="1968.3" y="60.2">ii</text>
<text class="pl" x="935.4" y="466.7">iii</text>
<text class="pl" x="1968" y="471.6">iv</text>
<text class="pl" x="1479.8" y="936.9">b</text>
<path d="M628.5 920.6V1404.3H1414.3" stroke="#b3b3b3" stroke-width="1.6" stroke-linejoin="round" fill="none"/>
<text class="ax" font-size="19.5" text-anchor="end" x="607" y="1415.4">0</text>
<text class="ax" font-size="19.5" text-anchor="end" x="607" y="1355">5</text>
<text class="ax" font-size="19.5" text-anchor="end" x="607" y="1294.6">10</text>
<text class="ax" font-size="19.5" text-anchor="end" x="607" y="1234.2">15</text>
<text class="ax" font-size="19.5" text-anchor="end" x="607" y="1173.8">20</text>
<text class="ax" font-size="19.5" text-anchor="end" x="607" y="1113.4">25</text>
<text class="ax" font-size="19.5" text-anchor="end" x="607" y="1053">30</text>
<text class="ax" font-size="19.5" text-anchor="end" x="607" y="992.6">35</text>
<text class="ax" font-size="19.5" text-anchor="end" x="607" y="932.2">40</text>
<text class="ax" font-size="19.5" text-anchor="middle" x="628.7" y="1447.2">0</text>
<text class="ax" font-size="19.5" text-anchor="middle" x="785.8" y="1447.2">1</text>
<text class="ax" font-size="19.5" text-anchor="middle" x="942.8" y="1447.2">2</text>
<text class="ax" font-size="19.5" text-anchor="middle" x="1099.9" y="1447.2">3</text>
<text class="ax" font-size="19.5" text-anchor="middle" x="1256.9" y="1447.2">4</text>
<text class="ax" font-size="19.5" text-anchor="middle" x="1414" y="1447.2">5</text>
<text class="ax" font-size="22.5" text-anchor="middle" transform="translate(571.3 1162.6) rotate(-90)">Average Cq</text>
<text class="ax" font-size="22.5" x="909" y="1484.4">Log<tspan font-size="14" dy="4">10</tspan></text>
<text class="ax" font-size="22.5" x="973.3" y="1484.4" textLength="160.5" lengthAdjust="spacingAndGlyphs">DNA copies/rxn</text>
<circle cx="755.1" cy="977.7" r="7.6" fill="#000"/>
<circle cx="865.1" cy="1009.3" r="7.6" fill="#000"/>
<circle cx="974.9" cy="1038.1" r="7.6" fill="#000"/>
<circle cx="1084.4" cy="1066.5" r="7.6" fill="#000"/>
<circle cx="1194" cy="1095.7" r="7.6" fill="#000"/>
<circle cx="1304.1" cy="1124.8" r="7.6" fill="#000"/>
<circle cx="1366.7" cy="1143.5" r="7.6" fill="#000"/>
<path d="M755.1 973.9L762.4 988.3H747.8Z" fill="none" stroke="#a6a6a6" stroke-width="2.3" stroke-linejoin="miter"/>
<path d="M865.1 1003.5L872.4 1017.9H857.8Z" fill="none" stroke="#a6a6a6" stroke-width="2.3" stroke-linejoin="miter"/>
<path d="M974.9 1033.4L982.2 1047.8H967.6Z" fill="none" stroke="#a6a6a6" stroke-width="2.3" stroke-linejoin="miter"/>
<path d="M1084.4 1060.5L1091.7 1074.9H1077.1Z" fill="none" stroke="#a6a6a6" stroke-width="2.3" stroke-linejoin="miter"/>
<path d="M1194 1089.5L1201.3 1103.9H1186.7Z" fill="none" stroke="#a6a6a6" stroke-width="2.3" stroke-linejoin="miter"/>
<path d="M1304.1 1118.3L1311.4 1132.7H1296.8Z" fill="none" stroke="#a6a6a6" stroke-width="2.3" stroke-linejoin="miter"/>
<path d="M1366.7 1134.9L1374 1149.3H1359.4Z" fill="none" stroke="#a6a6a6" stroke-width="2.3" stroke-linejoin="miter"/>
<path d="M755.1 977.7L1366.7 1143.5" stroke="#000" stroke-width="3.1" stroke-dasharray="6.6 6.2" stroke-dashoffset="-0.3" stroke-linecap="round" fill="none"/>
<path d="M755.1 981.6L1366.7 1142.9" stroke="#a6a6a6" stroke-width="2.5" stroke-dasharray="6.8 6" stroke-dashoffset="-0.4" stroke-linecap="round" fill="none"/>
<circle cx="1458.5" cy="1192.6" r="10.2" fill="#000"/>
<text class="ax" font-size="20.5" x="1472.2" y="1200.2">G143</text>
<path d="M1458.6 1233.6L1467.6 1251.6H1449.6Z" fill="none" stroke="#a6a6a6" stroke-width="2.7"/>
<text class="ax" font-size="20.5" x="1472.2" y="1250.8">A143</text>
</svg></body></html>
